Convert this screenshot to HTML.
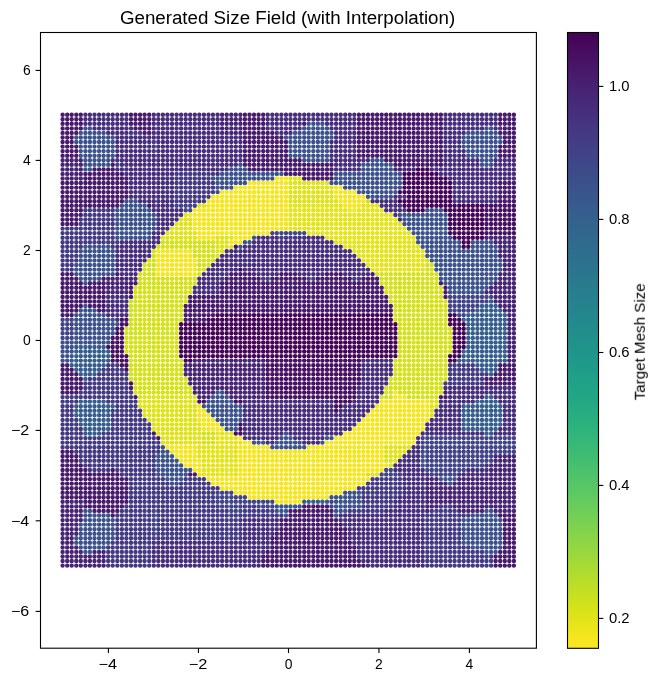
<!DOCTYPE html>
<html><head><meta charset="utf-8"><style>
html,body{margin:0;padding:0;background:#fff;width:659px;height:682px;overflow:hidden}
svg{display:block;font-family:"Liberation Sans",sans-serif}
text{will-change:transform}
</style></head><body>
<svg width="659" height="682" viewBox="0 0 659 682">
<defs><linearGradient id="cb" x1="0" y1="0" x2="0" y2="1"><stop offset="0.000" stop-color="#440154"/><stop offset="0.031" stop-color="#470d60"/><stop offset="0.062" stop-color="#48186a"/><stop offset="0.094" stop-color="#482374"/><stop offset="0.125" stop-color="#472d7b"/><stop offset="0.156" stop-color="#453781"/><stop offset="0.188" stop-color="#424086"/><stop offset="0.219" stop-color="#3e4989"/><stop offset="0.250" stop-color="#3b528b"/><stop offset="0.281" stop-color="#375b8d"/><stop offset="0.312" stop-color="#33638d"/><stop offset="0.344" stop-color="#2f6b8e"/><stop offset="0.375" stop-color="#2c728e"/><stop offset="0.406" stop-color="#297a8e"/><stop offset="0.438" stop-color="#26828e"/><stop offset="0.469" stop-color="#23898e"/><stop offset="0.500" stop-color="#21918c"/><stop offset="0.531" stop-color="#1f988b"/><stop offset="0.562" stop-color="#1fa088"/><stop offset="0.594" stop-color="#22a785"/><stop offset="0.625" stop-color="#28ae80"/><stop offset="0.656" stop-color="#32b67a"/><stop offset="0.688" stop-color="#3fbc73"/><stop offset="0.719" stop-color="#4ec36b"/><stop offset="0.750" stop-color="#5ec962"/><stop offset="0.781" stop-color="#70cf57"/><stop offset="0.812" stop-color="#84d44b"/><stop offset="0.844" stop-color="#98d83e"/><stop offset="0.875" stop-color="#addc30"/><stop offset="0.906" stop-color="#c2df23"/><stop offset="0.938" stop-color="#d8e219"/><stop offset="0.969" stop-color="#ece51b"/><stop offset="1.000" stop-color="#fde725"/></linearGradient></defs>
<rect width="659" height="682" fill="#fff"/>
<text x="119.9" y="23.6" font-size="18" textLength="335.3" lengthAdjust="spacingAndGlyphs" fill="#000">Generated Size Field (with Interpolation)</text>
<g fill="none" stroke-linecap="round" stroke-width="4.42"><path stroke="#481a6c" d="M62.6 114.7h0M67.2 114.7h0M71.7 114.7h0M76.3 114.7h0M80.8 114.7h0M131.0 114.7h0M135.5 114.7h0M140.1 114.7h0M144.6 114.7h0M149.2 114.7h0M244.9 114.7h0M249.5 114.7h0M254.0 114.7h0M258.6 114.7h0M263.2 114.7h0M358.9 114.7h0M363.4 114.7h0M368.0 114.7h0M372.6 114.7h0M377.1 114.7h0M381.7 114.7h0M386.2 114.7h0M390.8 114.7h0M395.4 114.7h0M399.9 114.7h0M404.5 114.7h0M409.0 114.7h0M413.6 114.7h0M418.1 114.7h0M422.7 114.7h0M427.3 114.7h0M431.8 114.7h0M436.4 114.7h0M440.9 114.7h0M500.2 114.7h0M504.8 114.7h0M509.3 114.7h0M513.9 114.7h0M62.6 119.3h0M67.2 119.3h0M71.7 119.3h0M76.3 119.3h0M80.8 119.3h0M131.0 119.3h0M135.5 119.3h0M140.1 119.3h0M144.6 119.3h0M149.2 119.3h0M244.9 119.3h0M249.5 119.3h0M254.0 119.3h0M258.6 119.3h0M263.2 119.3h0M358.9 119.3h0M363.4 119.3h0M368.0 119.3h0M372.6 119.3h0M377.1 119.3h0M381.7 119.3h0M386.2 119.3h0M390.8 119.3h0M395.4 119.3h0M399.9 119.3h0M404.5 119.3h0M409.0 119.3h0M413.6 119.3h0M418.1 119.3h0M422.7 119.3h0M427.3 119.3h0M431.8 119.3h0M436.4 119.3h0M440.9 119.3h0M500.2 119.3h0M504.8 119.3h0M509.3 119.3h0M513.9 119.3h0M62.6 123.8h0M67.2 123.8h0M71.7 123.8h0M76.3 123.8h0M80.8 123.8h0M131.0 123.8h0M135.5 123.8h0M140.1 123.8h0M144.6 123.8h0M149.2 123.8h0M244.9 123.8h0M249.5 123.8h0M254.0 123.8h0M258.6 123.8h0M263.2 123.8h0M304.2 123.8h0M358.9 123.8h0M363.4 123.8h0M368.0 123.8h0M372.6 123.8h0M377.1 123.8h0M381.7 123.8h0M386.2 123.8h0M390.8 123.8h0M395.4 123.8h0M399.9 123.8h0M404.5 123.8h0M409.0 123.8h0M413.6 123.8h0M418.1 123.8h0M422.7 123.8h0M427.3 123.8h0M431.8 123.8h0M436.4 123.8h0M440.9 123.8h0M500.2 123.8h0M504.8 123.8h0M509.3 123.8h0M513.9 123.8h0M62.6 128.4h0M67.2 128.4h0M71.7 128.4h0M76.3 128.4h0M80.8 128.4h0M135.5 128.4h0M140.1 128.4h0M144.6 128.4h0M149.2 128.4h0M244.9 128.4h0M249.5 128.4h0M254.0 128.4h0M258.6 128.4h0M263.2 128.4h0M358.9 128.4h0M363.4 128.4h0M368.0 128.4h0M372.6 128.4h0M377.1 128.4h0M381.7 128.4h0M386.2 128.4h0M390.8 128.4h0M395.4 128.4h0M399.9 128.4h0M404.5 128.4h0M409.0 128.4h0M413.6 128.4h0M418.1 128.4h0M422.7 128.4h0M427.3 128.4h0M431.8 128.4h0M436.4 128.4h0M440.9 128.4h0M504.8 128.4h0M509.3 128.4h0M513.9 128.4h0M62.6 132.9h0M67.2 132.9h0M71.7 132.9h0M76.3 132.9h0M144.6 132.9h0M149.2 132.9h0M244.9 132.9h0M249.5 132.9h0M254.0 132.9h0M258.6 132.9h0M263.2 132.9h0M267.7 132.9h0M272.3 132.9h0M358.9 132.9h0M363.4 132.9h0M368.0 132.9h0M372.6 132.9h0M377.1 132.9h0M381.7 132.9h0M386.2 132.9h0M390.8 132.9h0M395.4 132.9h0M399.9 132.9h0M404.5 132.9h0M409.0 132.9h0M413.6 132.9h0M418.1 132.9h0M422.7 132.9h0M427.3 132.9h0M431.8 132.9h0M436.4 132.9h0M440.9 132.9h0M500.2 132.9h0M504.8 132.9h0M509.3 132.9h0M513.9 132.9h0M62.6 137.5h0M67.2 137.5h0M71.7 137.5h0M244.9 137.5h0M249.5 137.5h0M254.0 137.5h0M258.6 137.5h0M263.2 137.5h0M267.7 137.5h0M272.3 137.5h0M276.8 137.5h0M281.4 137.5h0M358.9 137.5h0M363.4 137.5h0M368.0 137.5h0M372.6 137.5h0M377.1 137.5h0M381.7 137.5h0M386.2 137.5h0M390.8 137.5h0M395.4 137.5h0M399.9 137.5h0M404.5 137.5h0M409.0 137.5h0M413.6 137.5h0M418.1 137.5h0M422.7 137.5h0M427.3 137.5h0M431.8 137.5h0M436.4 137.5h0M440.9 137.5h0M504.8 137.5h0M509.3 137.5h0M513.9 137.5h0M62.6 142.0h0M67.2 142.0h0M71.7 142.0h0M244.9 142.0h0M249.5 142.0h0M254.0 142.0h0M258.6 142.0h0M263.2 142.0h0M267.7 142.0h0M272.3 142.0h0M276.8 142.0h0M281.4 142.0h0M286.0 142.0h0M358.9 142.0h0M363.4 142.0h0M368.0 142.0h0M372.6 142.0h0M377.1 142.0h0M381.7 142.0h0M386.2 142.0h0M390.8 142.0h0M395.4 142.0h0M399.9 142.0h0M404.5 142.0h0M409.0 142.0h0M413.6 142.0h0M418.1 142.0h0M422.7 142.0h0M427.3 142.0h0M431.8 142.0h0M436.4 142.0h0M440.9 142.0h0M504.8 142.0h0M509.3 142.0h0M513.9 142.0h0M62.6 146.6h0M67.2 146.6h0M71.7 146.6h0M76.3 146.6h0M244.9 146.6h0M249.5 146.6h0M254.0 146.6h0M258.6 146.6h0M263.2 146.6h0M267.7 146.6h0M272.3 146.6h0M276.8 146.6h0M281.4 146.6h0M286.0 146.6h0M358.9 146.6h0M363.4 146.6h0M368.0 146.6h0M372.6 146.6h0M377.1 146.6h0M381.7 146.6h0M386.2 146.6h0M390.8 146.6h0M395.4 146.6h0M399.9 146.6h0M404.5 146.6h0M409.0 146.6h0M413.6 146.6h0M418.1 146.6h0M422.7 146.6h0M427.3 146.6h0M431.8 146.6h0M436.4 146.6h0M440.9 146.6h0M500.2 146.6h0M504.8 146.6h0M509.3 146.6h0M513.9 146.6h0M62.6 151.1h0M67.2 151.1h0M71.7 151.1h0M76.3 151.1h0M244.9 151.1h0M249.5 151.1h0M254.0 151.1h0M258.6 151.1h0M263.2 151.1h0M267.7 151.1h0M272.3 151.1h0M276.8 151.1h0M281.4 151.1h0M286.0 151.1h0M358.9 151.1h0M363.4 151.1h0M368.0 151.1h0M372.6 151.1h0M377.1 151.1h0M381.7 151.1h0M386.2 151.1h0M390.8 151.1h0M395.4 151.1h0M399.9 151.1h0M404.5 151.1h0M409.0 151.1h0M413.6 151.1h0M418.1 151.1h0M422.7 151.1h0M427.3 151.1h0M431.8 151.1h0M436.4 151.1h0M440.9 151.1h0M500.2 151.1h0M504.8 151.1h0M509.3 151.1h0M513.9 151.1h0M62.6 155.7h0M67.2 155.7h0M71.7 155.7h0M76.3 155.7h0M244.9 155.7h0M249.5 155.7h0M254.0 155.7h0M258.6 155.7h0M263.2 155.7h0M267.7 155.7h0M272.3 155.7h0M276.8 155.7h0M281.4 155.7h0M286.0 155.7h0M358.9 155.7h0M363.4 155.7h0M368.0 155.7h0M372.6 155.7h0M377.1 155.7h0M381.7 155.7h0M386.2 155.7h0M390.8 155.7h0M395.4 155.7h0M399.9 155.7h0M404.5 155.7h0M409.0 155.7h0M413.6 155.7h0M418.1 155.7h0M422.7 155.7h0M427.3 155.7h0M431.8 155.7h0M436.4 155.7h0M440.9 155.7h0M500.2 155.7h0M504.8 155.7h0M509.3 155.7h0M513.9 155.7h0M244.9 160.2h0M249.5 160.2h0M254.0 160.2h0M258.6 160.2h0M263.2 160.2h0M267.7 160.2h0M272.3 160.2h0M276.8 160.2h0M281.4 160.2h0M286.0 160.2h0M290.5 160.2h0M295.1 160.2h0M299.6 160.2h0M386.2 160.2h0M390.8 160.2h0M395.4 160.2h0M399.9 160.2h0M404.5 160.2h0M409.0 160.2h0M413.6 160.2h0M418.1 160.2h0M422.7 160.2h0M427.3 160.2h0M431.8 160.2h0M436.4 160.2h0M440.9 160.2h0M112.7 164.8h0M244.9 164.8h0M249.5 164.8h0M254.0 164.8h0M258.6 164.8h0M263.2 164.8h0M267.7 164.8h0M272.3 164.8h0M276.8 164.8h0M281.4 164.8h0M286.0 164.8h0M290.5 164.8h0M295.1 164.8h0M299.6 164.8h0M304.2 164.8h0M308.7 164.8h0M313.3 164.8h0M317.9 164.8h0M322.4 164.8h0M327.0 164.8h0M331.5 164.8h0M395.4 164.8h0M399.9 164.8h0M404.5 164.8h0M409.0 164.8h0M413.6 164.8h0M418.1 164.8h0M422.7 164.8h0M427.3 164.8h0M431.8 164.8h0M436.4 164.8h0M440.9 164.8h0M94.5 169.4h0M99.1 169.4h0M103.6 169.4h0M108.2 169.4h0M112.7 169.4h0M249.5 169.4h0M254.0 169.4h0M258.6 169.4h0M263.2 169.4h0M267.7 169.4h0M272.3 169.4h0M276.8 169.4h0M281.4 169.4h0M286.0 169.4h0M290.5 169.4h0M295.1 169.4h0M299.6 169.4h0M304.2 169.4h0M308.7 169.4h0M313.3 169.4h0M317.9 169.4h0M322.4 169.4h0M327.0 169.4h0M331.5 169.4h0M85.4 173.9h0M89.9 173.9h0M94.5 173.9h0M99.1 173.9h0M103.6 173.9h0M108.2 173.9h0M112.7 173.9h0M117.3 173.9h0M121.9 173.9h0M286.0 173.9h0M290.5 173.9h0M295.1 173.9h0M299.6 173.9h0M304.2 173.9h0M308.7 173.9h0M313.3 173.9h0M317.9 173.9h0M322.4 173.9h0M327.0 173.9h0M331.5 173.9h0M85.4 178.5h0M89.9 178.5h0M94.5 178.5h0M99.1 178.5h0M103.6 178.5h0M108.2 178.5h0M112.7 178.5h0M117.3 178.5h0M121.9 178.5h0M126.4 178.5h0M304.2 178.5h0M308.7 178.5h0M313.3 178.5h0M317.9 178.5h0M322.4 178.5h0M327.0 178.5h0M331.5 178.5h0M62.6 183.0h0M67.2 183.0h0M71.7 183.0h0M76.3 183.0h0M80.8 183.0h0M85.4 183.0h0M89.9 183.0h0M94.5 183.0h0M99.1 183.0h0M103.6 183.0h0M108.2 183.0h0M112.7 183.0h0M117.3 183.0h0M121.9 183.0h0M126.4 183.0h0M500.2 183.0h0M504.8 183.0h0M509.3 183.0h0M513.9 183.0h0M62.6 187.6h0M67.2 187.6h0M71.7 187.6h0M76.3 187.6h0M80.8 187.6h0M85.4 187.6h0M89.9 187.6h0M94.5 187.6h0M99.1 187.6h0M103.6 187.6h0M108.2 187.6h0M112.7 187.6h0M117.3 187.6h0M121.9 187.6h0M126.4 187.6h0M500.2 187.6h0M504.8 187.6h0M509.3 187.6h0M513.9 187.6h0M62.6 192.1h0M67.2 192.1h0M71.7 192.1h0M76.3 192.1h0M80.8 192.1h0M85.4 192.1h0M89.9 192.1h0M94.5 192.1h0M99.1 192.1h0M103.6 192.1h0M108.2 192.1h0M112.7 192.1h0M117.3 192.1h0M121.9 192.1h0M126.4 192.1h0M500.2 192.1h0M504.8 192.1h0M509.3 192.1h0M513.9 192.1h0M62.6 196.7h0M67.2 196.7h0M71.7 196.7h0M76.3 196.7h0M80.8 196.7h0M85.4 196.7h0M89.9 196.7h0M94.5 196.7h0M99.1 196.7h0M103.6 196.7h0M108.2 196.7h0M112.7 196.7h0M117.3 196.7h0M121.9 196.7h0M126.4 196.7h0M500.2 196.7h0M504.8 196.7h0M509.3 196.7h0M513.9 196.7h0M62.6 201.2h0M67.2 201.2h0M71.7 201.2h0M76.3 201.2h0M80.8 201.2h0M85.4 201.2h0M89.9 201.2h0M94.5 201.2h0M99.1 201.2h0M103.6 201.2h0M108.2 201.2h0M112.7 201.2h0M117.3 201.2h0M121.9 201.2h0M500.2 201.2h0M504.8 201.2h0M509.3 201.2h0M513.9 201.2h0M62.6 205.8h0M67.2 205.8h0M71.7 205.8h0M76.3 205.8h0M80.8 205.8h0M85.4 205.8h0M89.9 205.8h0M94.5 205.8h0M99.1 205.8h0M103.6 205.8h0M108.2 205.8h0M112.7 205.8h0M117.3 205.8h0M149.2 205.8h0M62.6 210.3h0M67.2 210.3h0M71.7 210.3h0M76.3 210.3h0M80.8 210.3h0M62.6 214.9h0M67.2 214.9h0M71.7 214.9h0M76.3 214.9h0M80.8 214.9h0M62.6 219.5h0M67.2 219.5h0M71.7 219.5h0M76.3 219.5h0M62.6 224.0h0M67.2 224.0h0M71.7 224.0h0M76.3 224.0h0M62.6 274.1h0M67.2 274.1h0M71.7 274.1h0M117.3 274.1h0M231.3 274.1h0M235.8 274.1h0M240.4 274.1h0M244.9 274.1h0M249.5 274.1h0M281.4 274.1h0M286.0 274.1h0M290.5 274.1h0M295.1 274.1h0M327.0 274.1h0M331.5 274.1h0M336.1 274.1h0M340.7 274.1h0M372.6 274.1h0M62.6 278.7h0M67.2 278.7h0M71.7 278.7h0M76.3 278.7h0M103.6 278.7h0M226.7 278.7h0M231.3 278.7h0M235.8 278.7h0M240.4 278.7h0M244.9 278.7h0M249.5 278.7h0M254.0 278.7h0M258.6 278.7h0M272.3 278.7h0M276.8 278.7h0M281.4 278.7h0M286.0 278.7h0M290.5 278.7h0M295.1 278.7h0M299.6 278.7h0M304.2 278.7h0M317.9 278.7h0M322.4 278.7h0M327.0 278.7h0M331.5 278.7h0M336.1 278.7h0M340.7 278.7h0M345.2 278.7h0M349.8 278.7h0M363.4 278.7h0M368.0 278.7h0M372.6 278.7h0M377.1 278.7h0M62.6 283.2h0M67.2 283.2h0M71.7 283.2h0M76.3 283.2h0M80.8 283.2h0M89.9 283.2h0M94.5 283.2h0M99.1 283.2h0M103.6 283.2h0M131.0 283.2h0M135.5 283.2h0M222.1 283.2h0M226.7 283.2h0M231.3 283.2h0M235.8 283.2h0M240.4 283.2h0M244.9 283.2h0M249.5 283.2h0M254.0 283.2h0M258.6 283.2h0M263.2 283.2h0M267.7 283.2h0M272.3 283.2h0M276.8 283.2h0M281.4 283.2h0M286.0 283.2h0M290.5 283.2h0M295.1 283.2h0M299.6 283.2h0M304.2 283.2h0M308.7 283.2h0M313.3 283.2h0M317.9 283.2h0M322.4 283.2h0M327.0 283.2h0M331.5 283.2h0M336.1 283.2h0M340.7 283.2h0M345.2 283.2h0M349.8 283.2h0M354.3 283.2h0M358.9 283.2h0M363.4 283.2h0M368.0 283.2h0M372.6 283.2h0M377.1 283.2h0M440.9 283.2h0M62.6 287.8h0M67.2 287.8h0M71.7 287.8h0M76.3 287.8h0M80.8 287.8h0M85.4 287.8h0M89.9 287.8h0M94.5 287.8h0M99.1 287.8h0M103.6 287.8h0M131.0 287.8h0M222.1 287.8h0M226.7 287.8h0M231.3 287.8h0M235.8 287.8h0M240.4 287.8h0M244.9 287.8h0M249.5 287.8h0M254.0 287.8h0M258.6 287.8h0M263.2 287.8h0M267.7 287.8h0M272.3 287.8h0M276.8 287.8h0M281.4 287.8h0M286.0 287.8h0M290.5 287.8h0M295.1 287.8h0M299.6 287.8h0M304.2 287.8h0M308.7 287.8h0M313.3 287.8h0M317.9 287.8h0M322.4 287.8h0M327.0 287.8h0M331.5 287.8h0M336.1 287.8h0M340.7 287.8h0M345.2 287.8h0M349.8 287.8h0M354.3 287.8h0M358.9 287.8h0M363.4 287.8h0M368.0 287.8h0M372.6 287.8h0M377.1 287.8h0M381.7 287.8h0M445.5 287.8h0M62.6 292.3h0M67.2 292.3h0M71.7 292.3h0M76.3 292.3h0M80.8 292.3h0M85.4 292.3h0M89.9 292.3h0M94.5 292.3h0M99.1 292.3h0M103.6 292.3h0M131.0 292.3h0M222.1 292.3h0M226.7 292.3h0M231.3 292.3h0M235.8 292.3h0M240.4 292.3h0M244.9 292.3h0M249.5 292.3h0M254.0 292.3h0M258.6 292.3h0M263.2 292.3h0M267.7 292.3h0M272.3 292.3h0M276.8 292.3h0M281.4 292.3h0M286.0 292.3h0M290.5 292.3h0M295.1 292.3h0M299.6 292.3h0M304.2 292.3h0M308.7 292.3h0M313.3 292.3h0M317.9 292.3h0M322.4 292.3h0M327.0 292.3h0M331.5 292.3h0M336.1 292.3h0M340.7 292.3h0M345.2 292.3h0M349.8 292.3h0M354.3 292.3h0M358.9 292.3h0M363.4 292.3h0M368.0 292.3h0M372.6 292.3h0M377.1 292.3h0M381.7 292.3h0M445.5 292.3h0M62.6 296.9h0M67.2 296.9h0M71.7 296.9h0M76.3 296.9h0M80.8 296.9h0M85.4 296.9h0M89.9 296.9h0M94.5 296.9h0M99.1 296.9h0M103.6 296.9h0M131.0 296.9h0M190.2 296.9h0M194.8 296.9h0M199.3 296.9h0M203.9 296.9h0M208.5 296.9h0M213.0 296.9h0M217.6 296.9h0M222.1 296.9h0M226.7 296.9h0M231.3 296.9h0M235.8 296.9h0M240.4 296.9h0M244.9 296.9h0M249.5 296.9h0M254.0 296.9h0M258.6 296.9h0M263.2 296.9h0M267.7 296.9h0M272.3 296.9h0M276.8 296.9h0M281.4 296.9h0M286.0 296.9h0M290.5 296.9h0M295.1 296.9h0M299.6 296.9h0M304.2 296.9h0M308.7 296.9h0M313.3 296.9h0M317.9 296.9h0M322.4 296.9h0M327.0 296.9h0M331.5 296.9h0M336.1 296.9h0M340.7 296.9h0M345.2 296.9h0M349.8 296.9h0M354.3 296.9h0M358.9 296.9h0M363.4 296.9h0M368.0 296.9h0M372.6 296.9h0M377.1 296.9h0M381.7 296.9h0M386.2 296.9h0M445.5 296.9h0M62.6 301.4h0M67.2 301.4h0M71.7 301.4h0M76.3 301.4h0M80.8 301.4h0M85.4 301.4h0M89.9 301.4h0M94.5 301.4h0M99.1 301.4h0M103.6 301.4h0M190.2 301.4h0M194.8 301.4h0M199.3 301.4h0M203.9 301.4h0M208.5 301.4h0M213.0 301.4h0M217.6 301.4h0M222.1 301.4h0M226.7 301.4h0M231.3 301.4h0M235.8 301.4h0M240.4 301.4h0M244.9 301.4h0M249.5 301.4h0M254.0 301.4h0M258.6 301.4h0M263.2 301.4h0M267.7 301.4h0M272.3 301.4h0M276.8 301.4h0M281.4 301.4h0M286.0 301.4h0M290.5 301.4h0M295.1 301.4h0M299.6 301.4h0M304.2 301.4h0M308.7 301.4h0M313.3 301.4h0M317.9 301.4h0M322.4 301.4h0M327.0 301.4h0M331.5 301.4h0M336.1 301.4h0M340.7 301.4h0M345.2 301.4h0M349.8 301.4h0M354.3 301.4h0M358.9 301.4h0M363.4 301.4h0M368.0 301.4h0M372.6 301.4h0M377.1 301.4h0M381.7 301.4h0M386.2 301.4h0M62.6 306.0h0M67.2 306.0h0M71.7 306.0h0M76.3 306.0h0M80.8 306.0h0M89.9 306.0h0M94.5 306.0h0M99.1 306.0h0M103.6 306.0h0M185.7 306.0h0M190.2 306.0h0M194.8 306.0h0M199.3 306.0h0M203.9 306.0h0M208.5 306.0h0M213.0 306.0h0M217.6 306.0h0M222.1 306.0h0M226.7 306.0h0M231.3 306.0h0M235.8 306.0h0M240.4 306.0h0M244.9 306.0h0M249.5 306.0h0M254.0 306.0h0M258.6 306.0h0M263.2 306.0h0M267.7 306.0h0M272.3 306.0h0M276.8 306.0h0M281.4 306.0h0M286.0 306.0h0M290.5 306.0h0M295.1 306.0h0M299.6 306.0h0M304.2 306.0h0M308.7 306.0h0M313.3 306.0h0M317.9 306.0h0M322.4 306.0h0M327.0 306.0h0M331.5 306.0h0M336.1 306.0h0M340.7 306.0h0M345.2 306.0h0M349.8 306.0h0M354.3 306.0h0M358.9 306.0h0M363.4 306.0h0M368.0 306.0h0M372.6 306.0h0M377.1 306.0h0M381.7 306.0h0M386.2 306.0h0M390.8 306.0h0M62.6 310.5h0M67.2 310.5h0M71.7 310.5h0M76.3 310.5h0M99.1 310.5h0M103.6 310.5h0M185.7 310.5h0M190.2 310.5h0M194.8 310.5h0M199.3 310.5h0M203.9 310.5h0M208.5 310.5h0M213.0 310.5h0M217.6 310.5h0M222.1 310.5h0M226.7 310.5h0M231.3 310.5h0M235.8 310.5h0M240.4 310.5h0M244.9 310.5h0M249.5 310.5h0M254.0 310.5h0M258.6 310.5h0M263.2 310.5h0M267.7 310.5h0M272.3 310.5h0M276.8 310.5h0M281.4 310.5h0M286.0 310.5h0M290.5 310.5h0M295.1 310.5h0M299.6 310.5h0M304.2 310.5h0M308.7 310.5h0M313.3 310.5h0M317.9 310.5h0M322.4 310.5h0M327.0 310.5h0M331.5 310.5h0M336.1 310.5h0M340.7 310.5h0M345.2 310.5h0M349.8 310.5h0M354.3 310.5h0M358.9 310.5h0M363.4 310.5h0M368.0 310.5h0M372.6 310.5h0M377.1 310.5h0M381.7 310.5h0M386.2 310.5h0M390.8 310.5h0M62.6 315.1h0M67.2 315.1h0M71.7 315.1h0M185.7 315.1h0M190.2 315.1h0M194.8 315.1h0M199.3 315.1h0M203.9 315.1h0M208.5 315.1h0M213.0 315.1h0M185.7 319.7h0M190.2 319.7h0M194.8 319.7h0M199.3 319.7h0M203.9 319.7h0M62.6 365.2h0M67.2 365.2h0M500.2 365.2h0M504.8 365.2h0M509.3 365.2h0M513.9 365.2h0M62.6 369.8h0M67.2 369.8h0M71.7 369.8h0M500.2 369.8h0M504.8 369.8h0M509.3 369.8h0M513.9 369.8h0M62.6 374.3h0M67.2 374.3h0M71.7 374.3h0M76.3 374.3h0M495.6 374.3h0M500.2 374.3h0M504.8 374.3h0M509.3 374.3h0M513.9 374.3h0M62.6 378.9h0M67.2 378.9h0M71.7 378.9h0M76.3 378.9h0M80.8 378.9h0M486.5 378.9h0M491.1 378.9h0M495.6 378.9h0M500.2 378.9h0M504.8 378.9h0M509.3 378.9h0M513.9 378.9h0M62.6 383.4h0M67.2 383.4h0M71.7 383.4h0M76.3 383.4h0M80.8 383.4h0M486.5 383.4h0M491.1 383.4h0M495.6 383.4h0M500.2 383.4h0M504.8 383.4h0M509.3 383.4h0M513.9 383.4h0M62.6 388.0h0M67.2 388.0h0M71.7 388.0h0M76.3 388.0h0M80.8 388.0h0M131.0 388.0h0M62.6 392.5h0M67.2 392.5h0M71.7 392.5h0M76.3 392.5h0M445.5 392.5h0M135.5 397.1h0M440.9 397.1h0M445.5 397.1h0M153.8 433.5h0M158.3 438.1h0M62.6 451.7h0M67.2 451.7h0M71.7 451.7h0M62.6 456.3h0M67.2 456.3h0M71.7 456.3h0M76.3 456.3h0M62.6 460.8h0M67.2 460.8h0M71.7 460.8h0M76.3 460.8h0M62.6 465.4h0M67.2 465.4h0M71.7 465.4h0M76.3 465.4h0M80.8 465.4h0M62.6 470.0h0M67.2 470.0h0M71.7 470.0h0M76.3 470.0h0M80.8 470.0h0M85.4 470.0h0M112.7 470.0h0M62.6 474.5h0M67.2 474.5h0M71.7 474.5h0M76.3 474.5h0M80.8 474.5h0M85.4 474.5h0M89.9 474.5h0M94.5 474.5h0M99.1 474.5h0M103.6 474.5h0M108.2 474.5h0M112.7 474.5h0M117.3 474.5h0M190.2 474.5h0M194.8 474.5h0M62.6 479.1h0M67.2 479.1h0M71.7 479.1h0M76.3 479.1h0M80.8 479.1h0M85.4 479.1h0M89.9 479.1h0M94.5 479.1h0M99.1 479.1h0M103.6 479.1h0M108.2 479.1h0M112.7 479.1h0M117.3 479.1h0M121.9 479.1h0M126.4 479.1h0M62.6 483.6h0M67.2 483.6h0M71.7 483.6h0M76.3 483.6h0M80.8 483.6h0M85.4 483.6h0M89.9 483.6h0M94.5 483.6h0M99.1 483.6h0M103.6 483.6h0M108.2 483.6h0M112.7 483.6h0M117.3 483.6h0M121.9 483.6h0M126.4 483.6h0M62.6 488.2h0M67.2 488.2h0M71.7 488.2h0M76.3 488.2h0M80.8 488.2h0M85.4 488.2h0M89.9 488.2h0M94.5 488.2h0M99.1 488.2h0M103.6 488.2h0M108.2 488.2h0M112.7 488.2h0M117.3 488.2h0M121.9 488.2h0M126.4 488.2h0M62.6 492.7h0M67.2 492.7h0M71.7 492.7h0M76.3 492.7h0M80.8 492.7h0M85.4 492.7h0M89.9 492.7h0M94.5 492.7h0M99.1 492.7h0M103.6 492.7h0M108.2 492.7h0M112.7 492.7h0M117.3 492.7h0M121.9 492.7h0M126.4 492.7h0M62.6 497.3h0M67.2 497.3h0M71.7 497.3h0M76.3 497.3h0M80.8 497.3h0M85.4 497.3h0M89.9 497.3h0M94.5 497.3h0M99.1 497.3h0M103.6 497.3h0M108.2 497.3h0M112.7 497.3h0M117.3 497.3h0M121.9 497.3h0M126.4 497.3h0M85.4 501.8h0M89.9 501.8h0M94.5 501.8h0M99.1 501.8h0M103.6 501.8h0M108.2 501.8h0M112.7 501.8h0M117.3 501.8h0M121.9 501.8h0M126.4 501.8h0M85.4 506.4h0M89.9 506.4h0M94.5 506.4h0M99.1 506.4h0M103.6 506.4h0M108.2 506.4h0M112.7 506.4h0M117.3 506.4h0M121.9 506.4h0M304.2 506.4h0M308.7 506.4h0M313.3 506.4h0M317.9 506.4h0M322.4 506.4h0M327.0 506.4h0M94.5 510.9h0M99.1 510.9h0M103.6 510.9h0M108.2 510.9h0M112.7 510.9h0M117.3 510.9h0M290.5 510.9h0M295.1 510.9h0M299.6 510.9h0M304.2 510.9h0M308.7 510.9h0M313.3 510.9h0M317.9 510.9h0M322.4 510.9h0M327.0 510.9h0M331.5 510.9h0M112.7 515.5h0M290.5 515.5h0M295.1 515.5h0M299.6 515.5h0M304.2 515.5h0M308.7 515.5h0M313.3 515.5h0M317.9 515.5h0M322.4 515.5h0M327.0 515.5h0M331.5 515.5h0M500.2 515.5h0M504.8 515.5h0M509.3 515.5h0M513.9 515.5h0M281.4 520.1h0M286.0 520.1h0M290.5 520.1h0M295.1 520.1h0M299.6 520.1h0M304.2 520.1h0M308.7 520.1h0M313.3 520.1h0M317.9 520.1h0M322.4 520.1h0M327.0 520.1h0M331.5 520.1h0M336.1 520.1h0M504.8 520.1h0M509.3 520.1h0M513.9 520.1h0M281.4 524.6h0M286.0 524.6h0M290.5 524.6h0M295.1 524.6h0M299.6 524.6h0M304.2 524.6h0M308.7 524.6h0M313.3 524.6h0M317.9 524.6h0M322.4 524.6h0M327.0 524.6h0M331.5 524.6h0M336.1 524.6h0M340.7 524.6h0M504.8 524.6h0M509.3 524.6h0M513.9 524.6h0M281.4 529.2h0M286.0 529.2h0M290.5 529.2h0M295.1 529.2h0M299.6 529.2h0M304.2 529.2h0M308.7 529.2h0M313.3 529.2h0M317.9 529.2h0M322.4 529.2h0M327.0 529.2h0M331.5 529.2h0M336.1 529.2h0M340.7 529.2h0M345.2 529.2h0M504.8 529.2h0M509.3 529.2h0M513.9 529.2h0M276.8 533.7h0M281.4 533.7h0M286.0 533.7h0M290.5 533.7h0M295.1 533.7h0M299.6 533.7h0M304.2 533.7h0M308.7 533.7h0M313.3 533.7h0M317.9 533.7h0M322.4 533.7h0M327.0 533.7h0M331.5 533.7h0M336.1 533.7h0M340.7 533.7h0M345.2 533.7h0M504.8 533.7h0M509.3 533.7h0M513.9 533.7h0M272.3 538.3h0M276.8 538.3h0M281.4 538.3h0M286.0 538.3h0M290.5 538.3h0M295.1 538.3h0M299.6 538.3h0M304.2 538.3h0M308.7 538.3h0M313.3 538.3h0M317.9 538.3h0M322.4 538.3h0M327.0 538.3h0M331.5 538.3h0M336.1 538.3h0M340.7 538.3h0M345.2 538.3h0M504.8 538.3h0M509.3 538.3h0M513.9 538.3h0M272.3 542.8h0M276.8 542.8h0M281.4 542.8h0M286.0 542.8h0M290.5 542.8h0M295.1 542.8h0M299.6 542.8h0M304.2 542.8h0M308.7 542.8h0M313.3 542.8h0M317.9 542.8h0M322.4 542.8h0M327.0 542.8h0M331.5 542.8h0M336.1 542.8h0M340.7 542.8h0M345.2 542.8h0M349.8 542.8h0M504.8 542.8h0M509.3 542.8h0M513.9 542.8h0M272.3 547.4h0M276.8 547.4h0M281.4 547.4h0M286.0 547.4h0M290.5 547.4h0M295.1 547.4h0M299.6 547.4h0M304.2 547.4h0M308.7 547.4h0M313.3 547.4h0M317.9 547.4h0M322.4 547.4h0M327.0 547.4h0M331.5 547.4h0M336.1 547.4h0M340.7 547.4h0M345.2 547.4h0M349.8 547.4h0M354.3 547.4h0M504.8 547.4h0M509.3 547.4h0M513.9 547.4h0M267.7 551.9h0M272.3 551.9h0M276.8 551.9h0M281.4 551.9h0M286.0 551.9h0M290.5 551.9h0M295.1 551.9h0M299.6 551.9h0M304.2 551.9h0M308.7 551.9h0M313.3 551.9h0M317.9 551.9h0M322.4 551.9h0M327.0 551.9h0M331.5 551.9h0M336.1 551.9h0M340.7 551.9h0M345.2 551.9h0M349.8 551.9h0M354.3 551.9h0M500.2 551.9h0M504.8 551.9h0M509.3 551.9h0M513.9 551.9h0M263.2 556.5h0M267.7 556.5h0M272.3 556.5h0M276.8 556.5h0M281.4 556.5h0M286.0 556.5h0M290.5 556.5h0M295.1 556.5h0M299.6 556.5h0M304.2 556.5h0M308.7 556.5h0M313.3 556.5h0M317.9 556.5h0M322.4 556.5h0M327.0 556.5h0M331.5 556.5h0M336.1 556.5h0M340.7 556.5h0M345.2 556.5h0M349.8 556.5h0M354.3 556.5h0M495.6 556.5h0M500.2 556.5h0M504.8 556.5h0M509.3 556.5h0M513.9 556.5h0M263.2 561.0h0M267.7 561.0h0M272.3 561.0h0M276.8 561.0h0M281.4 561.0h0M286.0 561.0h0M290.5 561.0h0M295.1 561.0h0M299.6 561.0h0M304.2 561.0h0M308.7 561.0h0M313.3 561.0h0M317.9 561.0h0M322.4 561.0h0M327.0 561.0h0M331.5 561.0h0M336.1 561.0h0M340.7 561.0h0M345.2 561.0h0M349.8 561.0h0M354.3 561.0h0M358.9 561.0h0M495.6 561.0h0M500.2 561.0h0M504.8 561.0h0M509.3 561.0h0M513.9 561.0h0M263.2 565.6h0M267.7 565.6h0M272.3 565.6h0M276.8 565.6h0M281.4 565.6h0M286.0 565.6h0M290.5 565.6h0M295.1 565.6h0M299.6 565.6h0M304.2 565.6h0M308.7 565.6h0M313.3 565.6h0M317.9 565.6h0M322.4 565.6h0M327.0 565.6h0M331.5 565.6h0M336.1 565.6h0M340.7 565.6h0M345.2 565.6h0M349.8 565.6h0M354.3 565.6h0M358.9 565.6h0M363.4 565.6h0M495.6 565.6h0M500.2 565.6h0M504.8 565.6h0M509.3 565.6h0M513.9 565.6h0"/><path stroke="#472e7c" d="M85.4 114.7h0M89.9 114.7h0M94.5 114.7h0M99.1 114.7h0M103.6 114.7h0M108.2 114.7h0M112.7 114.7h0M117.3 114.7h0M121.9 114.7h0M126.4 114.7h0M153.8 114.7h0M158.3 114.7h0M162.9 114.7h0M167.4 114.7h0M172.0 114.7h0M176.6 114.7h0M181.1 114.7h0M185.7 114.7h0M190.2 114.7h0M194.8 114.7h0M199.3 114.7h0M203.9 114.7h0M208.5 114.7h0M213.0 114.7h0M217.6 114.7h0M267.7 114.7h0M272.3 114.7h0M276.8 114.7h0M281.4 114.7h0M286.0 114.7h0M290.5 114.7h0M295.1 114.7h0M299.6 114.7h0M304.2 114.7h0M308.7 114.7h0M313.3 114.7h0M317.9 114.7h0M322.4 114.7h0M327.0 114.7h0M331.5 114.7h0M336.1 114.7h0M340.7 114.7h0M345.2 114.7h0M349.8 114.7h0M354.3 114.7h0M445.5 114.7h0M450.1 114.7h0M454.6 114.7h0M459.2 114.7h0M463.7 114.7h0M468.3 114.7h0M472.8 114.7h0M477.4 114.7h0M482.0 114.7h0M486.5 114.7h0M491.1 114.7h0M495.6 114.7h0M85.4 119.3h0M89.9 119.3h0M94.5 119.3h0M99.1 119.3h0M103.6 119.3h0M108.2 119.3h0M112.7 119.3h0M117.3 119.3h0M121.9 119.3h0M126.4 119.3h0M153.8 119.3h0M158.3 119.3h0M162.9 119.3h0M167.4 119.3h0M172.0 119.3h0M176.6 119.3h0M181.1 119.3h0M185.7 119.3h0M190.2 119.3h0M194.8 119.3h0M199.3 119.3h0M203.9 119.3h0M208.5 119.3h0M213.0 119.3h0M217.6 119.3h0M267.7 119.3h0M272.3 119.3h0M276.8 119.3h0M281.4 119.3h0M286.0 119.3h0M290.5 119.3h0M295.1 119.3h0M299.6 119.3h0M304.2 119.3h0M308.7 119.3h0M313.3 119.3h0M317.9 119.3h0M322.4 119.3h0M327.0 119.3h0M331.5 119.3h0M336.1 119.3h0M340.7 119.3h0M345.2 119.3h0M349.8 119.3h0M354.3 119.3h0M445.5 119.3h0M450.1 119.3h0M454.6 119.3h0M459.2 119.3h0M463.7 119.3h0M468.3 119.3h0M472.8 119.3h0M477.4 119.3h0M482.0 119.3h0M486.5 119.3h0M491.1 119.3h0M495.6 119.3h0M85.4 123.8h0M89.9 123.8h0M94.5 123.8h0M99.1 123.8h0M103.6 123.8h0M108.2 123.8h0M112.7 123.8h0M117.3 123.8h0M121.9 123.8h0M126.4 123.8h0M153.8 123.8h0M158.3 123.8h0M162.9 123.8h0M167.4 123.8h0M172.0 123.8h0M176.6 123.8h0M181.1 123.8h0M185.7 123.8h0M190.2 123.8h0M194.8 123.8h0M199.3 123.8h0M203.9 123.8h0M208.5 123.8h0M213.0 123.8h0M217.6 123.8h0M267.7 123.8h0M272.3 123.8h0M276.8 123.8h0M281.4 123.8h0M286.0 123.8h0M290.5 123.8h0M295.1 123.8h0M299.6 123.8h0M327.0 123.8h0M331.5 123.8h0M336.1 123.8h0M340.7 123.8h0M345.2 123.8h0M349.8 123.8h0M354.3 123.8h0M445.5 123.8h0M450.1 123.8h0M454.6 123.8h0M459.2 123.8h0M463.7 123.8h0M468.3 123.8h0M472.8 123.8h0M477.4 123.8h0M482.0 123.8h0M486.5 123.8h0M491.1 123.8h0M495.6 123.8h0M94.5 128.4h0M99.1 128.4h0M103.6 128.4h0M108.2 128.4h0M112.7 128.4h0M117.3 128.4h0M121.9 128.4h0M126.4 128.4h0M131.0 128.4h0M153.8 128.4h0M158.3 128.4h0M162.9 128.4h0M167.4 128.4h0M172.0 128.4h0M176.6 128.4h0M181.1 128.4h0M185.7 128.4h0M190.2 128.4h0M194.8 128.4h0M199.3 128.4h0M203.9 128.4h0M208.5 128.4h0M213.0 128.4h0M217.6 128.4h0M267.7 128.4h0M272.3 128.4h0M276.8 128.4h0M281.4 128.4h0M286.0 128.4h0M290.5 128.4h0M295.1 128.4h0M299.6 128.4h0M331.5 128.4h0M336.1 128.4h0M340.7 128.4h0M345.2 128.4h0M349.8 128.4h0M354.3 128.4h0M445.5 128.4h0M450.1 128.4h0M454.6 128.4h0M459.2 128.4h0M463.7 128.4h0M468.3 128.4h0M472.8 128.4h0M477.4 128.4h0M482.0 128.4h0M495.6 128.4h0M500.2 128.4h0M108.2 132.9h0M112.7 132.9h0M117.3 132.9h0M121.9 132.9h0M126.4 132.9h0M153.8 132.9h0M158.3 132.9h0M162.9 132.9h0M167.4 132.9h0M172.0 132.9h0M176.6 132.9h0M181.1 132.9h0M185.7 132.9h0M190.2 132.9h0M194.8 132.9h0M199.3 132.9h0M203.9 132.9h0M208.5 132.9h0M213.0 132.9h0M217.6 132.9h0M276.8 132.9h0M281.4 132.9h0M286.0 132.9h0M290.5 132.9h0M336.1 132.9h0M340.7 132.9h0M345.2 132.9h0M349.8 132.9h0M354.3 132.9h0M445.5 132.9h0M450.1 132.9h0M454.6 132.9h0M459.2 132.9h0M463.7 132.9h0M117.3 137.5h0M121.9 137.5h0M126.4 137.5h0M131.0 137.5h0M135.5 137.5h0M140.1 137.5h0M144.6 137.5h0M149.2 137.5h0M153.8 137.5h0M158.3 137.5h0M162.9 137.5h0M167.4 137.5h0M172.0 137.5h0M176.6 137.5h0M181.1 137.5h0M185.7 137.5h0M190.2 137.5h0M194.8 137.5h0M199.3 137.5h0M203.9 137.5h0M208.5 137.5h0M213.0 137.5h0M217.6 137.5h0M222.1 137.5h0M226.7 137.5h0M231.3 137.5h0M235.8 137.5h0M240.4 137.5h0M336.1 137.5h0M340.7 137.5h0M345.2 137.5h0M349.8 137.5h0M354.3 137.5h0M445.5 137.5h0M450.1 137.5h0M454.6 137.5h0M459.2 137.5h0M117.3 142.0h0M121.9 142.0h0M126.4 142.0h0M131.0 142.0h0M135.5 142.0h0M140.1 142.0h0M144.6 142.0h0M149.2 142.0h0M158.3 142.0h0M162.9 142.0h0M167.4 142.0h0M172.0 142.0h0M176.6 142.0h0M181.1 142.0h0M185.7 142.0h0M190.2 142.0h0M194.8 142.0h0M199.3 142.0h0M203.9 142.0h0M208.5 142.0h0M213.0 142.0h0M217.6 142.0h0M222.1 142.0h0M226.7 142.0h0M231.3 142.0h0M235.8 142.0h0M240.4 142.0h0M331.5 142.0h0M336.1 142.0h0M340.7 142.0h0M345.2 142.0h0M349.8 142.0h0M354.3 142.0h0M445.5 142.0h0M450.1 142.0h0M454.6 142.0h0M459.2 142.0h0M117.3 146.6h0M121.9 146.6h0M126.4 146.6h0M131.0 146.6h0M135.5 146.6h0M140.1 146.6h0M144.6 146.6h0M149.2 146.6h0M158.3 146.6h0M162.9 146.6h0M167.4 146.6h0M172.0 146.6h0M176.6 146.6h0M181.1 146.6h0M185.7 146.6h0M190.2 146.6h0M194.8 146.6h0M199.3 146.6h0M203.9 146.6h0M208.5 146.6h0M213.0 146.6h0M217.6 146.6h0M222.1 146.6h0M226.7 146.6h0M231.3 146.6h0M235.8 146.6h0M240.4 146.6h0M331.5 146.6h0M336.1 146.6h0M340.7 146.6h0M345.2 146.6h0M349.8 146.6h0M354.3 146.6h0M445.5 146.6h0M450.1 146.6h0M454.6 146.6h0M459.2 146.6h0M117.3 151.1h0M121.9 151.1h0M126.4 151.1h0M131.0 151.1h0M135.5 151.1h0M140.1 151.1h0M144.6 151.1h0M149.2 151.1h0M158.3 151.1h0M162.9 151.1h0M167.4 151.1h0M172.0 151.1h0M176.6 151.1h0M181.1 151.1h0M185.7 151.1h0M190.2 151.1h0M194.8 151.1h0M199.3 151.1h0M203.9 151.1h0M208.5 151.1h0M213.0 151.1h0M217.6 151.1h0M222.1 151.1h0M226.7 151.1h0M231.3 151.1h0M235.8 151.1h0M240.4 151.1h0M331.5 151.1h0M336.1 151.1h0M340.7 151.1h0M345.2 151.1h0M349.8 151.1h0M354.3 151.1h0M445.5 151.1h0M450.1 151.1h0M454.6 151.1h0M459.2 151.1h0M463.7 151.1h0M117.3 155.7h0M121.9 155.7h0M126.4 155.7h0M131.0 155.7h0M135.5 155.7h0M140.1 155.7h0M144.6 155.7h0M149.2 155.7h0M153.8 155.7h0M158.3 155.7h0M162.9 155.7h0M167.4 155.7h0M172.0 155.7h0M176.6 155.7h0M181.1 155.7h0M185.7 155.7h0M190.2 155.7h0M194.8 155.7h0M199.3 155.7h0M203.9 155.7h0M208.5 155.7h0M213.0 155.7h0M217.6 155.7h0M222.1 155.7h0M226.7 155.7h0M231.3 155.7h0M235.8 155.7h0M240.4 155.7h0M331.5 155.7h0M336.1 155.7h0M340.7 155.7h0M345.2 155.7h0M349.8 155.7h0M354.3 155.7h0M445.5 155.7h0M450.1 155.7h0M454.6 155.7h0M459.2 155.7h0M463.7 155.7h0M112.7 160.2h0M117.3 160.2h0M121.9 160.2h0M126.4 160.2h0M131.0 160.2h0M135.5 160.2h0M140.1 160.2h0M144.6 160.2h0M149.2 160.2h0M153.8 160.2h0M158.3 160.2h0M162.9 160.2h0M167.4 160.2h0M172.0 160.2h0M176.6 160.2h0M181.1 160.2h0M185.7 160.2h0M190.2 160.2h0M194.8 160.2h0M199.3 160.2h0M203.9 160.2h0M208.5 160.2h0M213.0 160.2h0M217.6 160.2h0M222.1 160.2h0M226.7 160.2h0M231.3 160.2h0M235.8 160.2h0M240.4 160.2h0M331.5 160.2h0M336.1 160.2h0M340.7 160.2h0M345.2 160.2h0M349.8 160.2h0M354.3 160.2h0M358.9 160.2h0M363.4 160.2h0M368.0 160.2h0M445.5 160.2h0M450.1 160.2h0M454.6 160.2h0M459.2 160.2h0M463.7 160.2h0M468.3 160.2h0M472.8 160.2h0M477.4 160.2h0M495.6 160.2h0M500.2 160.2h0M504.8 160.2h0M509.3 160.2h0M513.9 160.2h0M121.9 164.8h0M126.4 164.8h0M131.0 164.8h0M135.5 164.8h0M140.1 164.8h0M144.6 164.8h0M149.2 164.8h0M153.8 164.8h0M158.3 164.8h0M162.9 164.8h0M167.4 164.8h0M172.0 164.8h0M176.6 164.8h0M181.1 164.8h0M185.7 164.8h0M190.2 164.8h0M194.8 164.8h0M199.3 164.8h0M203.9 164.8h0M208.5 164.8h0M213.0 164.8h0M217.6 164.8h0M222.1 164.8h0M226.7 164.8h0M231.3 164.8h0M235.8 164.8h0M336.1 164.8h0M340.7 164.8h0M345.2 164.8h0M349.8 164.8h0M354.3 164.8h0M358.9 164.8h0M445.5 164.8h0M450.1 164.8h0M454.6 164.8h0M459.2 164.8h0M463.7 164.8h0M468.3 164.8h0M472.8 164.8h0M477.4 164.8h0M495.6 164.8h0M500.2 164.8h0M504.8 164.8h0M509.3 164.8h0M513.9 164.8h0M117.3 169.4h0M121.9 169.4h0M126.4 169.4h0M131.0 169.4h0M135.5 169.4h0M140.1 169.4h0M144.6 169.4h0M149.2 169.4h0M153.8 169.4h0M158.3 169.4h0M162.9 169.4h0M167.4 169.4h0M172.0 169.4h0M176.6 169.4h0M181.1 169.4h0M185.7 169.4h0M190.2 169.4h0M194.8 169.4h0M199.3 169.4h0M203.9 169.4h0M208.5 169.4h0M213.0 169.4h0M217.6 169.4h0M222.1 169.4h0M226.7 169.4h0M336.1 169.4h0M340.7 169.4h0M345.2 169.4h0M349.8 169.4h0M354.3 169.4h0M358.9 169.4h0M431.8 169.4h0M436.4 169.4h0M440.9 169.4h0M445.5 169.4h0M450.1 169.4h0M454.6 169.4h0M459.2 169.4h0M463.7 169.4h0M468.3 169.4h0M472.8 169.4h0M477.4 169.4h0M482.0 169.4h0M486.5 169.4h0M491.1 169.4h0M495.6 169.4h0M500.2 169.4h0M504.8 169.4h0M509.3 169.4h0M513.9 169.4h0M126.4 173.9h0M131.0 173.9h0M135.5 173.9h0M140.1 173.9h0M144.6 173.9h0M149.2 173.9h0M153.8 173.9h0M158.3 173.9h0M162.9 173.9h0M167.4 173.9h0M172.0 173.9h0M217.6 173.9h0M440.9 173.9h0M445.5 173.9h0M450.1 173.9h0M454.6 173.9h0M459.2 173.9h0M463.7 173.9h0M468.3 173.9h0M472.8 173.9h0M477.4 173.9h0M482.0 173.9h0M486.5 173.9h0M491.1 173.9h0M495.6 173.9h0M500.2 173.9h0M504.8 173.9h0M509.3 173.9h0M513.9 173.9h0M131.0 178.5h0M135.5 178.5h0M140.1 178.5h0M144.6 178.5h0M149.2 178.5h0M153.8 178.5h0M158.3 178.5h0M162.9 178.5h0M167.4 178.5h0M172.0 178.5h0M450.1 178.5h0M454.6 178.5h0M459.2 178.5h0M463.7 178.5h0M468.3 178.5h0M472.8 178.5h0M477.4 178.5h0M482.0 178.5h0M486.5 178.5h0M491.1 178.5h0M495.6 178.5h0M500.2 178.5h0M504.8 178.5h0M509.3 178.5h0M513.9 178.5h0M131.0 183.0h0M135.5 183.0h0M140.1 183.0h0M144.6 183.0h0M149.2 183.0h0M153.8 183.0h0M158.3 183.0h0M162.9 183.0h0M167.4 183.0h0M172.0 183.0h0M454.6 183.0h0M459.2 183.0h0M463.7 183.0h0M468.3 183.0h0M472.8 183.0h0M477.4 183.0h0M482.0 183.0h0M486.5 183.0h0M491.1 183.0h0M495.6 183.0h0M131.0 187.6h0M135.5 187.6h0M140.1 187.6h0M144.6 187.6h0M149.2 187.6h0M153.8 187.6h0M158.3 187.6h0M162.9 187.6h0M167.4 187.6h0M172.0 187.6h0M454.6 187.6h0M459.2 187.6h0M463.7 187.6h0M468.3 187.6h0M472.8 187.6h0M477.4 187.6h0M482.0 187.6h0M486.5 187.6h0M491.1 187.6h0M495.6 187.6h0M131.0 192.1h0M135.5 192.1h0M140.1 192.1h0M144.6 192.1h0M149.2 192.1h0M153.8 192.1h0M158.3 192.1h0M162.9 192.1h0M167.4 192.1h0M172.0 192.1h0M454.6 192.1h0M459.2 192.1h0M463.7 192.1h0M468.3 192.1h0M472.8 192.1h0M477.4 192.1h0M482.0 192.1h0M486.5 192.1h0M491.1 192.1h0M495.6 192.1h0M131.0 196.7h0M135.5 196.7h0M140.1 196.7h0M144.6 196.7h0M149.2 196.7h0M153.8 196.7h0M158.3 196.7h0M162.9 196.7h0M167.4 196.7h0M172.0 196.7h0M395.4 196.7h0M399.9 196.7h0M404.5 196.7h0M454.6 196.7h0M459.2 196.7h0M463.7 196.7h0M468.3 196.7h0M472.8 196.7h0M477.4 196.7h0M482.0 196.7h0M486.5 196.7h0M491.1 196.7h0M495.6 196.7h0M140.1 201.2h0M144.6 201.2h0M149.2 201.2h0M153.8 201.2h0M158.3 201.2h0M162.9 201.2h0M167.4 201.2h0M172.0 201.2h0M372.6 201.2h0M377.1 201.2h0M381.7 201.2h0M386.2 201.2h0M390.8 201.2h0M395.4 201.2h0M454.6 201.2h0M459.2 201.2h0M463.7 201.2h0M468.3 201.2h0M472.8 201.2h0M477.4 201.2h0M482.0 201.2h0M486.5 201.2h0M491.1 201.2h0M495.6 201.2h0M153.8 205.8h0M158.3 205.8h0M162.9 205.8h0M167.4 205.8h0M172.0 205.8h0M381.7 205.8h0M386.2 205.8h0M390.8 205.8h0M395.4 205.8h0M399.9 205.8h0M153.8 210.3h0M158.3 210.3h0M162.9 210.3h0M167.4 210.3h0M172.0 210.3h0M176.6 210.3h0M181.1 210.3h0M386.2 210.3h0M390.8 210.3h0M395.4 210.3h0M399.9 210.3h0M404.5 210.3h0M158.3 214.9h0M162.9 214.9h0M167.4 214.9h0M172.0 214.9h0M176.6 214.9h0M181.1 214.9h0M395.4 214.9h0M158.3 219.5h0M162.9 219.5h0M167.4 219.5h0M172.0 219.5h0M176.6 219.5h0M399.9 219.5h0M158.3 224.0h0M162.9 224.0h0M167.4 224.0h0M172.0 224.0h0M158.3 228.6h0M162.9 228.6h0M167.4 228.6h0M153.8 233.1h0M158.3 233.1h0M162.9 233.1h0M153.8 237.7h0M158.3 237.7h0M258.6 237.7h0M263.2 237.7h0M267.7 237.7h0M272.3 237.7h0M276.8 237.7h0M299.6 237.7h0M304.2 237.7h0M308.7 237.7h0M313.3 237.7h0M317.9 237.7h0M322.4 237.7h0M121.9 242.2h0M126.4 242.2h0M131.0 242.2h0M135.5 242.2h0M140.1 242.2h0M144.6 242.2h0M149.2 242.2h0M153.8 242.2h0M158.3 242.2h0M254.0 242.2h0M258.6 242.2h0M263.2 242.2h0M267.7 242.2h0M272.3 242.2h0M276.8 242.2h0M281.4 242.2h0M286.0 242.2h0M290.5 242.2h0M295.1 242.2h0M299.6 242.2h0M304.2 242.2h0M308.7 242.2h0M313.3 242.2h0M317.9 242.2h0M322.4 242.2h0M327.0 242.2h0M331.5 242.2h0M117.3 246.8h0M121.9 246.8h0M126.4 246.8h0M131.0 246.8h0M135.5 246.8h0M140.1 246.8h0M144.6 246.8h0M149.2 246.8h0M153.8 246.8h0M244.9 246.8h0M249.5 246.8h0M254.0 246.8h0M258.6 246.8h0M263.2 246.8h0M267.7 246.8h0M272.3 246.8h0M276.8 246.8h0M281.4 246.8h0M286.0 246.8h0M290.5 246.8h0M295.1 246.8h0M299.6 246.8h0M304.2 246.8h0M308.7 246.8h0M313.3 246.8h0M317.9 246.8h0M322.4 246.8h0M327.0 246.8h0M331.5 246.8h0M336.1 246.8h0M340.7 246.8h0M117.3 251.3h0M121.9 251.3h0M126.4 251.3h0M131.0 251.3h0M135.5 251.3h0M140.1 251.3h0M144.6 251.3h0M149.2 251.3h0M226.7 251.3h0M231.3 251.3h0M235.8 251.3h0M240.4 251.3h0M244.9 251.3h0M249.5 251.3h0M254.0 251.3h0M258.6 251.3h0M263.2 251.3h0M267.7 251.3h0M272.3 251.3h0M276.8 251.3h0M281.4 251.3h0M286.0 251.3h0M290.5 251.3h0M295.1 251.3h0M299.6 251.3h0M304.2 251.3h0M308.7 251.3h0M313.3 251.3h0M317.9 251.3h0M322.4 251.3h0M327.0 251.3h0M331.5 251.3h0M336.1 251.3h0M340.7 251.3h0M345.2 251.3h0M349.8 251.3h0M117.3 255.9h0M121.9 255.9h0M126.4 255.9h0M131.0 255.9h0M135.5 255.9h0M140.1 255.9h0M144.6 255.9h0M149.2 255.9h0M222.1 255.9h0M226.7 255.9h0M231.3 255.9h0M235.8 255.9h0M240.4 255.9h0M244.9 255.9h0M249.5 255.9h0M254.0 255.9h0M258.6 255.9h0M263.2 255.9h0M267.7 255.9h0M272.3 255.9h0M276.8 255.9h0M281.4 255.9h0M286.0 255.9h0M290.5 255.9h0M295.1 255.9h0M299.6 255.9h0M304.2 255.9h0M308.7 255.9h0M313.3 255.9h0M317.9 255.9h0M322.4 255.9h0M327.0 255.9h0M331.5 255.9h0M336.1 255.9h0M340.7 255.9h0M345.2 255.9h0M349.8 255.9h0M354.3 255.9h0M117.3 260.4h0M121.9 260.4h0M126.4 260.4h0M131.0 260.4h0M135.5 260.4h0M140.1 260.4h0M144.6 260.4h0M217.6 260.4h0M222.1 260.4h0M226.7 260.4h0M231.3 260.4h0M235.8 260.4h0M240.4 260.4h0M244.9 260.4h0M249.5 260.4h0M254.0 260.4h0M258.6 260.4h0M263.2 260.4h0M267.7 260.4h0M272.3 260.4h0M276.8 260.4h0M281.4 260.4h0M286.0 260.4h0M290.5 260.4h0M295.1 260.4h0M299.6 260.4h0M304.2 260.4h0M308.7 260.4h0M313.3 260.4h0M317.9 260.4h0M322.4 260.4h0M327.0 260.4h0M331.5 260.4h0M336.1 260.4h0M340.7 260.4h0M345.2 260.4h0M349.8 260.4h0M354.3 260.4h0M358.9 260.4h0M117.3 265.0h0M121.9 265.0h0M126.4 265.0h0M131.0 265.0h0M135.5 265.0h0M140.1 265.0h0M213.0 265.0h0M217.6 265.0h0M222.1 265.0h0M226.7 265.0h0M231.3 265.0h0M235.8 265.0h0M240.4 265.0h0M244.9 265.0h0M249.5 265.0h0M254.0 265.0h0M258.6 265.0h0M263.2 265.0h0M267.7 265.0h0M272.3 265.0h0M276.8 265.0h0M281.4 265.0h0M286.0 265.0h0M290.5 265.0h0M295.1 265.0h0M299.6 265.0h0M304.2 265.0h0M308.7 265.0h0M313.3 265.0h0M317.9 265.0h0M322.4 265.0h0M327.0 265.0h0M331.5 265.0h0M336.1 265.0h0M340.7 265.0h0M345.2 265.0h0M349.8 265.0h0M354.3 265.0h0M358.9 265.0h0M363.4 265.0h0M117.3 269.6h0M121.9 269.6h0M126.4 269.6h0M131.0 269.6h0M135.5 269.6h0M140.1 269.6h0M208.5 269.6h0M213.0 269.6h0M217.6 269.6h0M222.1 269.6h0M226.7 269.6h0M231.3 269.6h0M235.8 269.6h0M244.9 269.6h0M249.5 269.6h0M254.0 269.6h0M258.6 269.6h0M263.2 269.6h0M267.7 269.6h0M272.3 269.6h0M276.8 269.6h0M281.4 269.6h0M286.0 269.6h0M290.5 269.6h0M295.1 269.6h0M299.6 269.6h0M304.2 269.6h0M308.7 269.6h0M313.3 269.6h0M317.9 269.6h0M322.4 269.6h0M327.0 269.6h0M331.5 269.6h0M336.1 269.6h0M340.7 269.6h0M345.2 269.6h0M349.8 269.6h0M354.3 269.6h0M358.9 269.6h0M363.4 269.6h0M368.0 269.6h0M121.9 274.1h0M126.4 274.1h0M131.0 274.1h0M135.5 274.1h0M203.9 274.1h0M208.5 274.1h0M213.0 274.1h0M217.6 274.1h0M222.1 274.1h0M254.0 274.1h0M258.6 274.1h0M263.2 274.1h0M267.7 274.1h0M272.3 274.1h0M276.8 274.1h0M299.6 274.1h0M304.2 274.1h0M308.7 274.1h0M313.3 274.1h0M317.9 274.1h0M322.4 274.1h0M345.2 274.1h0M349.8 274.1h0M354.3 274.1h0M358.9 274.1h0M363.4 274.1h0M368.0 274.1h0M135.5 278.7h0M199.3 278.7h0M203.9 278.7h0M208.5 278.7h0M213.0 278.7h0M217.6 278.7h0M199.3 283.2h0M203.9 283.2h0M208.5 283.2h0M213.0 283.2h0M217.6 283.2h0M194.8 287.8h0M199.3 287.8h0M203.9 287.8h0M208.5 287.8h0M213.0 287.8h0M217.6 287.8h0M194.8 292.3h0M199.3 292.3h0M203.9 292.3h0M208.5 292.3h0M213.0 292.3h0M217.6 292.3h0M108.2 296.9h0M112.7 296.9h0M117.3 296.9h0M121.9 296.9h0M126.4 296.9h0M108.2 301.4h0M112.7 301.4h0M117.3 301.4h0M121.9 301.4h0M126.4 301.4h0M108.2 306.0h0M112.7 306.0h0M117.3 306.0h0M121.9 306.0h0M126.4 306.0h0M108.2 310.5h0M112.7 310.5h0M117.3 310.5h0M121.9 310.5h0M126.4 310.5h0M108.2 315.1h0M112.7 315.1h0M117.3 315.1h0M121.9 315.1h0M126.4 315.1h0M117.3 319.7h0M363.4 360.6h0M368.0 360.6h0M372.6 360.6h0M377.1 360.6h0M381.7 360.6h0M386.2 360.6h0M390.8 360.6h0M363.4 365.2h0M368.0 365.2h0M372.6 365.2h0M377.1 365.2h0M381.7 365.2h0M386.2 365.2h0M390.8 365.2h0M363.4 369.8h0M368.0 369.8h0M372.6 369.8h0M377.1 369.8h0M381.7 369.8h0M386.2 369.8h0M390.8 369.8h0M363.4 374.3h0M368.0 374.3h0M372.6 374.3h0M377.1 374.3h0M381.7 374.3h0M386.2 374.3h0M390.8 374.3h0M363.4 378.9h0M368.0 378.9h0M372.6 378.9h0M377.1 378.9h0M381.7 378.9h0M386.2 378.9h0M363.4 383.4h0M368.0 383.4h0M372.6 383.4h0M377.1 383.4h0M381.7 383.4h0M386.2 383.4h0M358.9 388.0h0M363.4 388.0h0M368.0 388.0h0M372.6 388.0h0M377.1 388.0h0M381.7 388.0h0M445.5 388.0h0M450.1 388.0h0M454.6 388.0h0M459.2 388.0h0M463.7 388.0h0M468.3 388.0h0M472.8 388.0h0M477.4 388.0h0M482.0 388.0h0M486.5 388.0h0M491.1 388.0h0M495.6 388.0h0M500.2 388.0h0M504.8 388.0h0M509.3 388.0h0M513.9 388.0h0M358.9 392.5h0M363.4 392.5h0M368.0 392.5h0M372.6 392.5h0M377.1 392.5h0M381.7 392.5h0M450.1 392.5h0M454.6 392.5h0M459.2 392.5h0M463.7 392.5h0M468.3 392.5h0M472.8 392.5h0M477.4 392.5h0M482.0 392.5h0M486.5 392.5h0M491.1 392.5h0M495.6 392.5h0M500.2 392.5h0M504.8 392.5h0M509.3 392.5h0M513.9 392.5h0M358.9 397.1h0M363.4 397.1h0M368.0 397.1h0M372.6 397.1h0M377.1 397.1h0M450.1 397.1h0M454.6 397.1h0M459.2 397.1h0M463.7 397.1h0M468.3 397.1h0M472.8 397.1h0M477.4 397.1h0M482.0 397.1h0M495.6 397.1h0M500.2 397.1h0M504.8 397.1h0M509.3 397.1h0M513.9 397.1h0M244.9 401.6h0M249.5 401.6h0M254.0 401.6h0M258.6 401.6h0M263.2 401.6h0M267.7 401.6h0M272.3 401.6h0M276.8 401.6h0M281.4 401.6h0M286.0 401.6h0M290.5 401.6h0M295.1 401.6h0M299.6 401.6h0M304.2 401.6h0M308.7 401.6h0M313.3 401.6h0M317.9 401.6h0M322.4 401.6h0M327.0 401.6h0M331.5 401.6h0M354.3 401.6h0M358.9 401.6h0M363.4 401.6h0M368.0 401.6h0M372.6 401.6h0M377.1 401.6h0M440.9 401.6h0M445.5 401.6h0M450.1 401.6h0M454.6 401.6h0M459.2 401.6h0M463.7 401.6h0M468.3 401.6h0M472.8 401.6h0M500.2 401.6h0M504.8 401.6h0M509.3 401.6h0M513.9 401.6h0M244.9 406.2h0M249.5 406.2h0M254.0 406.2h0M258.6 406.2h0M263.2 406.2h0M267.7 406.2h0M272.3 406.2h0M276.8 406.2h0M281.4 406.2h0M286.0 406.2h0M290.5 406.2h0M295.1 406.2h0M299.6 406.2h0M304.2 406.2h0M308.7 406.2h0M313.3 406.2h0M317.9 406.2h0M322.4 406.2h0M327.0 406.2h0M331.5 406.2h0M345.2 406.2h0M349.8 406.2h0M354.3 406.2h0M358.9 406.2h0M363.4 406.2h0M368.0 406.2h0M372.6 406.2h0M440.9 406.2h0M445.5 406.2h0M450.1 406.2h0M454.6 406.2h0M459.2 406.2h0M504.8 406.2h0M509.3 406.2h0M513.9 406.2h0M244.9 410.7h0M249.5 410.7h0M254.0 410.7h0M258.6 410.7h0M263.2 410.7h0M267.7 410.7h0M272.3 410.7h0M276.8 410.7h0M281.4 410.7h0M286.0 410.7h0M290.5 410.7h0M295.1 410.7h0M299.6 410.7h0M304.2 410.7h0M308.7 410.7h0M313.3 410.7h0M317.9 410.7h0M322.4 410.7h0M327.0 410.7h0M331.5 410.7h0M340.7 410.7h0M345.2 410.7h0M349.8 410.7h0M354.3 410.7h0M358.9 410.7h0M363.4 410.7h0M368.0 410.7h0M436.4 410.7h0M440.9 410.7h0M445.5 410.7h0M450.1 410.7h0M454.6 410.7h0M459.2 410.7h0M504.8 410.7h0M509.3 410.7h0M513.9 410.7h0M244.9 415.3h0M249.5 415.3h0M254.0 415.3h0M258.6 415.3h0M263.2 415.3h0M267.7 415.3h0M272.3 415.3h0M276.8 415.3h0M281.4 415.3h0M286.0 415.3h0M290.5 415.3h0M295.1 415.3h0M299.6 415.3h0M304.2 415.3h0M308.7 415.3h0M313.3 415.3h0M317.9 415.3h0M322.4 415.3h0M327.0 415.3h0M331.5 415.3h0M336.1 415.3h0M340.7 415.3h0M345.2 415.3h0M349.8 415.3h0M354.3 415.3h0M358.9 415.3h0M363.4 415.3h0M436.4 415.3h0M440.9 415.3h0M445.5 415.3h0M450.1 415.3h0M454.6 415.3h0M459.2 415.3h0M504.8 415.3h0M509.3 415.3h0M513.9 415.3h0M244.9 419.9h0M249.5 419.9h0M254.0 419.9h0M258.6 419.9h0M263.2 419.9h0M267.7 419.9h0M272.3 419.9h0M276.8 419.9h0M281.4 419.9h0M286.0 419.9h0M290.5 419.9h0M295.1 419.9h0M299.6 419.9h0M304.2 419.9h0M308.7 419.9h0M313.3 419.9h0M317.9 419.9h0M322.4 419.9h0M327.0 419.9h0M331.5 419.9h0M336.1 419.9h0M340.7 419.9h0M345.2 419.9h0M349.8 419.9h0M354.3 419.9h0M358.9 419.9h0M431.8 419.9h0M436.4 419.9h0M440.9 419.9h0M445.5 419.9h0M450.1 419.9h0M454.6 419.9h0M459.2 419.9h0M504.8 419.9h0M509.3 419.9h0M513.9 419.9h0M244.9 424.4h0M249.5 424.4h0M254.0 424.4h0M258.6 424.4h0M263.2 424.4h0M267.7 424.4h0M272.3 424.4h0M276.8 424.4h0M281.4 424.4h0M286.0 424.4h0M290.5 424.4h0M295.1 424.4h0M299.6 424.4h0M304.2 424.4h0M308.7 424.4h0M313.3 424.4h0M317.9 424.4h0M322.4 424.4h0M327.0 424.4h0M331.5 424.4h0M336.1 424.4h0M340.7 424.4h0M345.2 424.4h0M349.8 424.4h0M354.3 424.4h0M427.3 424.4h0M431.8 424.4h0M436.4 424.4h0M440.9 424.4h0M445.5 424.4h0M450.1 424.4h0M454.6 424.4h0M459.2 424.4h0M504.8 424.4h0M509.3 424.4h0M513.9 424.4h0M244.9 429.0h0M249.5 429.0h0M254.0 429.0h0M258.6 429.0h0M263.2 429.0h0M267.7 429.0h0M272.3 429.0h0M276.8 429.0h0M281.4 429.0h0M286.0 429.0h0M290.5 429.0h0M295.1 429.0h0M299.6 429.0h0M304.2 429.0h0M308.7 429.0h0M313.3 429.0h0M317.9 429.0h0M322.4 429.0h0M327.0 429.0h0M331.5 429.0h0M336.1 429.0h0M340.7 429.0h0M345.2 429.0h0M349.8 429.0h0M427.3 429.0h0M431.8 429.0h0M436.4 429.0h0M440.9 429.0h0M445.5 429.0h0M450.1 429.0h0M454.6 429.0h0M459.2 429.0h0M500.2 429.0h0M504.8 429.0h0M509.3 429.0h0M513.9 429.0h0M244.9 433.5h0M249.5 433.5h0M254.0 433.5h0M258.6 433.5h0M263.2 433.5h0M267.7 433.5h0M272.3 433.5h0M276.8 433.5h0M281.4 433.5h0M290.5 433.5h0M295.1 433.5h0M299.6 433.5h0M304.2 433.5h0M308.7 433.5h0M313.3 433.5h0M317.9 433.5h0M322.4 433.5h0M327.0 433.5h0M331.5 433.5h0M336.1 433.5h0M340.7 433.5h0M422.7 433.5h0M427.3 433.5h0M431.8 433.5h0M436.4 433.5h0M440.9 433.5h0M445.5 433.5h0M450.1 433.5h0M454.6 433.5h0M459.2 433.5h0M463.7 433.5h0M468.3 433.5h0M472.8 433.5h0M477.4 433.5h0M482.0 433.5h0M495.6 433.5h0M500.2 433.5h0M504.8 433.5h0M509.3 433.5h0M513.9 433.5h0M244.9 438.1h0M249.5 438.1h0M254.0 438.1h0M258.6 438.1h0M263.2 438.1h0M267.7 438.1h0M272.3 438.1h0M276.8 438.1h0M295.1 438.1h0M299.6 438.1h0M304.2 438.1h0M308.7 438.1h0M313.3 438.1h0M317.9 438.1h0M322.4 438.1h0M418.1 438.1h0M267.7 442.6h0M272.3 442.6h0M304.2 442.6h0M308.7 442.6h0M313.3 442.6h0M317.9 442.6h0M418.1 442.6h0M413.6 447.2h0M418.1 447.2h0M409.0 451.7h0M413.6 451.7h0M418.1 451.7h0M404.5 456.3h0M409.0 456.3h0M413.6 456.3h0M418.1 456.3h0M399.9 460.8h0M404.5 460.8h0M409.0 460.8h0M413.6 460.8h0M418.1 460.8h0M395.4 465.4h0M399.9 465.4h0M404.5 465.4h0M409.0 465.4h0M413.6 465.4h0M418.1 465.4h0M486.5 465.4h0M491.1 465.4h0M395.4 470.0h0M399.9 470.0h0M404.5 470.0h0M409.0 470.0h0M413.6 470.0h0M418.1 470.0h0M422.7 470.0h0M468.3 470.0h0M472.8 470.0h0M477.4 470.0h0M482.0 470.0h0M486.5 470.0h0M404.5 474.5h0M409.0 474.5h0M413.6 474.5h0M418.1 474.5h0M422.7 474.5h0M427.3 474.5h0M459.2 474.5h0M463.7 474.5h0M468.3 474.5h0M472.8 474.5h0M477.4 474.5h0M482.0 474.5h0M486.5 474.5h0M404.5 479.1h0M409.0 479.1h0M413.6 479.1h0M418.1 479.1h0M422.7 479.1h0M404.5 483.6h0M409.0 483.6h0M413.6 483.6h0M418.1 483.6h0M422.7 483.6h0M404.5 488.2h0M409.0 488.2h0M413.6 488.2h0M418.1 488.2h0M422.7 488.2h0M404.5 492.7h0M409.0 492.7h0M413.6 492.7h0M418.1 492.7h0M422.7 492.7h0M399.9 497.3h0M404.5 497.3h0M409.0 497.3h0M413.6 497.3h0M418.1 497.3h0M422.7 497.3h0M395.4 501.8h0M399.9 501.8h0M404.5 501.8h0M409.0 501.8h0M413.6 501.8h0M418.1 501.8h0M422.7 501.8h0M395.4 506.4h0M399.9 506.4h0M404.5 506.4h0M409.0 506.4h0M413.6 506.4h0M418.1 506.4h0M422.7 506.4h0M386.2 510.9h0M390.8 510.9h0M395.4 510.9h0M399.9 510.9h0M404.5 510.9h0M409.0 510.9h0M413.6 510.9h0M418.1 510.9h0M422.7 510.9h0M340.7 515.5h0M345.2 515.5h0M349.8 515.5h0M354.3 515.5h0M358.9 515.5h0M363.4 515.5h0M368.0 515.5h0M372.6 515.5h0M377.1 515.5h0M381.7 515.5h0M386.2 515.5h0M390.8 515.5h0M395.4 515.5h0M399.9 515.5h0M404.5 515.5h0M409.0 515.5h0M413.6 515.5h0M418.1 515.5h0M422.7 515.5h0M244.9 520.1h0M249.5 520.1h0M254.0 520.1h0M258.6 520.1h0M263.2 520.1h0M267.7 520.1h0M272.3 520.1h0M276.8 520.1h0M340.7 520.1h0M345.2 520.1h0M349.8 520.1h0M354.3 520.1h0M358.9 520.1h0M363.4 520.1h0M368.0 520.1h0M372.6 520.1h0M377.1 520.1h0M381.7 520.1h0M386.2 520.1h0M390.8 520.1h0M395.4 520.1h0M399.9 520.1h0M404.5 520.1h0M409.0 520.1h0M413.6 520.1h0M418.1 520.1h0M422.7 520.1h0M244.9 524.6h0M249.5 524.6h0M254.0 524.6h0M258.6 524.6h0M263.2 524.6h0M267.7 524.6h0M272.3 524.6h0M276.8 524.6h0M345.2 524.6h0M349.8 524.6h0M354.3 524.6h0M358.9 524.6h0M363.4 524.6h0M368.0 524.6h0M372.6 524.6h0M377.1 524.6h0M381.7 524.6h0M386.2 524.6h0M390.8 524.6h0M395.4 524.6h0M399.9 524.6h0M404.5 524.6h0M409.0 524.6h0M413.6 524.6h0M418.1 524.6h0M422.7 524.6h0M244.9 529.2h0M249.5 529.2h0M254.0 529.2h0M258.6 529.2h0M263.2 529.2h0M267.7 529.2h0M272.3 529.2h0M276.8 529.2h0M349.8 529.2h0M354.3 529.2h0M358.9 529.2h0M363.4 529.2h0M368.0 529.2h0M372.6 529.2h0M377.1 529.2h0M381.7 529.2h0M386.2 529.2h0M390.8 529.2h0M395.4 529.2h0M399.9 529.2h0M404.5 529.2h0M409.0 529.2h0M413.6 529.2h0M418.1 529.2h0M422.7 529.2h0M244.9 533.7h0M249.5 533.7h0M254.0 533.7h0M258.6 533.7h0M263.2 533.7h0M267.7 533.7h0M272.3 533.7h0M349.8 533.7h0M354.3 533.7h0M358.9 533.7h0M363.4 533.7h0M368.0 533.7h0M372.6 533.7h0M377.1 533.7h0M381.7 533.7h0M386.2 533.7h0M390.8 533.7h0M395.4 533.7h0M399.9 533.7h0M404.5 533.7h0M409.0 533.7h0M413.6 533.7h0M418.1 533.7h0M422.7 533.7h0M244.9 538.3h0M249.5 538.3h0M254.0 538.3h0M258.6 538.3h0M263.2 538.3h0M267.7 538.3h0M349.8 538.3h0M354.3 538.3h0M358.9 538.3h0M363.4 538.3h0M368.0 538.3h0M372.6 538.3h0M377.1 538.3h0M381.7 538.3h0M386.2 538.3h0M390.8 538.3h0M395.4 538.3h0M399.9 538.3h0M404.5 538.3h0M409.0 538.3h0M413.6 538.3h0M418.1 538.3h0M422.7 538.3h0M153.8 542.8h0M158.3 542.8h0M162.9 542.8h0M167.4 542.8h0M172.0 542.8h0M176.6 542.8h0M181.1 542.8h0M185.7 542.8h0M190.2 542.8h0M194.8 542.8h0M199.3 542.8h0M203.9 542.8h0M208.5 542.8h0M213.0 542.8h0M217.6 542.8h0M222.1 542.8h0M226.7 542.8h0M231.3 542.8h0M235.8 542.8h0M240.4 542.8h0M244.9 542.8h0M249.5 542.8h0M254.0 542.8h0M258.6 542.8h0M263.2 542.8h0M267.7 542.8h0M354.3 542.8h0M358.9 542.8h0M363.4 542.8h0M368.0 542.8h0M372.6 542.8h0M377.1 542.8h0M381.7 542.8h0M386.2 542.8h0M390.8 542.8h0M395.4 542.8h0M399.9 542.8h0M404.5 542.8h0M409.0 542.8h0M413.6 542.8h0M418.1 542.8h0M422.7 542.8h0M153.8 547.4h0M158.3 547.4h0M162.9 547.4h0M167.4 547.4h0M172.0 547.4h0M176.6 547.4h0M181.1 547.4h0M185.7 547.4h0M190.2 547.4h0M194.8 547.4h0M199.3 547.4h0M203.9 547.4h0M208.5 547.4h0M213.0 547.4h0M217.6 547.4h0M222.1 547.4h0M226.7 547.4h0M231.3 547.4h0M235.8 547.4h0M240.4 547.4h0M244.9 547.4h0M249.5 547.4h0M254.0 547.4h0M258.6 547.4h0M263.2 547.4h0M267.7 547.4h0M358.9 547.4h0M363.4 547.4h0M368.0 547.4h0M372.6 547.4h0M377.1 547.4h0M381.7 547.4h0M386.2 547.4h0M390.8 547.4h0M395.4 547.4h0M399.9 547.4h0M404.5 547.4h0M409.0 547.4h0M413.6 547.4h0M418.1 547.4h0M422.7 547.4h0M153.8 551.9h0M158.3 551.9h0M162.9 551.9h0M167.4 551.9h0M172.0 551.9h0M176.6 551.9h0M181.1 551.9h0M185.7 551.9h0M190.2 551.9h0M194.8 551.9h0M199.3 551.9h0M203.9 551.9h0M208.5 551.9h0M213.0 551.9h0M217.6 551.9h0M222.1 551.9h0M226.7 551.9h0M231.3 551.9h0M235.8 551.9h0M240.4 551.9h0M244.9 551.9h0M249.5 551.9h0M254.0 551.9h0M258.6 551.9h0M263.2 551.9h0M358.9 551.9h0M363.4 551.9h0M368.0 551.9h0M372.6 551.9h0M377.1 551.9h0M381.7 551.9h0M386.2 551.9h0M390.8 551.9h0M395.4 551.9h0M399.9 551.9h0M404.5 551.9h0M409.0 551.9h0M413.6 551.9h0M418.1 551.9h0M422.7 551.9h0M153.8 556.5h0M158.3 556.5h0M162.9 556.5h0M167.4 556.5h0M172.0 556.5h0M176.6 556.5h0M181.1 556.5h0M185.7 556.5h0M190.2 556.5h0M194.8 556.5h0M199.3 556.5h0M203.9 556.5h0M208.5 556.5h0M213.0 556.5h0M217.6 556.5h0M222.1 556.5h0M226.7 556.5h0M231.3 556.5h0M235.8 556.5h0M240.4 556.5h0M244.9 556.5h0M249.5 556.5h0M254.0 556.5h0M258.6 556.5h0M358.9 556.5h0M363.4 556.5h0M368.0 556.5h0M372.6 556.5h0M377.1 556.5h0M381.7 556.5h0M386.2 556.5h0M390.8 556.5h0M395.4 556.5h0M399.9 556.5h0M404.5 556.5h0M409.0 556.5h0M413.6 556.5h0M418.1 556.5h0M422.7 556.5h0M153.8 561.0h0M158.3 561.0h0M162.9 561.0h0M167.4 561.0h0M172.0 561.0h0M176.6 561.0h0M181.1 561.0h0M185.7 561.0h0M190.2 561.0h0M194.8 561.0h0M199.3 561.0h0M203.9 561.0h0M208.5 561.0h0M213.0 561.0h0M217.6 561.0h0M222.1 561.0h0M226.7 561.0h0M231.3 561.0h0M235.8 561.0h0M240.4 561.0h0M244.9 561.0h0M249.5 561.0h0M254.0 561.0h0M258.6 561.0h0M363.4 561.0h0M368.0 561.0h0M372.6 561.0h0M377.1 561.0h0M381.7 561.0h0M386.2 561.0h0M390.8 561.0h0M395.4 561.0h0M399.9 561.0h0M404.5 561.0h0M409.0 561.0h0M413.6 561.0h0M418.1 561.0h0M422.7 561.0h0M153.8 565.6h0M158.3 565.6h0M162.9 565.6h0M167.4 565.6h0M172.0 565.6h0M176.6 565.6h0M181.1 565.6h0M185.7 565.6h0M190.2 565.6h0M194.8 565.6h0M199.3 565.6h0M203.9 565.6h0M208.5 565.6h0M213.0 565.6h0M217.6 565.6h0M222.1 565.6h0M226.7 565.6h0M231.3 565.6h0M235.8 565.6h0M240.4 565.6h0M244.9 565.6h0M249.5 565.6h0M254.0 565.6h0M258.6 565.6h0M368.0 565.6h0M372.6 565.6h0M377.1 565.6h0M381.7 565.6h0M386.2 565.6h0M390.8 565.6h0M395.4 565.6h0M399.9 565.6h0M404.5 565.6h0M409.0 565.6h0M413.6 565.6h0M418.1 565.6h0M422.7 565.6h0"/><path stroke="#482475" d="M222.1 114.7h0M226.7 114.7h0M231.3 114.7h0M235.8 114.7h0M240.4 114.7h0M222.1 119.3h0M226.7 119.3h0M231.3 119.3h0M235.8 119.3h0M240.4 119.3h0M222.1 123.8h0M226.7 123.8h0M231.3 123.8h0M235.8 123.8h0M240.4 123.8h0M222.1 128.4h0M226.7 128.4h0M231.3 128.4h0M235.8 128.4h0M240.4 128.4h0M222.1 132.9h0M226.7 132.9h0M231.3 132.9h0M235.8 132.9h0M240.4 132.9h0M62.6 160.2h0M67.2 160.2h0M71.7 160.2h0M76.3 160.2h0M80.8 160.2h0M62.6 164.8h0M67.2 164.8h0M71.7 164.8h0M76.3 164.8h0M80.8 164.8h0M62.6 169.4h0M67.2 169.4h0M71.7 169.4h0M76.3 169.4h0M80.8 169.4h0M395.4 169.4h0M399.9 169.4h0M404.5 169.4h0M409.0 169.4h0M413.6 169.4h0M62.6 173.9h0M67.2 173.9h0M71.7 173.9h0M76.3 173.9h0M80.8 173.9h0M62.6 178.5h0M67.2 178.5h0M71.7 178.5h0M76.3 178.5h0M80.8 178.5h0M486.5 237.7h0M491.1 237.7h0M495.6 237.7h0M500.2 237.7h0M504.8 237.7h0M509.3 237.7h0M513.9 237.7h0M495.6 242.2h0M500.2 242.2h0M504.8 242.2h0M509.3 242.2h0M513.9 242.2h0M500.2 246.8h0M504.8 246.8h0M509.3 246.8h0M513.9 246.8h0M500.2 251.3h0M504.8 251.3h0M509.3 251.3h0M513.9 251.3h0M500.2 255.9h0M504.8 255.9h0M509.3 255.9h0M513.9 255.9h0M504.8 260.4h0M509.3 260.4h0M513.9 260.4h0M504.8 265.0h0M509.3 265.0h0M513.9 265.0h0M504.8 269.6h0M509.3 269.6h0M513.9 269.6h0M500.2 274.1h0M504.8 274.1h0M509.3 274.1h0M513.9 274.1h0M108.2 278.7h0M112.7 278.7h0M117.3 278.7h0M121.9 278.7h0M126.4 278.7h0M131.0 278.7h0M500.2 278.7h0M504.8 278.7h0M509.3 278.7h0M513.9 278.7h0M108.2 283.2h0M112.7 283.2h0M117.3 283.2h0M121.9 283.2h0M126.4 283.2h0M495.6 283.2h0M500.2 283.2h0M504.8 283.2h0M509.3 283.2h0M513.9 283.2h0M108.2 287.8h0M112.7 287.8h0M117.3 287.8h0M121.9 287.8h0M126.4 287.8h0M491.1 287.8h0M495.6 287.8h0M500.2 287.8h0M504.8 287.8h0M509.3 287.8h0M513.9 287.8h0M108.2 292.3h0M112.7 292.3h0M117.3 292.3h0M121.9 292.3h0M126.4 292.3h0M486.5 292.3h0M491.1 292.3h0M495.6 292.3h0M500.2 292.3h0M504.8 292.3h0M509.3 292.3h0M513.9 292.3h0M495.6 296.9h0M500.2 296.9h0M504.8 296.9h0M509.3 296.9h0M513.9 296.9h0M495.6 301.4h0M500.2 301.4h0M504.8 301.4h0M509.3 301.4h0M513.9 301.4h0M500.2 306.0h0M504.8 306.0h0M509.3 306.0h0M513.9 306.0h0M504.8 310.5h0M509.3 310.5h0M513.9 310.5h0M509.3 315.1h0M513.9 315.1h0M509.3 319.7h0M513.9 319.7h0M509.3 324.2h0M513.9 324.2h0M509.3 328.8h0M513.9 328.8h0M509.3 333.3h0M513.9 333.3h0M509.3 337.9h0M513.9 337.9h0M509.3 342.4h0M513.9 342.4h0M509.3 347.0h0M513.9 347.0h0M509.3 351.5h0M513.9 351.5h0M509.3 356.1h0M513.9 356.1h0M194.8 360.6h0M199.3 360.6h0M203.9 360.6h0M208.5 360.6h0M213.0 360.6h0M217.6 360.6h0M222.1 360.6h0M226.7 360.6h0M231.3 360.6h0M235.8 360.6h0M240.4 360.6h0M244.9 360.6h0M249.5 360.6h0M254.0 360.6h0M258.6 360.6h0M263.2 360.6h0M509.3 360.6h0M513.9 360.6h0M185.7 365.2h0M190.2 365.2h0M194.8 365.2h0M199.3 365.2h0M203.9 365.2h0M208.5 365.2h0M213.0 365.2h0M217.6 365.2h0M222.1 365.2h0M226.7 365.2h0M231.3 365.2h0M235.8 365.2h0M240.4 365.2h0M244.9 365.2h0M249.5 365.2h0M254.0 365.2h0M258.6 365.2h0M263.2 365.2h0M185.7 369.8h0M190.2 369.8h0M194.8 369.8h0M199.3 369.8h0M203.9 369.8h0M208.5 369.8h0M213.0 369.8h0M217.6 369.8h0M222.1 369.8h0M226.7 369.8h0M231.3 369.8h0M235.8 369.8h0M240.4 369.8h0M244.9 369.8h0M249.5 369.8h0M254.0 369.8h0M258.6 369.8h0M263.2 369.8h0M185.7 374.3h0M190.2 374.3h0M194.8 374.3h0M199.3 374.3h0M203.9 374.3h0M208.5 374.3h0M213.0 374.3h0M217.6 374.3h0M222.1 374.3h0M226.7 374.3h0M231.3 374.3h0M235.8 374.3h0M240.4 374.3h0M244.9 374.3h0M249.5 374.3h0M254.0 374.3h0M258.6 374.3h0M263.2 374.3h0M190.2 378.9h0M194.8 378.9h0M199.3 378.9h0M203.9 378.9h0M208.5 378.9h0M213.0 378.9h0M217.6 378.9h0M222.1 378.9h0M226.7 378.9h0M231.3 378.9h0M235.8 378.9h0M240.4 378.9h0M244.9 378.9h0M249.5 378.9h0M254.0 378.9h0M258.6 378.9h0M263.2 378.9h0M190.2 383.4h0M194.8 383.4h0M199.3 383.4h0M203.9 383.4h0M208.5 383.4h0M213.0 383.4h0M217.6 383.4h0M222.1 383.4h0M226.7 383.4h0M231.3 383.4h0M235.8 383.4h0M240.4 383.4h0M244.9 383.4h0M249.5 383.4h0M254.0 383.4h0M258.6 383.4h0M263.2 383.4h0M194.8 388.0h0M199.3 388.0h0M203.9 388.0h0M208.5 388.0h0M213.0 388.0h0M217.6 388.0h0M222.1 388.0h0M226.7 388.0h0M231.3 388.0h0M235.8 388.0h0M240.4 388.0h0M244.9 388.0h0M249.5 388.0h0M254.0 388.0h0M258.6 388.0h0M263.2 388.0h0M194.8 392.5h0M199.3 392.5h0M203.9 392.5h0M208.5 392.5h0M213.0 392.5h0M226.7 392.5h0M231.3 392.5h0M235.8 392.5h0M240.4 392.5h0M244.9 392.5h0M249.5 392.5h0M254.0 392.5h0M258.6 392.5h0M263.2 392.5h0M199.3 397.1h0M203.9 397.1h0M208.5 397.1h0M231.3 397.1h0M235.8 397.1h0M240.4 397.1h0M244.9 397.1h0M249.5 397.1h0M254.0 397.1h0M258.6 397.1h0M263.2 397.1h0M495.6 456.3h0M500.2 456.3h0M504.8 456.3h0M509.3 456.3h0M513.9 456.3h0M495.6 460.8h0M500.2 460.8h0M504.8 460.8h0M509.3 460.8h0M513.9 460.8h0M495.6 465.4h0M500.2 465.4h0M504.8 465.4h0M509.3 465.4h0M513.9 465.4h0M491.1 470.0h0M495.6 470.0h0M500.2 470.0h0M504.8 470.0h0M509.3 470.0h0M513.9 470.0h0M491.1 474.5h0M495.6 474.5h0M500.2 474.5h0M504.8 474.5h0M509.3 474.5h0M513.9 474.5h0M427.3 479.1h0M431.8 479.1h0M436.4 479.1h0M459.2 479.1h0M463.7 479.1h0M468.3 479.1h0M472.8 479.1h0M477.4 479.1h0M482.0 479.1h0M486.5 479.1h0M491.1 479.1h0M495.6 479.1h0M500.2 479.1h0M504.8 479.1h0M509.3 479.1h0M513.9 479.1h0M427.3 483.6h0M431.8 483.6h0M436.4 483.6h0M440.9 483.6h0M445.5 483.6h0M454.6 483.6h0M459.2 483.6h0M463.7 483.6h0M468.3 483.6h0M472.8 483.6h0M477.4 483.6h0M482.0 483.6h0M486.5 483.6h0M491.1 483.6h0M495.6 483.6h0M500.2 483.6h0M504.8 483.6h0M509.3 483.6h0M513.9 483.6h0M427.3 488.2h0M431.8 488.2h0M436.4 488.2h0M440.9 488.2h0M445.5 488.2h0M450.1 488.2h0M454.6 488.2h0M459.2 488.2h0M463.7 488.2h0M468.3 488.2h0M472.8 488.2h0M477.4 488.2h0M482.0 488.2h0M486.5 488.2h0M491.1 488.2h0M495.6 488.2h0M500.2 488.2h0M504.8 488.2h0M509.3 488.2h0M513.9 488.2h0M427.3 492.7h0M431.8 492.7h0M436.4 492.7h0M440.9 492.7h0M445.5 492.7h0M450.1 492.7h0M454.6 492.7h0M459.2 492.7h0M463.7 492.7h0M468.3 492.7h0M472.8 492.7h0M477.4 492.7h0M482.0 492.7h0M486.5 492.7h0M491.1 492.7h0M495.6 492.7h0M500.2 492.7h0M504.8 492.7h0M509.3 492.7h0M513.9 492.7h0M427.3 497.3h0M431.8 497.3h0M436.4 497.3h0M440.9 497.3h0M445.5 497.3h0M450.1 497.3h0M454.6 497.3h0M459.2 497.3h0M463.7 497.3h0M468.3 497.3h0M472.8 497.3h0M477.4 497.3h0M482.0 497.3h0M486.5 497.3h0M491.1 497.3h0M495.6 497.3h0M500.2 497.3h0M504.8 497.3h0M509.3 497.3h0M513.9 497.3h0M62.6 501.8h0M67.2 501.8h0M71.7 501.8h0M76.3 501.8h0M80.8 501.8h0M427.3 501.8h0M431.8 501.8h0M436.4 501.8h0M440.9 501.8h0M445.5 501.8h0M450.1 501.8h0M454.6 501.8h0M459.2 501.8h0M463.7 501.8h0M468.3 501.8h0M472.8 501.8h0M477.4 501.8h0M482.0 501.8h0M486.5 501.8h0M491.1 501.8h0M495.6 501.8h0M500.2 501.8h0M504.8 501.8h0M509.3 501.8h0M513.9 501.8h0M62.6 506.4h0M67.2 506.4h0M71.7 506.4h0M76.3 506.4h0M80.8 506.4h0M427.3 506.4h0M431.8 506.4h0M436.4 506.4h0M454.6 506.4h0M459.2 506.4h0M463.7 506.4h0M468.3 506.4h0M472.8 506.4h0M477.4 506.4h0M482.0 506.4h0M486.5 506.4h0M491.1 506.4h0M495.6 506.4h0M500.2 506.4h0M504.8 506.4h0M509.3 506.4h0M513.9 506.4h0M62.6 510.9h0M67.2 510.9h0M71.7 510.9h0M76.3 510.9h0M80.8 510.9h0M427.3 510.9h0M459.2 510.9h0M463.7 510.9h0M468.3 510.9h0M472.8 510.9h0M477.4 510.9h0M482.0 510.9h0M495.6 510.9h0M500.2 510.9h0M504.8 510.9h0M509.3 510.9h0M513.9 510.9h0M62.6 515.5h0M67.2 515.5h0M71.7 515.5h0M76.3 515.5h0M80.8 515.5h0M62.6 520.1h0M67.2 520.1h0M71.7 520.1h0M76.3 520.1h0M80.8 520.1h0M62.6 524.6h0M67.2 524.6h0M71.7 524.6h0M76.3 524.6h0M62.6 529.2h0M67.2 529.2h0M71.7 529.2h0M76.3 529.2h0M62.6 533.7h0M67.2 533.7h0M71.7 533.7h0M76.3 533.7h0M62.6 538.3h0M67.2 538.3h0M71.7 538.3h0M62.6 542.8h0M67.2 542.8h0M71.7 542.8h0M62.6 547.4h0M67.2 547.4h0M71.7 547.4h0M76.3 547.4h0M62.6 551.9h0M67.2 551.9h0M71.7 551.9h0M76.3 551.9h0M80.8 551.9h0M94.5 551.9h0M99.1 551.9h0M103.6 551.9h0M62.6 556.5h0M67.2 556.5h0M71.7 556.5h0M76.3 556.5h0M80.8 556.5h0M85.4 556.5h0M89.9 556.5h0M94.5 556.5h0M99.1 556.5h0M103.6 556.5h0M62.6 561.0h0M67.2 561.0h0M71.7 561.0h0M76.3 561.0h0M80.8 561.0h0M85.4 561.0h0M89.9 561.0h0M94.5 561.0h0M99.1 561.0h0M103.6 561.0h0M62.6 565.6h0M67.2 565.6h0M71.7 565.6h0M76.3 565.6h0M80.8 565.6h0M85.4 565.6h0M89.9 565.6h0M94.5 565.6h0M99.1 565.6h0M103.6 565.6h0"/><path stroke="#3b528b" d="M308.7 123.8h0M313.3 123.8h0M317.9 123.8h0M322.4 123.8h0M85.4 128.4h0M89.9 128.4h0M304.2 128.4h0M308.7 128.4h0M313.3 128.4h0M317.9 128.4h0M322.4 128.4h0M327.0 128.4h0M486.5 128.4h0M491.1 128.4h0M80.8 132.9h0M85.4 132.9h0M89.9 132.9h0M94.5 132.9h0M99.1 132.9h0M103.6 132.9h0M295.1 132.9h0M299.6 132.9h0M304.2 132.9h0M308.7 132.9h0M313.3 132.9h0M317.9 132.9h0M322.4 132.9h0M327.0 132.9h0M331.5 132.9h0M468.3 132.9h0M472.8 132.9h0M477.4 132.9h0M482.0 132.9h0M486.5 132.9h0M491.1 132.9h0M495.6 132.9h0M76.3 137.5h0M80.8 137.5h0M85.4 137.5h0M89.9 137.5h0M94.5 137.5h0M99.1 137.5h0M103.6 137.5h0M108.2 137.5h0M112.7 137.5h0M286.0 137.5h0M290.5 137.5h0M295.1 137.5h0M299.6 137.5h0M304.2 137.5h0M308.7 137.5h0M313.3 137.5h0M317.9 137.5h0M322.4 137.5h0M327.0 137.5h0M331.5 137.5h0M463.7 137.5h0M468.3 137.5h0M472.8 137.5h0M477.4 137.5h0M482.0 137.5h0M486.5 137.5h0M491.1 137.5h0M495.6 137.5h0M500.2 137.5h0M76.3 142.0h0M80.8 142.0h0M85.4 142.0h0M89.9 142.0h0M94.5 142.0h0M99.1 142.0h0M103.6 142.0h0M108.2 142.0h0M112.7 142.0h0M290.5 142.0h0M295.1 142.0h0M299.6 142.0h0M304.2 142.0h0M308.7 142.0h0M313.3 142.0h0M317.9 142.0h0M322.4 142.0h0M327.0 142.0h0M463.7 142.0h0M468.3 142.0h0M472.8 142.0h0M477.4 142.0h0M482.0 142.0h0M486.5 142.0h0M491.1 142.0h0M495.6 142.0h0M500.2 142.0h0M80.8 146.6h0M85.4 146.6h0M89.9 146.6h0M94.5 146.6h0M99.1 146.6h0M103.6 146.6h0M108.2 146.6h0M112.7 146.6h0M290.5 146.6h0M295.1 146.6h0M299.6 146.6h0M304.2 146.6h0M308.7 146.6h0M313.3 146.6h0M317.9 146.6h0M322.4 146.6h0M327.0 146.6h0M463.7 146.6h0M468.3 146.6h0M472.8 146.6h0M477.4 146.6h0M482.0 146.6h0M486.5 146.6h0M491.1 146.6h0M495.6 146.6h0M80.8 151.1h0M85.4 151.1h0M89.9 151.1h0M94.5 151.1h0M99.1 151.1h0M103.6 151.1h0M108.2 151.1h0M112.7 151.1h0M290.5 151.1h0M295.1 151.1h0M299.6 151.1h0M304.2 151.1h0M308.7 151.1h0M313.3 151.1h0M317.9 151.1h0M322.4 151.1h0M327.0 151.1h0M468.3 151.1h0M472.8 151.1h0M477.4 151.1h0M482.0 151.1h0M486.5 151.1h0M491.1 151.1h0M495.6 151.1h0M80.8 155.7h0M85.4 155.7h0M89.9 155.7h0M94.5 155.7h0M99.1 155.7h0M103.6 155.7h0M108.2 155.7h0M112.7 155.7h0M290.5 155.7h0M295.1 155.7h0M299.6 155.7h0M304.2 155.7h0M308.7 155.7h0M313.3 155.7h0M317.9 155.7h0M322.4 155.7h0M327.0 155.7h0M468.3 155.7h0M472.8 155.7h0M477.4 155.7h0M482.0 155.7h0M486.5 155.7h0M491.1 155.7h0M495.6 155.7h0M85.4 160.2h0M89.9 160.2h0M94.5 160.2h0M99.1 160.2h0M103.6 160.2h0M108.2 160.2h0M304.2 160.2h0M308.7 160.2h0M313.3 160.2h0M317.9 160.2h0M322.4 160.2h0M327.0 160.2h0M372.6 160.2h0M377.1 160.2h0M381.7 160.2h0M482.0 160.2h0M486.5 160.2h0M491.1 160.2h0M85.4 164.8h0M89.9 164.8h0M94.5 164.8h0M99.1 164.8h0M103.6 164.8h0M108.2 164.8h0M240.4 164.8h0M363.4 164.8h0M368.0 164.8h0M372.6 164.8h0M377.1 164.8h0M381.7 164.8h0M386.2 164.8h0M390.8 164.8h0M482.0 164.8h0M486.5 164.8h0M491.1 164.8h0M85.4 169.4h0M89.9 169.4h0M231.3 169.4h0M235.8 169.4h0M240.4 169.4h0M244.9 169.4h0M363.4 169.4h0M368.0 169.4h0M372.6 169.4h0M377.1 169.4h0M381.7 169.4h0M386.2 169.4h0M390.8 169.4h0M222.1 173.9h0M226.7 173.9h0M231.3 173.9h0M235.8 173.9h0M240.4 173.9h0M244.9 173.9h0M249.5 173.9h0M254.0 173.9h0M258.6 173.9h0M263.2 173.9h0M267.7 173.9h0M272.3 173.9h0M276.8 173.9h0M281.4 173.9h0M336.1 173.9h0M340.7 173.9h0M345.2 173.9h0M349.8 173.9h0M354.3 173.9h0M358.9 173.9h0M363.4 173.9h0M368.0 173.9h0M372.6 173.9h0M377.1 173.9h0M381.7 173.9h0M386.2 173.9h0M390.8 173.9h0M395.4 173.9h0M399.9 173.9h0M213.0 178.5h0M217.6 178.5h0M222.1 178.5h0M226.7 178.5h0M231.3 178.5h0M235.8 178.5h0M240.4 178.5h0M244.9 178.5h0M249.5 178.5h0M254.0 178.5h0M258.6 178.5h0M263.2 178.5h0M267.7 178.5h0M272.3 178.5h0M336.1 178.5h0M340.7 178.5h0M345.2 178.5h0M349.8 178.5h0M354.3 178.5h0M358.9 178.5h0M363.4 178.5h0M368.0 178.5h0M372.6 178.5h0M377.1 178.5h0M381.7 178.5h0M386.2 178.5h0M390.8 178.5h0M395.4 178.5h0M399.9 178.5h0M217.6 183.0h0M222.1 183.0h0M226.7 183.0h0M231.3 183.0h0M235.8 183.0h0M240.4 183.0h0M244.9 183.0h0M331.5 183.0h0M336.1 183.0h0M340.7 183.0h0M345.2 183.0h0M349.8 183.0h0M354.3 183.0h0M358.9 183.0h0M363.4 183.0h0M368.0 183.0h0M372.6 183.0h0M377.1 183.0h0M381.7 183.0h0M386.2 183.0h0M390.8 183.0h0M395.4 183.0h0M399.9 183.0h0M217.6 187.6h0M222.1 187.6h0M226.7 187.6h0M231.3 187.6h0M345.2 187.6h0M349.8 187.6h0M354.3 187.6h0M358.9 187.6h0M363.4 187.6h0M368.0 187.6h0M372.6 187.6h0M377.1 187.6h0M381.7 187.6h0M386.2 187.6h0M390.8 187.6h0M395.4 187.6h0M399.9 187.6h0M217.6 192.1h0M358.9 192.1h0M363.4 192.1h0M368.0 192.1h0M372.6 192.1h0M377.1 192.1h0M381.7 192.1h0M386.2 192.1h0M390.8 192.1h0M395.4 192.1h0M368.0 196.7h0M372.6 196.7h0M377.1 196.7h0M381.7 196.7h0M386.2 196.7h0M390.8 196.7h0M126.4 201.2h0M131.0 201.2h0M135.5 201.2h0M121.9 205.8h0M126.4 205.8h0M131.0 205.8h0M135.5 205.8h0M140.1 205.8h0M144.6 205.8h0M117.3 210.3h0M121.9 210.3h0M126.4 210.3h0M131.0 210.3h0M135.5 210.3h0M140.1 210.3h0M144.6 210.3h0M149.2 210.3h0M427.3 210.3h0M431.8 210.3h0M436.4 210.3h0M440.9 210.3h0M117.3 214.9h0M121.9 214.9h0M126.4 214.9h0M131.0 214.9h0M135.5 214.9h0M140.1 214.9h0M144.6 214.9h0M149.2 214.9h0M153.8 214.9h0M399.9 214.9h0M404.5 214.9h0M409.0 214.9h0M413.6 214.9h0M418.1 214.9h0M422.7 214.9h0M427.3 214.9h0M431.8 214.9h0M436.4 214.9h0M440.9 214.9h0M445.5 214.9h0M117.3 219.5h0M121.9 219.5h0M126.4 219.5h0M131.0 219.5h0M135.5 219.5h0M140.1 219.5h0M144.6 219.5h0M149.2 219.5h0M153.8 219.5h0M404.5 219.5h0M409.0 219.5h0M413.6 219.5h0M418.1 219.5h0M422.7 219.5h0M427.3 219.5h0M431.8 219.5h0M436.4 219.5h0M440.9 219.5h0M445.5 219.5h0M117.3 224.0h0M121.9 224.0h0M126.4 224.0h0M131.0 224.0h0M135.5 224.0h0M140.1 224.0h0M144.6 224.0h0M149.2 224.0h0M153.8 224.0h0M404.5 224.0h0M409.0 224.0h0M413.6 224.0h0M418.1 224.0h0M422.7 224.0h0M427.3 224.0h0M431.8 224.0h0M436.4 224.0h0M440.9 224.0h0M445.5 224.0h0M117.3 228.6h0M121.9 228.6h0M126.4 228.6h0M131.0 228.6h0M135.5 228.6h0M140.1 228.6h0M144.6 228.6h0M149.2 228.6h0M153.8 228.6h0M409.0 228.6h0M413.6 228.6h0M418.1 228.6h0M422.7 228.6h0M427.3 228.6h0M431.8 228.6h0M436.4 228.6h0M440.9 228.6h0M445.5 228.6h0M117.3 233.1h0M121.9 233.1h0M126.4 233.1h0M131.0 233.1h0M135.5 233.1h0M140.1 233.1h0M144.6 233.1h0M149.2 233.1h0M413.6 233.1h0M418.1 233.1h0M422.7 233.1h0M427.3 233.1h0M431.8 233.1h0M436.4 233.1h0M440.9 233.1h0M445.5 233.1h0M117.3 237.7h0M121.9 237.7h0M126.4 237.7h0M131.0 237.7h0M135.5 237.7h0M140.1 237.7h0M144.6 237.7h0M149.2 237.7h0M254.0 237.7h0M418.1 237.7h0M422.7 237.7h0M427.3 237.7h0M431.8 237.7h0M436.4 237.7h0M440.9 237.7h0M445.5 237.7h0M450.1 237.7h0M244.9 242.2h0M249.5 242.2h0M418.1 242.2h0M422.7 242.2h0M427.3 242.2h0M431.8 242.2h0M436.4 242.2h0M440.9 242.2h0M445.5 242.2h0M450.1 242.2h0M454.6 242.2h0M459.2 242.2h0M472.8 242.2h0M477.4 242.2h0M482.0 242.2h0M486.5 242.2h0M491.1 242.2h0M85.4 246.8h0M89.9 246.8h0M94.5 246.8h0M99.1 246.8h0M103.6 246.8h0M108.2 246.8h0M240.4 246.8h0M422.7 246.8h0M427.3 246.8h0M431.8 246.8h0M436.4 246.8h0M440.9 246.8h0M445.5 246.8h0M450.1 246.8h0M454.6 246.8h0M459.2 246.8h0M472.8 246.8h0M477.4 246.8h0M482.0 246.8h0M486.5 246.8h0M491.1 246.8h0M495.6 246.8h0M80.8 251.3h0M85.4 251.3h0M89.9 251.3h0M94.5 251.3h0M99.1 251.3h0M103.6 251.3h0M108.2 251.3h0M112.7 251.3h0M427.3 251.3h0M431.8 251.3h0M436.4 251.3h0M440.9 251.3h0M445.5 251.3h0M450.1 251.3h0M454.6 251.3h0M459.2 251.3h0M463.7 251.3h0M468.3 251.3h0M472.8 251.3h0M477.4 251.3h0M482.0 251.3h0M486.5 251.3h0M491.1 251.3h0M495.6 251.3h0M80.8 255.9h0M85.4 255.9h0M89.9 255.9h0M94.5 255.9h0M99.1 255.9h0M103.6 255.9h0M108.2 255.9h0M112.7 255.9h0M427.3 255.9h0M431.8 255.9h0M436.4 255.9h0M440.9 255.9h0M445.5 255.9h0M450.1 255.9h0M454.6 255.9h0M459.2 255.9h0M463.7 255.9h0M468.3 255.9h0M472.8 255.9h0M477.4 255.9h0M482.0 255.9h0M486.5 255.9h0M491.1 255.9h0M495.6 255.9h0M80.8 260.4h0M85.4 260.4h0M89.9 260.4h0M94.5 260.4h0M99.1 260.4h0M103.6 260.4h0M108.2 260.4h0M112.7 260.4h0M431.8 260.4h0M436.4 260.4h0M440.9 260.4h0M445.5 260.4h0M450.1 260.4h0M454.6 260.4h0M459.2 260.4h0M463.7 260.4h0M468.3 260.4h0M472.8 260.4h0M477.4 260.4h0M482.0 260.4h0M486.5 260.4h0M491.1 260.4h0M495.6 260.4h0M500.2 260.4h0M76.3 265.0h0M80.8 265.0h0M85.4 265.0h0M89.9 265.0h0M94.5 265.0h0M99.1 265.0h0M103.6 265.0h0M108.2 265.0h0M112.7 265.0h0M436.4 265.0h0M440.9 265.0h0M445.5 265.0h0M450.1 265.0h0M454.6 265.0h0M459.2 265.0h0M463.7 265.0h0M468.3 265.0h0M472.8 265.0h0M477.4 265.0h0M482.0 265.0h0M486.5 265.0h0M491.1 265.0h0M495.6 265.0h0M500.2 265.0h0M76.3 269.6h0M80.8 269.6h0M85.4 269.6h0M89.9 269.6h0M94.5 269.6h0M99.1 269.6h0M103.6 269.6h0M108.2 269.6h0M112.7 269.6h0M436.4 269.6h0M440.9 269.6h0M445.5 269.6h0M450.1 269.6h0M454.6 269.6h0M459.2 269.6h0M463.7 269.6h0M468.3 269.6h0M472.8 269.6h0M477.4 269.6h0M482.0 269.6h0M486.5 269.6h0M491.1 269.6h0M495.6 269.6h0M500.2 269.6h0M76.3 274.1h0M80.8 274.1h0M85.4 274.1h0M89.9 274.1h0M94.5 274.1h0M99.1 274.1h0M103.6 274.1h0M108.2 274.1h0M112.7 274.1h0M440.9 274.1h0M445.5 274.1h0M450.1 274.1h0M454.6 274.1h0M459.2 274.1h0M463.7 274.1h0M468.3 274.1h0M472.8 274.1h0M477.4 274.1h0M482.0 274.1h0M486.5 274.1h0M491.1 274.1h0M495.6 274.1h0M80.8 278.7h0M85.4 278.7h0M89.9 278.7h0M94.5 278.7h0M99.1 278.7h0M440.9 278.7h0M445.5 278.7h0M450.1 278.7h0M454.6 278.7h0M459.2 278.7h0M463.7 278.7h0M468.3 278.7h0M472.8 278.7h0M477.4 278.7h0M482.0 278.7h0M486.5 278.7h0M491.1 278.7h0M495.6 278.7h0M85.4 283.2h0M445.5 283.2h0M450.1 283.2h0M454.6 283.2h0M459.2 283.2h0M463.7 283.2h0M468.3 283.2h0M472.8 283.2h0M477.4 283.2h0M482.0 283.2h0M486.5 283.2h0M491.1 283.2h0M450.1 287.8h0M454.6 287.8h0M459.2 287.8h0M463.7 287.8h0M468.3 287.8h0M472.8 287.8h0M477.4 287.8h0M482.0 287.8h0M486.5 287.8h0M450.1 292.3h0M454.6 292.3h0M459.2 292.3h0M463.7 292.3h0M468.3 292.3h0M472.8 292.3h0M477.4 292.3h0M482.0 292.3h0M85.4 306.0h0M80.8 310.5h0M85.4 310.5h0M89.9 310.5h0M94.5 310.5h0M76.3 315.1h0M80.8 315.1h0M85.4 315.1h0M89.9 315.1h0M94.5 315.1h0M99.1 315.1h0M103.6 315.1h0M76.3 319.7h0M80.8 319.7h0M85.4 319.7h0M89.9 319.7h0M94.5 319.7h0M99.1 319.7h0M103.6 319.7h0M108.2 319.7h0M112.7 319.7h0M76.3 324.2h0M80.8 324.2h0M85.4 324.2h0M89.9 324.2h0M94.5 324.2h0M99.1 324.2h0M103.6 324.2h0M108.2 324.2h0M112.7 324.2h0M117.3 324.2h0M76.3 328.8h0M80.8 328.8h0M85.4 328.8h0M89.9 328.8h0M94.5 328.8h0M99.1 328.8h0M103.6 328.8h0M108.2 328.8h0M112.7 328.8h0M76.3 333.3h0M80.8 333.3h0M85.4 333.3h0M89.9 333.3h0M94.5 333.3h0M99.1 333.3h0M103.6 333.3h0M108.2 333.3h0M112.7 333.3h0M76.3 337.9h0M80.8 337.9h0M85.4 337.9h0M89.9 337.9h0M94.5 337.9h0M99.1 337.9h0M103.6 337.9h0M108.2 337.9h0M62.6 342.4h0M67.2 342.4h0M71.7 342.4h0M76.3 342.4h0M80.8 342.4h0M85.4 342.4h0M89.9 342.4h0M94.5 342.4h0M99.1 342.4h0M103.6 342.4h0M108.2 342.4h0M62.6 347.0h0M67.2 347.0h0M71.7 347.0h0M76.3 347.0h0M62.6 351.5h0M67.2 351.5h0M71.7 351.5h0M62.6 356.1h0M67.2 356.1h0M62.6 360.6h0M67.2 360.6h0M217.6 392.5h0M222.1 392.5h0M213.0 397.1h0M217.6 397.1h0M222.1 397.1h0M226.7 397.1h0M208.5 401.6h0M213.0 401.6h0M217.6 401.6h0M222.1 401.6h0M226.7 401.6h0M231.3 401.6h0M203.9 406.2h0M208.5 406.2h0M213.0 406.2h0M217.6 406.2h0M222.1 406.2h0M226.7 406.2h0M231.3 406.2h0M235.8 406.2h0M240.4 406.2h0M208.5 410.7h0M213.0 410.7h0M217.6 410.7h0M222.1 410.7h0M226.7 410.7h0M231.3 410.7h0M235.8 410.7h0M240.4 410.7h0M213.0 415.3h0M217.6 415.3h0M222.1 415.3h0M226.7 415.3h0M231.3 415.3h0M235.8 415.3h0M240.4 415.3h0M217.6 419.9h0M222.1 419.9h0M226.7 419.9h0M231.3 419.9h0M235.8 419.9h0M240.4 419.9h0M222.1 424.4h0M226.7 424.4h0M231.3 424.4h0M235.8 424.4h0M226.7 429.0h0M231.3 429.0h0M235.8 429.0h0M286.0 433.5h0M281.4 438.1h0M286.0 438.1h0M290.5 438.1h0M327.0 438.1h0M331.5 438.1h0M254.0 442.6h0M258.6 442.6h0M263.2 442.6h0M276.8 442.6h0M281.4 442.6h0M286.0 442.6h0M290.5 442.6h0M295.1 442.6h0M299.6 442.6h0M322.4 442.6h0M162.9 447.2h0M272.3 447.2h0M276.8 447.2h0M281.4 447.2h0M286.0 447.2h0M290.5 447.2h0M295.1 447.2h0M299.6 447.2h0M304.2 447.2h0M162.9 451.7h0M167.4 451.7h0M158.3 456.3h0M162.9 456.3h0M167.4 456.3h0M172.0 456.3h0M422.7 456.3h0M158.3 460.8h0M162.9 460.8h0M167.4 460.8h0M172.0 460.8h0M176.6 460.8h0M422.7 460.8h0M158.3 465.4h0M162.9 465.4h0M167.4 465.4h0M172.0 465.4h0M176.6 465.4h0M181.1 465.4h0M422.7 465.4h0M158.3 470.0h0M162.9 470.0h0M167.4 470.0h0M172.0 470.0h0M176.6 470.0h0M181.1 470.0h0M185.7 470.0h0M190.2 470.0h0M158.3 474.5h0M162.9 474.5h0M167.4 474.5h0M172.0 474.5h0M176.6 474.5h0M181.1 474.5h0M185.7 474.5h0M167.4 479.1h0M172.0 479.1h0M176.6 479.1h0M181.1 479.1h0M440.9 479.1h0M445.5 479.1h0M450.1 479.1h0M454.6 479.1h0M172.0 483.6h0M176.6 483.6h0M450.1 483.6h0M345.2 492.7h0M349.8 492.7h0M354.3 492.7h0M358.9 492.7h0M331.5 497.3h0M336.1 497.3h0M340.7 497.3h0M345.2 497.3h0M349.8 497.3h0M354.3 497.3h0M358.9 497.3h0M336.1 501.8h0M340.7 501.8h0M345.2 501.8h0M349.8 501.8h0M354.3 501.8h0M358.9 501.8h0M276.8 506.4h0M281.4 506.4h0M286.0 506.4h0M290.5 506.4h0M295.1 506.4h0M299.6 506.4h0M336.1 506.4h0M340.7 506.4h0M345.2 506.4h0M349.8 506.4h0M354.3 506.4h0M358.9 506.4h0M85.4 510.9h0M89.9 510.9h0M276.8 510.9h0M281.4 510.9h0M286.0 510.9h0M336.1 510.9h0M340.7 510.9h0M345.2 510.9h0M486.5 510.9h0M491.1 510.9h0M85.4 515.5h0M89.9 515.5h0M94.5 515.5h0M99.1 515.5h0M103.6 515.5h0M108.2 515.5h0M286.0 515.5h0M336.1 515.5h0M472.8 515.5h0M477.4 515.5h0M482.0 515.5h0M486.5 515.5h0M491.1 515.5h0M495.6 515.5h0M85.4 520.1h0M89.9 520.1h0M94.5 520.1h0M99.1 520.1h0M103.6 520.1h0M108.2 520.1h0M112.7 520.1h0M463.7 520.1h0M468.3 520.1h0M472.8 520.1h0M477.4 520.1h0M482.0 520.1h0M486.5 520.1h0M491.1 520.1h0M495.6 520.1h0M500.2 520.1h0M80.8 524.6h0M85.4 524.6h0M89.9 524.6h0M94.5 524.6h0M99.1 524.6h0M103.6 524.6h0M108.2 524.6h0M112.7 524.6h0M463.7 524.6h0M468.3 524.6h0M472.8 524.6h0M477.4 524.6h0M482.0 524.6h0M486.5 524.6h0M491.1 524.6h0M495.6 524.6h0M500.2 524.6h0M80.8 529.2h0M85.4 529.2h0M89.9 529.2h0M94.5 529.2h0M99.1 529.2h0M103.6 529.2h0M108.2 529.2h0M112.7 529.2h0M463.7 529.2h0M468.3 529.2h0M472.8 529.2h0M477.4 529.2h0M482.0 529.2h0M486.5 529.2h0M491.1 529.2h0M495.6 529.2h0M500.2 529.2h0M80.8 533.7h0M85.4 533.7h0M89.9 533.7h0M94.5 533.7h0M99.1 533.7h0M103.6 533.7h0M108.2 533.7h0M112.7 533.7h0M463.7 533.7h0M468.3 533.7h0M472.8 533.7h0M477.4 533.7h0M482.0 533.7h0M486.5 533.7h0M491.1 533.7h0M495.6 533.7h0M500.2 533.7h0M76.3 538.3h0M80.8 538.3h0M85.4 538.3h0M89.9 538.3h0M94.5 538.3h0M99.1 538.3h0M103.6 538.3h0M108.2 538.3h0M112.7 538.3h0M463.7 538.3h0M468.3 538.3h0M472.8 538.3h0M477.4 538.3h0M482.0 538.3h0M486.5 538.3h0M491.1 538.3h0M495.6 538.3h0M500.2 538.3h0M76.3 542.8h0M80.8 542.8h0M85.4 542.8h0M89.9 542.8h0M94.5 542.8h0M99.1 542.8h0M103.6 542.8h0M108.2 542.8h0M463.7 542.8h0M468.3 542.8h0M472.8 542.8h0M477.4 542.8h0M482.0 542.8h0M486.5 542.8h0M491.1 542.8h0M495.6 542.8h0M500.2 542.8h0M80.8 547.4h0M85.4 547.4h0M89.9 547.4h0M94.5 547.4h0M99.1 547.4h0M103.6 547.4h0M472.8 547.4h0M477.4 547.4h0M482.0 547.4h0M486.5 547.4h0M491.1 547.4h0M495.6 547.4h0M500.2 547.4h0M85.4 551.9h0M89.9 551.9h0M486.5 551.9h0M491.1 551.9h0M495.6 551.9h0"/><path stroke="#443a83" d="M131.0 132.9h0M135.5 132.9h0M140.1 132.9h0M153.8 142.0h0M153.8 146.6h0M153.8 151.1h0M176.6 173.9h0M181.1 173.9h0M185.7 173.9h0M190.2 173.9h0M194.8 173.9h0M199.3 173.9h0M203.9 173.9h0M208.5 173.9h0M213.0 173.9h0M176.6 178.5h0M181.1 178.5h0M185.7 178.5h0M190.2 178.5h0M194.8 178.5h0M199.3 178.5h0M203.9 178.5h0M208.5 178.5h0M176.6 183.0h0M181.1 183.0h0M185.7 183.0h0M190.2 183.0h0M194.8 183.0h0M199.3 183.0h0M203.9 183.0h0M208.5 183.0h0M213.0 183.0h0M176.6 187.6h0M181.1 187.6h0M185.7 187.6h0M190.2 187.6h0M194.8 187.6h0M199.3 187.6h0M203.9 187.6h0M208.5 187.6h0M213.0 187.6h0M176.6 192.1h0M181.1 192.1h0M185.7 192.1h0M190.2 192.1h0M194.8 192.1h0M199.3 192.1h0M203.9 192.1h0M208.5 192.1h0M213.0 192.1h0M176.6 196.7h0M181.1 196.7h0M185.7 196.7h0M190.2 196.7h0M194.8 196.7h0M199.3 196.7h0M203.9 196.7h0M208.5 196.7h0M176.6 201.2h0M181.1 201.2h0M185.7 201.2h0M190.2 201.2h0M194.8 201.2h0M199.3 201.2h0M203.9 201.2h0M85.4 210.3h0M89.9 210.3h0M94.5 210.3h0M99.1 210.3h0M103.6 210.3h0M108.2 210.3h0M112.7 210.3h0M85.4 214.9h0M89.9 214.9h0M94.5 214.9h0M99.1 214.9h0M103.6 214.9h0M108.2 214.9h0M112.7 214.9h0M80.8 219.5h0M85.4 219.5h0M89.9 219.5h0M94.5 219.5h0M99.1 219.5h0M103.6 219.5h0M108.2 219.5h0M112.7 219.5h0M80.8 224.0h0M85.4 224.0h0M89.9 224.0h0M94.5 224.0h0M99.1 224.0h0M103.6 224.0h0M108.2 224.0h0M112.7 224.0h0M62.6 228.6h0M67.2 228.6h0M71.7 228.6h0M76.3 228.6h0M80.8 228.6h0M85.4 228.6h0M89.9 228.6h0M94.5 228.6h0M99.1 228.6h0M103.6 228.6h0M108.2 228.6h0M112.7 228.6h0M62.6 233.1h0M67.2 233.1h0M71.7 233.1h0M76.3 233.1h0M80.8 233.1h0M85.4 233.1h0M89.9 233.1h0M94.5 233.1h0M99.1 233.1h0M103.6 233.1h0M108.2 233.1h0M112.7 233.1h0M62.6 237.7h0M67.2 237.7h0M71.7 237.7h0M76.3 237.7h0M80.8 237.7h0M85.4 237.7h0M89.9 237.7h0M94.5 237.7h0M99.1 237.7h0M103.6 237.7h0M108.2 237.7h0M112.7 237.7h0M281.4 237.7h0M286.0 237.7h0M290.5 237.7h0M295.1 237.7h0M62.6 242.2h0M67.2 242.2h0M71.7 242.2h0M76.3 242.2h0M80.8 242.2h0M85.4 242.2h0M89.9 242.2h0M94.5 242.2h0M99.1 242.2h0M103.6 242.2h0M108.2 242.2h0M112.7 242.2h0M117.3 242.2h0M62.6 246.8h0M67.2 246.8h0M71.7 246.8h0M76.3 246.8h0M80.8 246.8h0M112.7 246.8h0M62.6 251.3h0M67.2 251.3h0M71.7 251.3h0M76.3 251.3h0M62.6 255.9h0M67.2 255.9h0M71.7 255.9h0M76.3 255.9h0M62.6 260.4h0M67.2 260.4h0M71.7 260.4h0M76.3 260.4h0M62.6 265.0h0M67.2 265.0h0M71.7 265.0h0M62.6 269.6h0M67.2 269.6h0M71.7 269.6h0M226.7 274.1h0M222.1 278.7h0M263.2 278.7h0M267.7 278.7h0M308.7 278.7h0M313.3 278.7h0M354.3 278.7h0M358.9 278.7h0M108.2 365.2h0M112.7 365.2h0M117.3 365.2h0M450.1 365.2h0M454.6 365.2h0M459.2 365.2h0M463.7 365.2h0M468.3 365.2h0M472.8 365.2h0M103.6 369.8h0M108.2 369.8h0M112.7 369.8h0M117.3 369.8h0M121.9 369.8h0M450.1 369.8h0M454.6 369.8h0M459.2 369.8h0M463.7 369.8h0M468.3 369.8h0M472.8 369.8h0M477.4 369.8h0M99.1 374.3h0M103.6 374.3h0M108.2 374.3h0M112.7 374.3h0M117.3 374.3h0M121.9 374.3h0M126.4 374.3h0M450.1 374.3h0M454.6 374.3h0M459.2 374.3h0M463.7 374.3h0M468.3 374.3h0M472.8 374.3h0M477.4 374.3h0M482.0 374.3h0M486.5 374.3h0M89.9 378.9h0M94.5 378.9h0M99.1 378.9h0M103.6 378.9h0M108.2 378.9h0M112.7 378.9h0M117.3 378.9h0M121.9 378.9h0M126.4 378.9h0M450.1 378.9h0M454.6 378.9h0M459.2 378.9h0M463.7 378.9h0M468.3 378.9h0M472.8 378.9h0M477.4 378.9h0M482.0 378.9h0M85.4 383.4h0M89.9 383.4h0M94.5 383.4h0M99.1 383.4h0M103.6 383.4h0M108.2 383.4h0M112.7 383.4h0M117.3 383.4h0M121.9 383.4h0M126.4 383.4h0M445.5 383.4h0M450.1 383.4h0M454.6 383.4h0M459.2 383.4h0M463.7 383.4h0M468.3 383.4h0M472.8 383.4h0M477.4 383.4h0M482.0 383.4h0M85.4 388.0h0M89.9 388.0h0M94.5 388.0h0M99.1 388.0h0M103.6 388.0h0M108.2 388.0h0M112.7 388.0h0M117.3 388.0h0M121.9 388.0h0M126.4 388.0h0M80.8 392.5h0M85.4 392.5h0M89.9 392.5h0M94.5 392.5h0M99.1 392.5h0M103.6 392.5h0M108.2 392.5h0M112.7 392.5h0M117.3 392.5h0M121.9 392.5h0M126.4 392.5h0M131.0 392.5h0M62.6 397.1h0M67.2 397.1h0M71.7 397.1h0M76.3 397.1h0M80.8 397.1h0M85.4 397.1h0M89.9 397.1h0M94.5 397.1h0M99.1 397.1h0M103.6 397.1h0M108.2 397.1h0M112.7 397.1h0M117.3 397.1h0M121.9 397.1h0M126.4 397.1h0M131.0 397.1h0M62.6 401.6h0M67.2 401.6h0M71.7 401.6h0M76.3 401.6h0M108.2 401.6h0M112.7 401.6h0M117.3 401.6h0M121.9 401.6h0M126.4 401.6h0M131.0 401.6h0M135.5 401.6h0M62.6 406.2h0M67.2 406.2h0M71.7 406.2h0M117.3 406.2h0M121.9 406.2h0M126.4 406.2h0M131.0 406.2h0M135.5 406.2h0M62.6 410.7h0M67.2 410.7h0M71.7 410.7h0M112.7 410.7h0M117.3 410.7h0M121.9 410.7h0M126.4 410.7h0M131.0 410.7h0M135.5 410.7h0M140.1 410.7h0M62.6 415.3h0M67.2 415.3h0M71.7 415.3h0M112.7 415.3h0M117.3 415.3h0M121.9 415.3h0M126.4 415.3h0M131.0 415.3h0M135.5 415.3h0M140.1 415.3h0M62.6 419.9h0M67.2 419.9h0M71.7 419.9h0M76.3 419.9h0M112.7 419.9h0M117.3 419.9h0M121.9 419.9h0M126.4 419.9h0M131.0 419.9h0M135.5 419.9h0M140.1 419.9h0M144.6 419.9h0M62.6 424.4h0M67.2 424.4h0M71.7 424.4h0M76.3 424.4h0M112.7 424.4h0M117.3 424.4h0M121.9 424.4h0M126.4 424.4h0M131.0 424.4h0M135.5 424.4h0M140.1 424.4h0M144.6 424.4h0M149.2 424.4h0M62.6 429.0h0M67.2 429.0h0M71.7 429.0h0M76.3 429.0h0M80.8 429.0h0M112.7 429.0h0M117.3 429.0h0M121.9 429.0h0M126.4 429.0h0M131.0 429.0h0M135.5 429.0h0M140.1 429.0h0M144.6 429.0h0M149.2 429.0h0M62.6 433.5h0M67.2 433.5h0M71.7 433.5h0M76.3 433.5h0M80.8 433.5h0M103.6 433.5h0M108.2 433.5h0M112.7 433.5h0M117.3 433.5h0M121.9 433.5h0M126.4 433.5h0M131.0 433.5h0M135.5 433.5h0M140.1 433.5h0M144.6 433.5h0M149.2 433.5h0M62.6 438.1h0M67.2 438.1h0M71.7 438.1h0M76.3 438.1h0M80.8 438.1h0M85.4 438.1h0M89.9 438.1h0M94.5 438.1h0M99.1 438.1h0M103.6 438.1h0M108.2 438.1h0M112.7 438.1h0M117.3 438.1h0M121.9 438.1h0M126.4 438.1h0M131.0 438.1h0M135.5 438.1h0M140.1 438.1h0M144.6 438.1h0M149.2 438.1h0M153.8 438.1h0M62.6 442.6h0M67.2 442.6h0M71.7 442.6h0M76.3 442.6h0M80.8 442.6h0M85.4 442.6h0M89.9 442.6h0M94.5 442.6h0M99.1 442.6h0M103.6 442.6h0M108.2 442.6h0M112.7 442.6h0M117.3 442.6h0M121.9 442.6h0M126.4 442.6h0M131.0 442.6h0M135.5 442.6h0M140.1 442.6h0M144.6 442.6h0M149.2 442.6h0M153.8 442.6h0M158.3 442.6h0M62.6 447.2h0M67.2 447.2h0M71.7 447.2h0M76.3 447.2h0M80.8 447.2h0M85.4 447.2h0M89.9 447.2h0M94.5 447.2h0M99.1 447.2h0M103.6 447.2h0M108.2 447.2h0M112.7 447.2h0M117.3 447.2h0M121.9 447.2h0M126.4 447.2h0M131.0 447.2h0M135.5 447.2h0M140.1 447.2h0M144.6 447.2h0M149.2 447.2h0M153.8 447.2h0M158.3 447.2h0M76.3 451.7h0M80.8 451.7h0M85.4 451.7h0M89.9 451.7h0M94.5 451.7h0M99.1 451.7h0M103.6 451.7h0M108.2 451.7h0M112.7 451.7h0M117.3 451.7h0M121.9 451.7h0M126.4 451.7h0M131.0 451.7h0M135.5 451.7h0M140.1 451.7h0M144.6 451.7h0M149.2 451.7h0M153.8 451.7h0M158.3 451.7h0M80.8 456.3h0M85.4 456.3h0M89.9 456.3h0M94.5 456.3h0M99.1 456.3h0M103.6 456.3h0M108.2 456.3h0M112.7 456.3h0M117.3 456.3h0M121.9 456.3h0M126.4 456.3h0M131.0 456.3h0M135.5 456.3h0M140.1 456.3h0M144.6 456.3h0M149.2 456.3h0M153.8 456.3h0M80.8 460.8h0M85.4 460.8h0M89.9 460.8h0M94.5 460.8h0M99.1 460.8h0M103.6 460.8h0M108.2 460.8h0M112.7 460.8h0M117.3 460.8h0M121.9 460.8h0M126.4 460.8h0M131.0 460.8h0M135.5 460.8h0M140.1 460.8h0M144.6 460.8h0M149.2 460.8h0M153.8 460.8h0M85.4 465.4h0M89.9 465.4h0M94.5 465.4h0M99.1 465.4h0M103.6 465.4h0M108.2 465.4h0M112.7 465.4h0M117.3 465.4h0M121.9 465.4h0M126.4 465.4h0M131.0 465.4h0M135.5 465.4h0M140.1 465.4h0M144.6 465.4h0M149.2 465.4h0M153.8 465.4h0M89.9 470.0h0M94.5 470.0h0M99.1 470.0h0M103.6 470.0h0M108.2 470.0h0M117.3 470.0h0M121.9 470.0h0M126.4 470.0h0M131.0 470.0h0M135.5 470.0h0M140.1 470.0h0M144.6 470.0h0M149.2 470.0h0M153.8 470.0h0M121.9 474.5h0M126.4 474.5h0M131.0 474.5h0M135.5 474.5h0M140.1 474.5h0M144.6 474.5h0M149.2 474.5h0M153.8 474.5h0M131.0 479.1h0M135.5 479.1h0M140.1 479.1h0M144.6 479.1h0M149.2 479.1h0M153.8 479.1h0M158.3 479.1h0M162.9 479.1h0M185.7 479.1h0M190.2 479.1h0M194.8 479.1h0M199.3 479.1h0M203.9 479.1h0M372.6 479.1h0M377.1 479.1h0M381.7 479.1h0M386.2 479.1h0M390.8 479.1h0M395.4 479.1h0M399.9 479.1h0M131.0 483.6h0M135.5 483.6h0M140.1 483.6h0M144.6 483.6h0M149.2 483.6h0M153.8 483.6h0M158.3 483.6h0M162.9 483.6h0M167.4 483.6h0M181.1 483.6h0M185.7 483.6h0M190.2 483.6h0M194.8 483.6h0M199.3 483.6h0M203.9 483.6h0M208.5 483.6h0M368.0 483.6h0M372.6 483.6h0M377.1 483.6h0M381.7 483.6h0M386.2 483.6h0M390.8 483.6h0M395.4 483.6h0M399.9 483.6h0M131.0 488.2h0M135.5 488.2h0M140.1 488.2h0M144.6 488.2h0M149.2 488.2h0M153.8 488.2h0M158.3 488.2h0M162.9 488.2h0M167.4 488.2h0M172.0 488.2h0M176.6 488.2h0M181.1 488.2h0M185.7 488.2h0M190.2 488.2h0M194.8 488.2h0M199.3 488.2h0M203.9 488.2h0M208.5 488.2h0M213.0 488.2h0M217.6 488.2h0M358.9 488.2h0M363.4 488.2h0M368.0 488.2h0M372.6 488.2h0M377.1 488.2h0M381.7 488.2h0M386.2 488.2h0M390.8 488.2h0M395.4 488.2h0M399.9 488.2h0M131.0 492.7h0M135.5 492.7h0M140.1 492.7h0M144.6 492.7h0M149.2 492.7h0M153.8 492.7h0M158.3 492.7h0M162.9 492.7h0M167.4 492.7h0M172.0 492.7h0M176.6 492.7h0M181.1 492.7h0M185.7 492.7h0M190.2 492.7h0M194.8 492.7h0M199.3 492.7h0M203.9 492.7h0M208.5 492.7h0M213.0 492.7h0M363.4 492.7h0M368.0 492.7h0M372.6 492.7h0M377.1 492.7h0M381.7 492.7h0M386.2 492.7h0M390.8 492.7h0M395.4 492.7h0M399.9 492.7h0M131.0 497.3h0M135.5 497.3h0M140.1 497.3h0M144.6 497.3h0M149.2 497.3h0M153.8 497.3h0M158.3 497.3h0M162.9 497.3h0M167.4 497.3h0M172.0 497.3h0M176.6 497.3h0M181.1 497.3h0M185.7 497.3h0M190.2 497.3h0M194.8 497.3h0M199.3 497.3h0M203.9 497.3h0M208.5 497.3h0M213.0 497.3h0M363.4 497.3h0M368.0 497.3h0M372.6 497.3h0M377.1 497.3h0M381.7 497.3h0M386.2 497.3h0M390.8 497.3h0M395.4 497.3h0M131.0 501.8h0M135.5 501.8h0M140.1 501.8h0M144.6 501.8h0M149.2 501.8h0M153.8 501.8h0M158.3 501.8h0M162.9 501.8h0M167.4 501.8h0M172.0 501.8h0M176.6 501.8h0M181.1 501.8h0M185.7 501.8h0M190.2 501.8h0M194.8 501.8h0M199.3 501.8h0M203.9 501.8h0M208.5 501.8h0M213.0 501.8h0M363.4 501.8h0M368.0 501.8h0M372.6 501.8h0M377.1 501.8h0M381.7 501.8h0M386.2 501.8h0M390.8 501.8h0M126.4 506.4h0M131.0 506.4h0M135.5 506.4h0M140.1 506.4h0M144.6 506.4h0M149.2 506.4h0M153.8 506.4h0M158.3 506.4h0M162.9 506.4h0M167.4 506.4h0M172.0 506.4h0M176.6 506.4h0M181.1 506.4h0M185.7 506.4h0M190.2 506.4h0M194.8 506.4h0M199.3 506.4h0M203.9 506.4h0M208.5 506.4h0M213.0 506.4h0M217.6 506.4h0M244.9 506.4h0M249.5 506.4h0M254.0 506.4h0M363.4 506.4h0M368.0 506.4h0M372.6 506.4h0M377.1 506.4h0M381.7 506.4h0M386.2 506.4h0M390.8 506.4h0M440.9 506.4h0M445.5 506.4h0M450.1 506.4h0M121.9 510.9h0M126.4 510.9h0M131.0 510.9h0M135.5 510.9h0M140.1 510.9h0M144.6 510.9h0M149.2 510.9h0M158.3 510.9h0M162.9 510.9h0M167.4 510.9h0M172.0 510.9h0M176.6 510.9h0M181.1 510.9h0M185.7 510.9h0M190.2 510.9h0M194.8 510.9h0M199.3 510.9h0M203.9 510.9h0M208.5 510.9h0M213.0 510.9h0M217.6 510.9h0M222.1 510.9h0M226.7 510.9h0M244.9 510.9h0M249.5 510.9h0M254.0 510.9h0M258.6 510.9h0M263.2 510.9h0M267.7 510.9h0M272.3 510.9h0M349.8 510.9h0M354.3 510.9h0M358.9 510.9h0M363.4 510.9h0M368.0 510.9h0M372.6 510.9h0M377.1 510.9h0M381.7 510.9h0M431.8 510.9h0M436.4 510.9h0M440.9 510.9h0M445.5 510.9h0M450.1 510.9h0M454.6 510.9h0M117.3 515.5h0M121.9 515.5h0M126.4 515.5h0M131.0 515.5h0M135.5 515.5h0M140.1 515.5h0M144.6 515.5h0M149.2 515.5h0M158.3 515.5h0M162.9 515.5h0M167.4 515.5h0M172.0 515.5h0M176.6 515.5h0M181.1 515.5h0M185.7 515.5h0M190.2 515.5h0M194.8 515.5h0M199.3 515.5h0M203.9 515.5h0M208.5 515.5h0M213.0 515.5h0M217.6 515.5h0M222.1 515.5h0M226.7 515.5h0M231.3 515.5h0M235.8 515.5h0M240.4 515.5h0M244.9 515.5h0M249.5 515.5h0M254.0 515.5h0M258.6 515.5h0M263.2 515.5h0M267.7 515.5h0M272.3 515.5h0M276.8 515.5h0M281.4 515.5h0M427.3 515.5h0M431.8 515.5h0M436.4 515.5h0M440.9 515.5h0M445.5 515.5h0M450.1 515.5h0M454.6 515.5h0M459.2 515.5h0M463.7 515.5h0M468.3 515.5h0M117.3 520.1h0M121.9 520.1h0M126.4 520.1h0M131.0 520.1h0M135.5 520.1h0M140.1 520.1h0M144.6 520.1h0M149.2 520.1h0M158.3 520.1h0M162.9 520.1h0M167.4 520.1h0M172.0 520.1h0M176.6 520.1h0M181.1 520.1h0M185.7 520.1h0M190.2 520.1h0M194.8 520.1h0M199.3 520.1h0M203.9 520.1h0M208.5 520.1h0M213.0 520.1h0M217.6 520.1h0M222.1 520.1h0M226.7 520.1h0M231.3 520.1h0M235.8 520.1h0M240.4 520.1h0M427.3 520.1h0M431.8 520.1h0M436.4 520.1h0M440.9 520.1h0M445.5 520.1h0M450.1 520.1h0M454.6 520.1h0M459.2 520.1h0M117.3 524.6h0M121.9 524.6h0M126.4 524.6h0M131.0 524.6h0M135.5 524.6h0M140.1 524.6h0M144.6 524.6h0M149.2 524.6h0M158.3 524.6h0M162.9 524.6h0M167.4 524.6h0M172.0 524.6h0M176.6 524.6h0M181.1 524.6h0M185.7 524.6h0M190.2 524.6h0M194.8 524.6h0M199.3 524.6h0M203.9 524.6h0M208.5 524.6h0M213.0 524.6h0M217.6 524.6h0M222.1 524.6h0M226.7 524.6h0M231.3 524.6h0M235.8 524.6h0M240.4 524.6h0M427.3 524.6h0M431.8 524.6h0M436.4 524.6h0M440.9 524.6h0M445.5 524.6h0M450.1 524.6h0M454.6 524.6h0M459.2 524.6h0M117.3 529.2h0M121.9 529.2h0M126.4 529.2h0M131.0 529.2h0M135.5 529.2h0M140.1 529.2h0M144.6 529.2h0M149.2 529.2h0M158.3 529.2h0M162.9 529.2h0M167.4 529.2h0M172.0 529.2h0M176.6 529.2h0M181.1 529.2h0M185.7 529.2h0M190.2 529.2h0M194.8 529.2h0M199.3 529.2h0M203.9 529.2h0M208.5 529.2h0M213.0 529.2h0M217.6 529.2h0M222.1 529.2h0M226.7 529.2h0M231.3 529.2h0M235.8 529.2h0M240.4 529.2h0M427.3 529.2h0M431.8 529.2h0M436.4 529.2h0M440.9 529.2h0M445.5 529.2h0M450.1 529.2h0M454.6 529.2h0M459.2 529.2h0M117.3 533.7h0M121.9 533.7h0M126.4 533.7h0M131.0 533.7h0M135.5 533.7h0M140.1 533.7h0M144.6 533.7h0M149.2 533.7h0M158.3 533.7h0M162.9 533.7h0M167.4 533.7h0M172.0 533.7h0M176.6 533.7h0M181.1 533.7h0M185.7 533.7h0M190.2 533.7h0M194.8 533.7h0M199.3 533.7h0M203.9 533.7h0M208.5 533.7h0M213.0 533.7h0M217.6 533.7h0M222.1 533.7h0M226.7 533.7h0M231.3 533.7h0M235.8 533.7h0M240.4 533.7h0M427.3 533.7h0M431.8 533.7h0M436.4 533.7h0M440.9 533.7h0M445.5 533.7h0M450.1 533.7h0M454.6 533.7h0M459.2 533.7h0M117.3 538.3h0M121.9 538.3h0M126.4 538.3h0M131.0 538.3h0M135.5 538.3h0M140.1 538.3h0M144.6 538.3h0M149.2 538.3h0M158.3 538.3h0M162.9 538.3h0M167.4 538.3h0M172.0 538.3h0M176.6 538.3h0M181.1 538.3h0M185.7 538.3h0M190.2 538.3h0M194.8 538.3h0M199.3 538.3h0M203.9 538.3h0M208.5 538.3h0M213.0 538.3h0M217.6 538.3h0M222.1 538.3h0M226.7 538.3h0M231.3 538.3h0M235.8 538.3h0M240.4 538.3h0M427.3 538.3h0M431.8 538.3h0M436.4 538.3h0M440.9 538.3h0M445.5 538.3h0M450.1 538.3h0M454.6 538.3h0M459.2 538.3h0M112.7 542.8h0M117.3 542.8h0M121.9 542.8h0M126.4 542.8h0M131.0 542.8h0M135.5 542.8h0M140.1 542.8h0M144.6 542.8h0M149.2 542.8h0M427.3 542.8h0M431.8 542.8h0M436.4 542.8h0M440.9 542.8h0M445.5 542.8h0M450.1 542.8h0M454.6 542.8h0M459.2 542.8h0M108.2 547.4h0M112.7 547.4h0M117.3 547.4h0M121.9 547.4h0M126.4 547.4h0M131.0 547.4h0M135.5 547.4h0M140.1 547.4h0M144.6 547.4h0M149.2 547.4h0M427.3 547.4h0M431.8 547.4h0M436.4 547.4h0M440.9 547.4h0M445.5 547.4h0M450.1 547.4h0M454.6 547.4h0M459.2 547.4h0M463.7 547.4h0M468.3 547.4h0M108.2 551.9h0M112.7 551.9h0M117.3 551.9h0M121.9 551.9h0M126.4 551.9h0M131.0 551.9h0M135.5 551.9h0M140.1 551.9h0M144.6 551.9h0M149.2 551.9h0M427.3 551.9h0M431.8 551.9h0M436.4 551.9h0M440.9 551.9h0M445.5 551.9h0M450.1 551.9h0M454.6 551.9h0M459.2 551.9h0M463.7 551.9h0M468.3 551.9h0M472.8 551.9h0M477.4 551.9h0M482.0 551.9h0M108.2 556.5h0M112.7 556.5h0M117.3 556.5h0M121.9 556.5h0M126.4 556.5h0M131.0 556.5h0M135.5 556.5h0M140.1 556.5h0M144.6 556.5h0M149.2 556.5h0M427.3 556.5h0M431.8 556.5h0M436.4 556.5h0M440.9 556.5h0M445.5 556.5h0M450.1 556.5h0M454.6 556.5h0M459.2 556.5h0M463.7 556.5h0M468.3 556.5h0M472.8 556.5h0M477.4 556.5h0M482.0 556.5h0M486.5 556.5h0M491.1 556.5h0M108.2 561.0h0M112.7 561.0h0M117.3 561.0h0M121.9 561.0h0M126.4 561.0h0M131.0 561.0h0M135.5 561.0h0M140.1 561.0h0M144.6 561.0h0M149.2 561.0h0M427.3 561.0h0M431.8 561.0h0M436.4 561.0h0M440.9 561.0h0M445.5 561.0h0M450.1 561.0h0M454.6 561.0h0M459.2 561.0h0M463.7 561.0h0M468.3 561.0h0M472.8 561.0h0M477.4 561.0h0M482.0 561.0h0M486.5 561.0h0M491.1 561.0h0M108.2 565.6h0M112.7 565.6h0M117.3 565.6h0M121.9 565.6h0M126.4 565.6h0M131.0 565.6h0M135.5 565.6h0M140.1 565.6h0M144.6 565.6h0M149.2 565.6h0M427.3 565.6h0M431.8 565.6h0M436.4 565.6h0M440.9 565.6h0M445.5 565.6h0M450.1 565.6h0M454.6 565.6h0M459.2 565.6h0M463.7 565.6h0M468.3 565.6h0M472.8 565.6h0M477.4 565.6h0M482.0 565.6h0M486.5 565.6h0M491.1 565.6h0"/><path stroke="#414487" d="M117.3 164.8h0M176.6 205.8h0M181.1 205.8h0M185.7 205.8h0M190.2 205.8h0M194.8 205.8h0M185.7 210.3h0M190.2 210.3h0M272.3 233.1h0M276.8 233.1h0M281.4 233.1h0M286.0 233.1h0M290.5 233.1h0M295.1 233.1h0M299.6 233.1h0M304.2 233.1h0M450.1 296.9h0M454.6 296.9h0M459.2 296.9h0M463.7 296.9h0M468.3 296.9h0M472.8 296.9h0M477.4 296.9h0M482.0 296.9h0M486.5 296.9h0M491.1 296.9h0M450.1 301.4h0M454.6 301.4h0M459.2 301.4h0M463.7 301.4h0M468.3 301.4h0M472.8 301.4h0M477.4 301.4h0M482.0 301.4h0M486.5 301.4h0M450.1 306.0h0M454.6 306.0h0M459.2 306.0h0M463.7 306.0h0M468.3 306.0h0M472.8 306.0h0M477.4 306.0h0M450.1 310.5h0M454.6 310.5h0M459.2 310.5h0M463.7 310.5h0M468.3 310.5h0M472.8 310.5h0M459.2 315.1h0M463.7 315.1h0M62.6 319.7h0M67.2 319.7h0M71.7 319.7h0M62.6 324.2h0M67.2 324.2h0M71.7 324.2h0M62.6 328.8h0M67.2 328.8h0M71.7 328.8h0M62.6 333.3h0M67.2 333.3h0M71.7 333.3h0M62.6 337.9h0M67.2 337.9h0M71.7 337.9h0M422.7 438.1h0M427.3 438.1h0M431.8 438.1h0M436.4 438.1h0M440.9 438.1h0M445.5 438.1h0M450.1 438.1h0M454.6 438.1h0M459.2 438.1h0M463.7 438.1h0M468.3 438.1h0M472.8 438.1h0M477.4 438.1h0M482.0 438.1h0M486.5 438.1h0M491.1 438.1h0M495.6 438.1h0M500.2 438.1h0M504.8 438.1h0M509.3 438.1h0M513.9 438.1h0M422.7 442.6h0M427.3 442.6h0M431.8 442.6h0M436.4 442.6h0M440.9 442.6h0M445.5 442.6h0M450.1 442.6h0M454.6 442.6h0M459.2 442.6h0M463.7 442.6h0M468.3 442.6h0M472.8 442.6h0M477.4 442.6h0M482.0 442.6h0M486.5 442.6h0M491.1 442.6h0M495.6 442.6h0M500.2 442.6h0M504.8 442.6h0M509.3 442.6h0M513.9 442.6h0M422.7 447.2h0M427.3 447.2h0M431.8 447.2h0M436.4 447.2h0M440.9 447.2h0M445.5 447.2h0M450.1 447.2h0M454.6 447.2h0M459.2 447.2h0M463.7 447.2h0M468.3 447.2h0M472.8 447.2h0M477.4 447.2h0M482.0 447.2h0M486.5 447.2h0M491.1 447.2h0M495.6 447.2h0M500.2 447.2h0M504.8 447.2h0M509.3 447.2h0M513.9 447.2h0M422.7 451.7h0M427.3 451.7h0M431.8 451.7h0M436.4 451.7h0M440.9 451.7h0M445.5 451.7h0M450.1 451.7h0M454.6 451.7h0M459.2 451.7h0M463.7 451.7h0M468.3 451.7h0M472.8 451.7h0M477.4 451.7h0M482.0 451.7h0M486.5 451.7h0M491.1 451.7h0M495.6 451.7h0M500.2 451.7h0M504.8 451.7h0M509.3 451.7h0M513.9 451.7h0M427.3 456.3h0M431.8 456.3h0M436.4 456.3h0M440.9 456.3h0M445.5 456.3h0M450.1 456.3h0M454.6 456.3h0M459.2 456.3h0M463.7 456.3h0M468.3 456.3h0M472.8 456.3h0M477.4 456.3h0M482.0 456.3h0M486.5 456.3h0M491.1 456.3h0M427.3 460.8h0M431.8 460.8h0M436.4 460.8h0M440.9 460.8h0M445.5 460.8h0M450.1 460.8h0M454.6 460.8h0M459.2 460.8h0M463.7 460.8h0M468.3 460.8h0M472.8 460.8h0M477.4 460.8h0M482.0 460.8h0M486.5 460.8h0M491.1 460.8h0M427.3 465.4h0M431.8 465.4h0M436.4 465.4h0M440.9 465.4h0M445.5 465.4h0M450.1 465.4h0M454.6 465.4h0M459.2 465.4h0M463.7 465.4h0M468.3 465.4h0M472.8 465.4h0M477.4 465.4h0M482.0 465.4h0M386.2 470.0h0M390.8 470.0h0M427.3 470.0h0M431.8 470.0h0M436.4 470.0h0M440.9 470.0h0M445.5 470.0h0M450.1 470.0h0M454.6 470.0h0M459.2 470.0h0M463.7 470.0h0M381.7 474.5h0M386.2 474.5h0M390.8 474.5h0M395.4 474.5h0M399.9 474.5h0M431.8 474.5h0M436.4 474.5h0M440.9 474.5h0M445.5 474.5h0M450.1 474.5h0M454.6 474.5h0M217.6 492.7h0M222.1 492.7h0M226.7 492.7h0M231.3 492.7h0M217.6 497.3h0M222.1 497.3h0M226.7 497.3h0M231.3 497.3h0M235.8 497.3h0M240.4 497.3h0M244.9 497.3h0M217.6 501.8h0M222.1 501.8h0M226.7 501.8h0M231.3 501.8h0M235.8 501.8h0M240.4 501.8h0M244.9 501.8h0M249.5 501.8h0M254.0 501.8h0M258.6 501.8h0M263.2 501.8h0M267.7 501.8h0M272.3 501.8h0M331.5 501.8h0M222.1 506.4h0M226.7 506.4h0M231.3 506.4h0M235.8 506.4h0M240.4 506.4h0M258.6 506.4h0M263.2 506.4h0M267.7 506.4h0M272.3 506.4h0M331.5 506.4h0M153.8 510.9h0M231.3 510.9h0M235.8 510.9h0M240.4 510.9h0M153.8 515.5h0M153.8 520.1h0M153.8 524.6h0M153.8 529.2h0M153.8 533.7h0M153.8 538.3h0"/><path stroke="#450457" d="M418.1 169.4h0M422.7 169.4h0M427.3 169.4h0M404.5 173.9h0M409.0 173.9h0M413.6 173.9h0M418.1 173.9h0M422.7 173.9h0M427.3 173.9h0M431.8 173.9h0M436.4 173.9h0M404.5 178.5h0M409.0 178.5h0M413.6 178.5h0M418.1 178.5h0M422.7 178.5h0M427.3 178.5h0M431.8 178.5h0M436.4 178.5h0M440.9 178.5h0M445.5 178.5h0M404.5 183.0h0M409.0 183.0h0M413.6 183.0h0M418.1 183.0h0M422.7 183.0h0M427.3 183.0h0M431.8 183.0h0M436.4 183.0h0M440.9 183.0h0M445.5 183.0h0M450.1 183.0h0M404.5 187.6h0M409.0 187.6h0M413.6 187.6h0M418.1 187.6h0M422.7 187.6h0M427.3 187.6h0M431.8 187.6h0M436.4 187.6h0M440.9 187.6h0M445.5 187.6h0M450.1 187.6h0M399.9 192.1h0M404.5 192.1h0M409.0 192.1h0M413.6 192.1h0M418.1 192.1h0M422.7 192.1h0M427.3 192.1h0M431.8 192.1h0M436.4 192.1h0M440.9 192.1h0M445.5 192.1h0M450.1 192.1h0M409.0 196.7h0M413.6 196.7h0M418.1 196.7h0M422.7 196.7h0M427.3 196.7h0M431.8 196.7h0M436.4 196.7h0M440.9 196.7h0M445.5 196.7h0M450.1 196.7h0M399.9 201.2h0M404.5 201.2h0M409.0 201.2h0M413.6 201.2h0M418.1 201.2h0M422.7 201.2h0M427.3 201.2h0M431.8 201.2h0M436.4 201.2h0M440.9 201.2h0M445.5 201.2h0M450.1 201.2h0M404.5 205.8h0M409.0 205.8h0M413.6 205.8h0M418.1 205.8h0M422.7 205.8h0M427.3 205.8h0M431.8 205.8h0M436.4 205.8h0M440.9 205.8h0M445.5 205.8h0M450.1 205.8h0M454.6 205.8h0M459.2 205.8h0M463.7 205.8h0M468.3 205.8h0M472.8 205.8h0M477.4 205.8h0M482.0 205.8h0M409.0 210.3h0M413.6 210.3h0M418.1 210.3h0M422.7 210.3h0M445.5 210.3h0M450.1 210.3h0M454.6 210.3h0M459.2 210.3h0M463.7 210.3h0M468.3 210.3h0M472.8 210.3h0M477.4 210.3h0M482.0 210.3h0M450.1 214.9h0M454.6 214.9h0M459.2 214.9h0M463.7 214.9h0M468.3 214.9h0M472.8 214.9h0M477.4 214.9h0M482.0 214.9h0M450.1 219.5h0M454.6 219.5h0M459.2 219.5h0M463.7 219.5h0M468.3 219.5h0M472.8 219.5h0M477.4 219.5h0M482.0 219.5h0M450.1 224.0h0M454.6 224.0h0M459.2 224.0h0M463.7 224.0h0M468.3 224.0h0M472.8 224.0h0M477.4 224.0h0M482.0 224.0h0M450.1 228.6h0M454.6 228.6h0M459.2 228.6h0M463.7 228.6h0M468.3 228.6h0M472.8 228.6h0M477.4 228.6h0M482.0 228.6h0M450.1 233.1h0M454.6 233.1h0M459.2 233.1h0M463.7 233.1h0M468.3 233.1h0M472.8 233.1h0M477.4 233.1h0M482.0 233.1h0M454.6 237.7h0M459.2 237.7h0M463.7 237.7h0M468.3 237.7h0M472.8 237.7h0M477.4 237.7h0M482.0 237.7h0M463.7 242.2h0M468.3 242.2h0M463.7 246.8h0M468.3 246.8h0M217.6 315.1h0M222.1 315.1h0M226.7 315.1h0M231.3 315.1h0M235.8 315.1h0M240.4 315.1h0M244.9 315.1h0M249.5 315.1h0M254.0 315.1h0M258.6 315.1h0M263.2 315.1h0M267.7 315.1h0M272.3 315.1h0M276.8 315.1h0M281.4 315.1h0M286.0 315.1h0M290.5 315.1h0M295.1 315.1h0M299.6 315.1h0M304.2 315.1h0M308.7 315.1h0M313.3 315.1h0M317.9 315.1h0M322.4 315.1h0M327.0 315.1h0M331.5 315.1h0M336.1 315.1h0M340.7 315.1h0M345.2 315.1h0M349.8 315.1h0M354.3 315.1h0M358.9 315.1h0M363.4 315.1h0M368.0 315.1h0M372.6 315.1h0M377.1 315.1h0M381.7 315.1h0M386.2 315.1h0M390.8 315.1h0M450.1 315.1h0M454.6 315.1h0M208.5 319.7h0M213.0 319.7h0M217.6 319.7h0M222.1 319.7h0M226.7 319.7h0M231.3 319.7h0M235.8 319.7h0M240.4 319.7h0M244.9 319.7h0M249.5 319.7h0M254.0 319.7h0M258.6 319.7h0M263.2 319.7h0M267.7 319.7h0M272.3 319.7h0M276.8 319.7h0M281.4 319.7h0M286.0 319.7h0M290.5 319.7h0M295.1 319.7h0M299.6 319.7h0M304.2 319.7h0M308.7 319.7h0M313.3 319.7h0M317.9 319.7h0M322.4 319.7h0M327.0 319.7h0M331.5 319.7h0M336.1 319.7h0M340.7 319.7h0M345.2 319.7h0M349.8 319.7h0M354.3 319.7h0M358.9 319.7h0M363.4 319.7h0M368.0 319.7h0M372.6 319.7h0M377.1 319.7h0M381.7 319.7h0M386.2 319.7h0M390.8 319.7h0M450.1 319.7h0M454.6 319.7h0M459.2 319.7h0M181.1 324.2h0M185.7 324.2h0M190.2 324.2h0M194.8 324.2h0M199.3 324.2h0M203.9 324.2h0M208.5 324.2h0M213.0 324.2h0M217.6 324.2h0M222.1 324.2h0M226.7 324.2h0M231.3 324.2h0M235.8 324.2h0M240.4 324.2h0M244.9 324.2h0M249.5 324.2h0M254.0 324.2h0M258.6 324.2h0M263.2 324.2h0M267.7 324.2h0M272.3 324.2h0M276.8 324.2h0M281.4 324.2h0M286.0 324.2h0M290.5 324.2h0M295.1 324.2h0M299.6 324.2h0M304.2 324.2h0M308.7 324.2h0M313.3 324.2h0M317.9 324.2h0M322.4 324.2h0M327.0 324.2h0M331.5 324.2h0M336.1 324.2h0M340.7 324.2h0M345.2 324.2h0M349.8 324.2h0M354.3 324.2h0M358.9 324.2h0M363.4 324.2h0M368.0 324.2h0M372.6 324.2h0M377.1 324.2h0M381.7 324.2h0M386.2 324.2h0M390.8 324.2h0M395.4 324.2h0M450.1 324.2h0M454.6 324.2h0M459.2 324.2h0M463.7 324.2h0M181.1 328.8h0M185.7 328.8h0M190.2 328.8h0M194.8 328.8h0M199.3 328.8h0M203.9 328.8h0M208.5 328.8h0M213.0 328.8h0M217.6 328.8h0M222.1 328.8h0M226.7 328.8h0M231.3 328.8h0M235.8 328.8h0M240.4 328.8h0M244.9 328.8h0M249.5 328.8h0M254.0 328.8h0M258.6 328.8h0M263.2 328.8h0M267.7 328.8h0M272.3 328.8h0M276.8 328.8h0M281.4 328.8h0M286.0 328.8h0M290.5 328.8h0M295.1 328.8h0M299.6 328.8h0M304.2 328.8h0M308.7 328.8h0M313.3 328.8h0M317.9 328.8h0M322.4 328.8h0M327.0 328.8h0M331.5 328.8h0M336.1 328.8h0M340.7 328.8h0M345.2 328.8h0M349.8 328.8h0M354.3 328.8h0M358.9 328.8h0M363.4 328.8h0M368.0 328.8h0M372.6 328.8h0M377.1 328.8h0M381.7 328.8h0M386.2 328.8h0M390.8 328.8h0M395.4 328.8h0M454.6 328.8h0M459.2 328.8h0M463.7 328.8h0M181.1 333.3h0M185.7 333.3h0M190.2 333.3h0M194.8 333.3h0M199.3 333.3h0M203.9 333.3h0M208.5 333.3h0M213.0 333.3h0M217.6 333.3h0M222.1 333.3h0M226.7 333.3h0M231.3 333.3h0M235.8 333.3h0M240.4 333.3h0M244.9 333.3h0M249.5 333.3h0M254.0 333.3h0M258.6 333.3h0M263.2 333.3h0M267.7 333.3h0M272.3 333.3h0M276.8 333.3h0M281.4 333.3h0M286.0 333.3h0M290.5 333.3h0M295.1 333.3h0M299.6 333.3h0M304.2 333.3h0M308.7 333.3h0M313.3 333.3h0M317.9 333.3h0M322.4 333.3h0M327.0 333.3h0M331.5 333.3h0M336.1 333.3h0M340.7 333.3h0M345.2 333.3h0M349.8 333.3h0M354.3 333.3h0M358.9 333.3h0M363.4 333.3h0M368.0 333.3h0M372.6 333.3h0M377.1 333.3h0M381.7 333.3h0M386.2 333.3h0M390.8 333.3h0M395.4 333.3h0M454.6 333.3h0M459.2 333.3h0M463.7 333.3h0M181.1 337.9h0M185.7 337.9h0M190.2 337.9h0M194.8 337.9h0M199.3 337.9h0M203.9 337.9h0M208.5 337.9h0M213.0 337.9h0M217.6 337.9h0M222.1 337.9h0M226.7 337.9h0M231.3 337.9h0M235.8 337.9h0M240.4 337.9h0M244.9 337.9h0M249.5 337.9h0M254.0 337.9h0M258.6 337.9h0M263.2 337.9h0M267.7 337.9h0M272.3 337.9h0M276.8 337.9h0M281.4 337.9h0M286.0 337.9h0M290.5 337.9h0M295.1 337.9h0M299.6 337.9h0M304.2 337.9h0M308.7 337.9h0M313.3 337.9h0M317.9 337.9h0M322.4 337.9h0M327.0 337.9h0M331.5 337.9h0M336.1 337.9h0M340.7 337.9h0M345.2 337.9h0M349.8 337.9h0M354.3 337.9h0M358.9 337.9h0M363.4 337.9h0M368.0 337.9h0M372.6 337.9h0M377.1 337.9h0M381.7 337.9h0M386.2 337.9h0M390.8 337.9h0M395.4 337.9h0M454.6 337.9h0M459.2 337.9h0M463.7 337.9h0M181.1 342.4h0M185.7 342.4h0M190.2 342.4h0M194.8 342.4h0M199.3 342.4h0M203.9 342.4h0M208.5 342.4h0M213.0 342.4h0M217.6 342.4h0M222.1 342.4h0M226.7 342.4h0M231.3 342.4h0M235.8 342.4h0M240.4 342.4h0M244.9 342.4h0M249.5 342.4h0M254.0 342.4h0M258.6 342.4h0M263.2 342.4h0M267.7 342.4h0M272.3 342.4h0M276.8 342.4h0M281.4 342.4h0M286.0 342.4h0M290.5 342.4h0M295.1 342.4h0M299.6 342.4h0M304.2 342.4h0M308.7 342.4h0M313.3 342.4h0M317.9 342.4h0M322.4 342.4h0M327.0 342.4h0M331.5 342.4h0M336.1 342.4h0M340.7 342.4h0M345.2 342.4h0M349.8 342.4h0M354.3 342.4h0M358.9 342.4h0M363.4 342.4h0M368.0 342.4h0M372.6 342.4h0M377.1 342.4h0M381.7 342.4h0M386.2 342.4h0M390.8 342.4h0M395.4 342.4h0M454.6 342.4h0M459.2 342.4h0M463.7 342.4h0M181.1 347.0h0M185.7 347.0h0M190.2 347.0h0M194.8 347.0h0M199.3 347.0h0M203.9 347.0h0M208.5 347.0h0M213.0 347.0h0M217.6 347.0h0M222.1 347.0h0M226.7 347.0h0M231.3 347.0h0M235.8 347.0h0M240.4 347.0h0M244.9 347.0h0M249.5 347.0h0M254.0 347.0h0M258.6 347.0h0M263.2 347.0h0M267.7 347.0h0M272.3 347.0h0M276.8 347.0h0M281.4 347.0h0M286.0 347.0h0M290.5 347.0h0M295.1 347.0h0M299.6 347.0h0M304.2 347.0h0M308.7 347.0h0M313.3 347.0h0M317.9 347.0h0M322.4 347.0h0M327.0 347.0h0M331.5 347.0h0M336.1 347.0h0M340.7 347.0h0M345.2 347.0h0M349.8 347.0h0M354.3 347.0h0M358.9 347.0h0M363.4 347.0h0M368.0 347.0h0M372.6 347.0h0M377.1 347.0h0M381.7 347.0h0M386.2 347.0h0M390.8 347.0h0M395.4 347.0h0M454.6 347.0h0M459.2 347.0h0M463.7 347.0h0M181.1 351.5h0M185.7 351.5h0M190.2 351.5h0M194.8 351.5h0M199.3 351.5h0M203.9 351.5h0M208.5 351.5h0M213.0 351.5h0M217.6 351.5h0M222.1 351.5h0M226.7 351.5h0M231.3 351.5h0M235.8 351.5h0M240.4 351.5h0M244.9 351.5h0M249.5 351.5h0M254.0 351.5h0M258.6 351.5h0M263.2 351.5h0M267.7 351.5h0M272.3 351.5h0M276.8 351.5h0M281.4 351.5h0M286.0 351.5h0M290.5 351.5h0M295.1 351.5h0M299.6 351.5h0M304.2 351.5h0M308.7 351.5h0M313.3 351.5h0M317.9 351.5h0M322.4 351.5h0M327.0 351.5h0M331.5 351.5h0M336.1 351.5h0M340.7 351.5h0M345.2 351.5h0M349.8 351.5h0M354.3 351.5h0M358.9 351.5h0M363.4 351.5h0M368.0 351.5h0M372.6 351.5h0M377.1 351.5h0M381.7 351.5h0M386.2 351.5h0M390.8 351.5h0M395.4 351.5h0M454.6 351.5h0M459.2 351.5h0M181.1 356.1h0M185.7 356.1h0M190.2 356.1h0M194.8 356.1h0M199.3 356.1h0M203.9 356.1h0M208.5 356.1h0M213.0 356.1h0M217.6 356.1h0M222.1 356.1h0M226.7 356.1h0M231.3 356.1h0M235.8 356.1h0M240.4 356.1h0M244.9 356.1h0M249.5 356.1h0M254.0 356.1h0M258.6 356.1h0M263.2 356.1h0M267.7 356.1h0M272.3 356.1h0M276.8 356.1h0M281.4 356.1h0M286.0 356.1h0M290.5 356.1h0M295.1 356.1h0M299.6 356.1h0M304.2 356.1h0M308.7 356.1h0M313.3 356.1h0M317.9 356.1h0M322.4 356.1h0M327.0 356.1h0M331.5 356.1h0M336.1 356.1h0M340.7 356.1h0M345.2 356.1h0M349.8 356.1h0M354.3 356.1h0M358.9 356.1h0M363.4 356.1h0M368.0 356.1h0M372.6 356.1h0M377.1 356.1h0M381.7 356.1h0M386.2 356.1h0M390.8 356.1h0M395.4 356.1h0M450.1 356.1h0M454.6 356.1h0M459.2 356.1h0M185.7 360.6h0M190.2 360.6h0M450.1 360.6h0M454.6 360.6h0"/><path stroke="#f6e620" d="M276.8 178.5h0M281.4 178.5h0M286.0 178.5h0M249.5 183.0h0M254.0 183.0h0M258.6 183.0h0M263.2 183.0h0M267.7 183.0h0M272.3 183.0h0M276.8 183.0h0M281.4 183.0h0M286.0 183.0h0M235.8 187.6h0M240.4 187.6h0M244.9 187.6h0M249.5 187.6h0M254.0 187.6h0M258.6 187.6h0M263.2 187.6h0M267.7 187.6h0M272.3 187.6h0M276.8 187.6h0M281.4 187.6h0M286.0 187.6h0M336.1 187.6h0M340.7 187.6h0M222.1 192.1h0M226.7 192.1h0M231.3 192.1h0M235.8 192.1h0M240.4 192.1h0M244.9 192.1h0M249.5 192.1h0M254.0 192.1h0M258.6 192.1h0M263.2 192.1h0M267.7 192.1h0M272.3 192.1h0M276.8 192.1h0M281.4 192.1h0M286.0 192.1h0M336.1 192.1h0M340.7 192.1h0M345.2 192.1h0M349.8 192.1h0M354.3 192.1h0M213.0 196.7h0M217.6 196.7h0M222.1 196.7h0M226.7 196.7h0M231.3 196.7h0M235.8 196.7h0M240.4 196.7h0M244.9 196.7h0M249.5 196.7h0M254.0 196.7h0M258.6 196.7h0M263.2 196.7h0M267.7 196.7h0M272.3 196.7h0M276.8 196.7h0M281.4 196.7h0M286.0 196.7h0M336.1 196.7h0M340.7 196.7h0M345.2 196.7h0M349.8 196.7h0M354.3 196.7h0M358.9 196.7h0M363.4 196.7h0M208.5 201.2h0M213.0 201.2h0M217.6 201.2h0M222.1 201.2h0M226.7 201.2h0M231.3 201.2h0M235.8 201.2h0M240.4 201.2h0M244.9 201.2h0M249.5 201.2h0M254.0 201.2h0M258.6 201.2h0M263.2 201.2h0M267.7 201.2h0M272.3 201.2h0M276.8 201.2h0M281.4 201.2h0M286.0 201.2h0M340.7 201.2h0M345.2 201.2h0M349.8 201.2h0M354.3 201.2h0M358.9 201.2h0M363.4 201.2h0M208.5 205.8h0M213.0 205.8h0M217.6 205.8h0M222.1 205.8h0M226.7 205.8h0M231.3 205.8h0M235.8 205.8h0M240.4 205.8h0M244.9 205.8h0M249.5 205.8h0M254.0 205.8h0M258.6 205.8h0M263.2 205.8h0M267.7 205.8h0M272.3 205.8h0M276.8 205.8h0M281.4 205.8h0M286.0 205.8h0M345.2 205.8h0M349.8 205.8h0M354.3 205.8h0M358.9 205.8h0M194.8 210.3h0M199.3 210.3h0M203.9 210.3h0M208.5 210.3h0M213.0 210.3h0M217.6 210.3h0M222.1 210.3h0M226.7 210.3h0M231.3 210.3h0M235.8 210.3h0M240.4 210.3h0M244.9 210.3h0M249.5 210.3h0M254.0 210.3h0M258.6 210.3h0M263.2 210.3h0M267.7 210.3h0M272.3 210.3h0M276.8 210.3h0M281.4 210.3h0M286.0 210.3h0M349.8 210.3h0M354.3 210.3h0M190.2 214.9h0M194.8 214.9h0M199.3 214.9h0M203.9 214.9h0M208.5 214.9h0M213.0 214.9h0M217.6 214.9h0M222.1 214.9h0M226.7 214.9h0M231.3 214.9h0M235.8 214.9h0M240.4 214.9h0M244.9 214.9h0M249.5 214.9h0M254.0 214.9h0M258.6 214.9h0M263.2 214.9h0M267.7 214.9h0M272.3 214.9h0M276.8 214.9h0M281.4 214.9h0M286.0 214.9h0M194.8 219.5h0M199.3 219.5h0M203.9 219.5h0M208.5 219.5h0M213.0 219.5h0M217.6 219.5h0M222.1 219.5h0M226.7 219.5h0M231.3 219.5h0M235.8 219.5h0M240.4 219.5h0M244.9 219.5h0M249.5 219.5h0M254.0 219.5h0M258.6 219.5h0M263.2 219.5h0M267.7 219.5h0M272.3 219.5h0M276.8 219.5h0M281.4 219.5h0M286.0 219.5h0M194.8 224.0h0M199.3 224.0h0M203.9 224.0h0M208.5 224.0h0M213.0 224.0h0M217.6 224.0h0M222.1 224.0h0M226.7 224.0h0M231.3 224.0h0M235.8 224.0h0M240.4 224.0h0M244.9 224.0h0M249.5 224.0h0M254.0 224.0h0M258.6 224.0h0M263.2 224.0h0M267.7 224.0h0M272.3 224.0h0M276.8 224.0h0M281.4 224.0h0M286.0 224.0h0M194.8 228.6h0M199.3 228.6h0M203.9 228.6h0M208.5 228.6h0M213.0 228.6h0M217.6 228.6h0M222.1 228.6h0M226.7 228.6h0M231.3 228.6h0M235.8 228.6h0M240.4 228.6h0M244.9 228.6h0M249.5 228.6h0M254.0 228.6h0M258.6 228.6h0M263.2 228.6h0M267.7 228.6h0M272.3 228.6h0M276.8 228.6h0M281.4 228.6h0M286.0 228.6h0M199.3 233.1h0M203.9 233.1h0M208.5 233.1h0M213.0 233.1h0M217.6 233.1h0M222.1 233.1h0M226.7 233.1h0M231.3 233.1h0M235.8 233.1h0M240.4 233.1h0M244.9 233.1h0M249.5 233.1h0M254.0 233.1h0M258.6 233.1h0M263.2 233.1h0M267.7 233.1h0M199.3 237.7h0M203.9 237.7h0M208.5 237.7h0M213.0 237.7h0M235.8 237.7h0M240.4 237.7h0M244.9 237.7h0M249.5 237.7h0M231.3 242.2h0M235.8 242.2h0M240.4 242.2h0M158.3 251.3h0M162.9 251.3h0M167.4 251.3h0M172.0 251.3h0M176.6 251.3h0M181.1 251.3h0M185.7 251.3h0M190.2 251.3h0M158.3 255.9h0M162.9 255.9h0M167.4 255.9h0M172.0 255.9h0M176.6 255.9h0M181.1 255.9h0M185.7 255.9h0M190.2 255.9h0M158.3 260.4h0M162.9 260.4h0M167.4 260.4h0M172.0 260.4h0M176.6 260.4h0M181.1 260.4h0M185.7 260.4h0M190.2 260.4h0M194.8 260.4h0M158.3 265.0h0M162.9 265.0h0M167.4 265.0h0M172.0 265.0h0M176.6 265.0h0M181.1 265.0h0M185.7 265.0h0M190.2 265.0h0M194.8 265.0h0M158.3 269.6h0M162.9 269.6h0M167.4 269.6h0M172.0 269.6h0M176.6 269.6h0M181.1 269.6h0M185.7 269.6h0M190.2 269.6h0M194.8 269.6h0M158.3 274.1h0M162.9 274.1h0M167.4 274.1h0M172.0 274.1h0M176.6 274.1h0M181.1 274.1h0M185.7 274.1h0M190.2 274.1h0M194.8 274.1h0M395.4 392.5h0M395.4 397.1h0M399.9 397.1h0M404.5 397.1h0M381.7 401.6h0M386.2 401.6h0M390.8 401.6h0M395.4 401.6h0M399.9 401.6h0M404.5 401.6h0M409.0 401.6h0M413.6 401.6h0M418.1 401.6h0M422.7 401.6h0M427.3 401.6h0M199.3 406.2h0M377.1 406.2h0M381.7 406.2h0M386.2 406.2h0M390.8 406.2h0M395.4 406.2h0M399.9 406.2h0M404.5 406.2h0M409.0 406.2h0M413.6 406.2h0M418.1 406.2h0M422.7 406.2h0M427.3 406.2h0M199.3 410.7h0M203.9 410.7h0M372.6 410.7h0M377.1 410.7h0M381.7 410.7h0M386.2 410.7h0M390.8 410.7h0M395.4 410.7h0M399.9 410.7h0M404.5 410.7h0M409.0 410.7h0M413.6 410.7h0M418.1 410.7h0M422.7 410.7h0M427.3 410.7h0M199.3 415.3h0M203.9 415.3h0M208.5 415.3h0M368.0 415.3h0M372.6 415.3h0M377.1 415.3h0M381.7 415.3h0M386.2 415.3h0M390.8 415.3h0M395.4 415.3h0M399.9 415.3h0M404.5 415.3h0M409.0 415.3h0M413.6 415.3h0M418.1 415.3h0M422.7 415.3h0M427.3 415.3h0M199.3 419.9h0M203.9 419.9h0M208.5 419.9h0M213.0 419.9h0M363.4 419.9h0M368.0 419.9h0M372.6 419.9h0M377.1 419.9h0M381.7 419.9h0M386.2 419.9h0M390.8 419.9h0M395.4 419.9h0M399.9 419.9h0M404.5 419.9h0M409.0 419.9h0M413.6 419.9h0M418.1 419.9h0M422.7 419.9h0M427.3 419.9h0M203.9 424.4h0M208.5 424.4h0M213.0 424.4h0M217.6 424.4h0M358.9 424.4h0M363.4 424.4h0M368.0 424.4h0M372.6 424.4h0M377.1 424.4h0M381.7 424.4h0M386.2 424.4h0M390.8 424.4h0M395.4 424.4h0M399.9 424.4h0M404.5 424.4h0M409.0 424.4h0M413.6 424.4h0M418.1 424.4h0M422.7 424.4h0M203.9 429.0h0M208.5 429.0h0M213.0 429.0h0M217.6 429.0h0M222.1 429.0h0M354.3 429.0h0M358.9 429.0h0M363.4 429.0h0M368.0 429.0h0M372.6 429.0h0M377.1 429.0h0M381.7 429.0h0M386.2 429.0h0M390.8 429.0h0M395.4 429.0h0M399.9 429.0h0M404.5 429.0h0M409.0 429.0h0M413.6 429.0h0M418.1 429.0h0M422.7 429.0h0M345.2 433.5h0M349.8 433.5h0M354.3 433.5h0M358.9 433.5h0M363.4 433.5h0M368.0 433.5h0M372.6 433.5h0M377.1 433.5h0M381.7 433.5h0M386.2 433.5h0M390.8 433.5h0M395.4 433.5h0M399.9 433.5h0M404.5 433.5h0M409.0 433.5h0M413.6 433.5h0M418.1 433.5h0M240.4 438.1h0M336.1 438.1h0M340.7 438.1h0M345.2 438.1h0M349.8 438.1h0M354.3 438.1h0M358.9 438.1h0M363.4 438.1h0M368.0 438.1h0M372.6 438.1h0M377.1 438.1h0M381.7 438.1h0M386.2 438.1h0M390.8 438.1h0M395.4 438.1h0M399.9 438.1h0M404.5 438.1h0M409.0 438.1h0M413.6 438.1h0M244.9 442.6h0M249.5 442.6h0M327.0 442.6h0M331.5 442.6h0M336.1 442.6h0M340.7 442.6h0M345.2 442.6h0M349.8 442.6h0M354.3 442.6h0M358.9 442.6h0M363.4 442.6h0M368.0 442.6h0M372.6 442.6h0M377.1 442.6h0M381.7 442.6h0M386.2 442.6h0M390.8 442.6h0M395.4 442.6h0M399.9 442.6h0M404.5 442.6h0M409.0 442.6h0M413.6 442.6h0M167.4 447.2h0M172.0 447.2h0M176.6 447.2h0M181.1 447.2h0M185.7 447.2h0M190.2 447.2h0M194.8 447.2h0M240.4 447.2h0M244.9 447.2h0M249.5 447.2h0M254.0 447.2h0M258.6 447.2h0M263.2 447.2h0M267.7 447.2h0M308.7 447.2h0M313.3 447.2h0M317.9 447.2h0M322.4 447.2h0M327.0 447.2h0M331.5 447.2h0M336.1 447.2h0M340.7 447.2h0M345.2 447.2h0M349.8 447.2h0M354.3 447.2h0M358.9 447.2h0M363.4 447.2h0M368.0 447.2h0M372.6 447.2h0M377.1 447.2h0M381.7 447.2h0M172.0 451.7h0M176.6 451.7h0M181.1 451.7h0M185.7 451.7h0M190.2 451.7h0M194.8 451.7h0M240.4 451.7h0M244.9 451.7h0M249.5 451.7h0M254.0 451.7h0M258.6 451.7h0M263.2 451.7h0M267.7 451.7h0M272.3 451.7h0M276.8 451.7h0M281.4 451.7h0M286.0 451.7h0M290.5 451.7h0M295.1 451.7h0M299.6 451.7h0M304.2 451.7h0M308.7 451.7h0M313.3 451.7h0M317.9 451.7h0M322.4 451.7h0M327.0 451.7h0M331.5 451.7h0M336.1 451.7h0M340.7 451.7h0M345.2 451.7h0M349.8 451.7h0M354.3 451.7h0M358.9 451.7h0M363.4 451.7h0M368.0 451.7h0M372.6 451.7h0M377.1 451.7h0M381.7 451.7h0M176.6 456.3h0M181.1 456.3h0M185.7 456.3h0M190.2 456.3h0M194.8 456.3h0M240.4 456.3h0M244.9 456.3h0M249.5 456.3h0M254.0 456.3h0M258.6 456.3h0M263.2 456.3h0M267.7 456.3h0M272.3 456.3h0M276.8 456.3h0M281.4 456.3h0M286.0 456.3h0M290.5 456.3h0M295.1 456.3h0M299.6 456.3h0M304.2 456.3h0M308.7 456.3h0M313.3 456.3h0M317.9 456.3h0M322.4 456.3h0M327.0 456.3h0M331.5 456.3h0M336.1 456.3h0M340.7 456.3h0M345.2 456.3h0M349.8 456.3h0M354.3 456.3h0M358.9 456.3h0M363.4 456.3h0M368.0 456.3h0M372.6 456.3h0M377.1 456.3h0M381.7 456.3h0M181.1 460.8h0M185.7 460.8h0M190.2 460.8h0M194.8 460.8h0M199.3 460.8h0M240.4 460.8h0M244.9 460.8h0M249.5 460.8h0M254.0 460.8h0M258.6 460.8h0M263.2 460.8h0M267.7 460.8h0M272.3 460.8h0M276.8 460.8h0M281.4 460.8h0M286.0 460.8h0M290.5 460.8h0M295.1 460.8h0M299.6 460.8h0M304.2 460.8h0M308.7 460.8h0M313.3 460.8h0M317.9 460.8h0M322.4 460.8h0M327.0 460.8h0M331.5 460.8h0M336.1 460.8h0M340.7 460.8h0M345.2 460.8h0M349.8 460.8h0M354.3 460.8h0M358.9 460.8h0M363.4 460.8h0M368.0 460.8h0M372.6 460.8h0M377.1 460.8h0M381.7 460.8h0M185.7 465.4h0M190.2 465.4h0M194.8 465.4h0M199.3 465.4h0M240.4 465.4h0M244.9 465.4h0M249.5 465.4h0M254.0 465.4h0M258.6 465.4h0M263.2 465.4h0M267.7 465.4h0M272.3 465.4h0M276.8 465.4h0M281.4 465.4h0M286.0 465.4h0M290.5 465.4h0M295.1 465.4h0M299.6 465.4h0M304.2 465.4h0M308.7 465.4h0M313.3 465.4h0M317.9 465.4h0M322.4 465.4h0M327.0 465.4h0M331.5 465.4h0M336.1 465.4h0M340.7 465.4h0M345.2 465.4h0M349.8 465.4h0M354.3 465.4h0M358.9 465.4h0M363.4 465.4h0M368.0 465.4h0M372.6 465.4h0M377.1 465.4h0M381.7 465.4h0M386.2 465.4h0M194.8 470.0h0M199.3 470.0h0M240.4 470.0h0M244.9 470.0h0M249.5 470.0h0M254.0 470.0h0M258.6 470.0h0M263.2 470.0h0M267.7 470.0h0M272.3 470.0h0M276.8 470.0h0M281.4 470.0h0M286.0 470.0h0M290.5 470.0h0M295.1 470.0h0M299.6 470.0h0M304.2 470.0h0M308.7 470.0h0M313.3 470.0h0M317.9 470.0h0M322.4 470.0h0M327.0 470.0h0M331.5 470.0h0M336.1 470.0h0M340.7 470.0h0M345.2 470.0h0M349.8 470.0h0M354.3 470.0h0M358.9 470.0h0M363.4 470.0h0M368.0 470.0h0M372.6 470.0h0M377.1 470.0h0M381.7 470.0h0M240.4 474.5h0M244.9 474.5h0M249.5 474.5h0M254.0 474.5h0M258.6 474.5h0M263.2 474.5h0M267.7 474.5h0M272.3 474.5h0M276.8 474.5h0M281.4 474.5h0M286.0 474.5h0M290.5 474.5h0M295.1 474.5h0M299.6 474.5h0M304.2 474.5h0M308.7 474.5h0M313.3 474.5h0M317.9 474.5h0M322.4 474.5h0M327.0 474.5h0M331.5 474.5h0M336.1 474.5h0M340.7 474.5h0M345.2 474.5h0M349.8 474.5h0M354.3 474.5h0M358.9 474.5h0M363.4 474.5h0M208.5 479.1h0M213.0 479.1h0M217.6 479.1h0M222.1 479.1h0M226.7 479.1h0M231.3 479.1h0M235.8 479.1h0M240.4 479.1h0M244.9 479.1h0M249.5 479.1h0M254.0 479.1h0M258.6 479.1h0M263.2 479.1h0M267.7 479.1h0M272.3 479.1h0M276.8 479.1h0M281.4 479.1h0M286.0 479.1h0M290.5 479.1h0M295.1 479.1h0M299.6 479.1h0M304.2 479.1h0M308.7 479.1h0M313.3 479.1h0M317.9 479.1h0M322.4 479.1h0M327.0 479.1h0M331.5 479.1h0M336.1 479.1h0M340.7 479.1h0M345.2 479.1h0M349.8 479.1h0M354.3 479.1h0M358.9 479.1h0M363.4 479.1h0M368.0 479.1h0M213.0 483.6h0M217.6 483.6h0M222.1 483.6h0M226.7 483.6h0M231.3 483.6h0M235.8 483.6h0M240.4 483.6h0M244.9 483.6h0M249.5 483.6h0M254.0 483.6h0M258.6 483.6h0M263.2 483.6h0M267.7 483.6h0M272.3 483.6h0M276.8 483.6h0M281.4 483.6h0M286.0 483.6h0M290.5 483.6h0M295.1 483.6h0M299.6 483.6h0M304.2 483.6h0M308.7 483.6h0M313.3 483.6h0M317.9 483.6h0M322.4 483.6h0M327.0 483.6h0M331.5 483.6h0M336.1 483.6h0M340.7 483.6h0M345.2 483.6h0M349.8 483.6h0M354.3 483.6h0M358.9 483.6h0M363.4 483.6h0M222.1 488.2h0M226.7 488.2h0M231.3 488.2h0M235.8 488.2h0M240.4 488.2h0M244.9 488.2h0M249.5 488.2h0M254.0 488.2h0M258.6 488.2h0M263.2 488.2h0M267.7 488.2h0M272.3 488.2h0M276.8 488.2h0M281.4 488.2h0M286.0 488.2h0M290.5 488.2h0M295.1 488.2h0M299.6 488.2h0M304.2 488.2h0M308.7 488.2h0M313.3 488.2h0M317.9 488.2h0M322.4 488.2h0M327.0 488.2h0M331.5 488.2h0M336.1 488.2h0M340.7 488.2h0M345.2 488.2h0M349.8 488.2h0M354.3 488.2h0M235.8 492.7h0M240.4 492.7h0M244.9 492.7h0M249.5 492.7h0M254.0 492.7h0M258.6 492.7h0M263.2 492.7h0M267.7 492.7h0M272.3 492.7h0M276.8 492.7h0M281.4 492.7h0M286.0 492.7h0M290.5 492.7h0M295.1 492.7h0M299.6 492.7h0M304.2 492.7h0M308.7 492.7h0M313.3 492.7h0M317.9 492.7h0M322.4 492.7h0M327.0 492.7h0M331.5 492.7h0M336.1 492.7h0M340.7 492.7h0M249.5 497.3h0M254.0 497.3h0M258.6 497.3h0M263.2 497.3h0M267.7 497.3h0M272.3 497.3h0M276.8 497.3h0M281.4 497.3h0M286.0 497.3h0M290.5 497.3h0M295.1 497.3h0M299.6 497.3h0M304.2 497.3h0M308.7 497.3h0M313.3 497.3h0M317.9 497.3h0M322.4 497.3h0M327.0 497.3h0M276.8 501.8h0M281.4 501.8h0M286.0 501.8h0M290.5 501.8h0M295.1 501.8h0M299.6 501.8h0"/><path stroke="#dfe318" d="M290.5 178.5h0M295.1 178.5h0M299.6 178.5h0M290.5 183.0h0M295.1 183.0h0M299.6 183.0h0M304.2 183.0h0M308.7 183.0h0M313.3 183.0h0M317.9 183.0h0M322.4 183.0h0M327.0 183.0h0M290.5 187.6h0M295.1 187.6h0M299.6 187.6h0M304.2 187.6h0M308.7 187.6h0M313.3 187.6h0M317.9 187.6h0M322.4 187.6h0M327.0 187.6h0M331.5 187.6h0M290.5 192.1h0M295.1 192.1h0M299.6 192.1h0M304.2 192.1h0M308.7 192.1h0M313.3 192.1h0M317.9 192.1h0M322.4 192.1h0M327.0 192.1h0M331.5 192.1h0M290.5 196.7h0M295.1 196.7h0M299.6 196.7h0M304.2 196.7h0M308.7 196.7h0M313.3 196.7h0M317.9 196.7h0M322.4 196.7h0M327.0 196.7h0M331.5 196.7h0M290.5 201.2h0M295.1 201.2h0M299.6 201.2h0M304.2 201.2h0M308.7 201.2h0M313.3 201.2h0M317.9 201.2h0M322.4 201.2h0M327.0 201.2h0M331.5 201.2h0M336.1 201.2h0M199.3 205.8h0M203.9 205.8h0M185.7 214.9h0M181.1 219.5h0M185.7 219.5h0M190.2 219.5h0M176.6 224.0h0M181.1 224.0h0M185.7 224.0h0M190.2 224.0h0M172.0 228.6h0M176.6 228.6h0M181.1 228.6h0M185.7 228.6h0M190.2 228.6h0M167.4 233.1h0M172.0 233.1h0M176.6 233.1h0M181.1 233.1h0M185.7 233.1h0M190.2 233.1h0M194.8 233.1h0M162.9 237.7h0M167.4 237.7h0M172.0 237.7h0M176.6 237.7h0M181.1 237.7h0M185.7 237.7h0M190.2 237.7h0M194.8 237.7h0M217.6 237.7h0M222.1 237.7h0M226.7 237.7h0M231.3 237.7h0M217.6 242.2h0M222.1 242.2h0M226.7 242.2h0M217.6 246.8h0M222.1 246.8h0M226.7 246.8h0M231.3 246.8h0M217.6 251.3h0M222.1 251.3h0M217.6 255.9h0M140.1 397.1h0M144.6 397.1h0M149.2 397.1h0M153.8 397.1h0M158.3 397.1h0M162.9 397.1h0M167.4 397.1h0M172.0 397.1h0M176.6 397.1h0M181.1 397.1h0M185.7 397.1h0M190.2 397.1h0M194.8 397.1h0M140.1 401.6h0M144.6 401.6h0M149.2 401.6h0M153.8 401.6h0M158.3 401.6h0M162.9 401.6h0M167.4 401.6h0M172.0 401.6h0M176.6 401.6h0M181.1 401.6h0M185.7 401.6h0M190.2 401.6h0M194.8 401.6h0M431.8 401.6h0M436.4 401.6h0M140.1 406.2h0M144.6 406.2h0M149.2 406.2h0M153.8 406.2h0M158.3 406.2h0M162.9 406.2h0M167.4 406.2h0M172.0 406.2h0M176.6 406.2h0M181.1 406.2h0M185.7 406.2h0M190.2 406.2h0M194.8 406.2h0M431.8 406.2h0M436.4 406.2h0M144.6 410.7h0M149.2 410.7h0M153.8 410.7h0M158.3 410.7h0M162.9 410.7h0M167.4 410.7h0M172.0 410.7h0M176.6 410.7h0M181.1 410.7h0M185.7 410.7h0M190.2 410.7h0M194.8 410.7h0M431.8 410.7h0M144.6 415.3h0M149.2 415.3h0M153.8 415.3h0M158.3 415.3h0M162.9 415.3h0M167.4 415.3h0M172.0 415.3h0M176.6 415.3h0M181.1 415.3h0M185.7 415.3h0M190.2 415.3h0M194.8 415.3h0M431.8 415.3h0M149.2 419.9h0M153.8 419.9h0M158.3 419.9h0M162.9 419.9h0M167.4 419.9h0M172.0 419.9h0M176.6 419.9h0M181.1 419.9h0M185.7 419.9h0M190.2 419.9h0M194.8 419.9h0M153.8 424.4h0M158.3 424.4h0M162.9 424.4h0M167.4 424.4h0M172.0 424.4h0M176.6 424.4h0M181.1 424.4h0M185.7 424.4h0M190.2 424.4h0M194.8 424.4h0M199.3 424.4h0M153.8 429.0h0M158.3 429.0h0M162.9 429.0h0M167.4 429.0h0M172.0 429.0h0M176.6 429.0h0M181.1 429.0h0M185.7 429.0h0M190.2 429.0h0M194.8 429.0h0M199.3 429.0h0M158.3 433.5h0M162.9 433.5h0M167.4 433.5h0M172.0 433.5h0M176.6 433.5h0M181.1 433.5h0M185.7 433.5h0M190.2 433.5h0M194.8 433.5h0M199.3 433.5h0M162.9 438.1h0M167.4 438.1h0M172.0 438.1h0M176.6 438.1h0M181.1 438.1h0M185.7 438.1h0M190.2 438.1h0M194.8 438.1h0M199.3 438.1h0M162.9 442.6h0M167.4 442.6h0M172.0 442.6h0M176.6 442.6h0M181.1 442.6h0M185.7 442.6h0M190.2 442.6h0M194.8 442.6h0M199.3 442.6h0M386.2 447.2h0M390.8 447.2h0M395.4 447.2h0M399.9 447.2h0M404.5 447.2h0M409.0 447.2h0M386.2 451.7h0M390.8 451.7h0M395.4 451.7h0M399.9 451.7h0M404.5 451.7h0M386.2 456.3h0M390.8 456.3h0M395.4 456.3h0M399.9 456.3h0M386.2 460.8h0M390.8 460.8h0M395.4 460.8h0M390.8 465.4h0M368.0 474.5h0M372.6 474.5h0M377.1 474.5h0"/><path stroke="#d5e21a" d="M368.0 201.2h0M162.9 242.2h0M167.4 242.2h0M172.0 242.2h0M176.6 242.2h0M181.1 242.2h0M185.7 242.2h0M190.2 242.2h0M194.8 242.2h0M199.3 242.2h0M203.9 242.2h0M208.5 242.2h0M213.0 242.2h0M158.3 246.8h0M162.9 246.8h0M167.4 246.8h0M172.0 246.8h0M176.6 246.8h0M181.1 246.8h0M185.7 246.8h0M190.2 246.8h0M194.8 246.8h0M199.3 246.8h0M203.9 246.8h0M208.5 246.8h0M213.0 246.8h0M153.8 251.3h0M194.8 251.3h0M199.3 251.3h0M203.9 251.3h0M208.5 251.3h0M213.0 251.3h0M153.8 255.9h0M194.8 255.9h0M199.3 255.9h0M203.9 255.9h0M208.5 255.9h0M213.0 255.9h0M149.2 260.4h0M153.8 260.4h0M199.3 260.4h0M203.9 260.4h0M208.5 260.4h0M213.0 260.4h0M427.3 260.4h0M144.6 265.0h0M149.2 265.0h0M153.8 265.0h0M199.3 265.0h0M203.9 265.0h0M208.5 265.0h0M427.3 265.0h0M431.8 265.0h0M144.6 269.6h0M149.2 269.6h0M153.8 269.6h0M199.3 269.6h0M203.9 269.6h0M427.3 269.6h0M431.8 269.6h0M140.1 274.1h0M144.6 274.1h0M149.2 274.1h0M153.8 274.1h0M199.3 274.1h0M377.1 274.1h0M381.7 274.1h0M386.2 274.1h0M390.8 274.1h0M395.4 274.1h0M399.9 274.1h0M404.5 274.1h0M409.0 274.1h0M413.6 274.1h0M418.1 274.1h0M422.7 274.1h0M427.3 274.1h0M431.8 274.1h0M436.4 274.1h0M140.1 278.7h0M144.6 278.7h0M149.2 278.7h0M153.8 278.7h0M158.3 278.7h0M162.9 278.7h0M167.4 278.7h0M172.0 278.7h0M176.6 278.7h0M181.1 278.7h0M185.7 278.7h0M190.2 278.7h0M194.8 278.7h0M381.7 278.7h0M386.2 278.7h0M390.8 278.7h0M395.4 278.7h0M399.9 278.7h0M404.5 278.7h0M409.0 278.7h0M413.6 278.7h0M418.1 278.7h0M422.7 278.7h0M427.3 278.7h0M431.8 278.7h0M436.4 278.7h0M140.1 283.2h0M144.6 283.2h0M149.2 283.2h0M153.8 283.2h0M158.3 283.2h0M162.9 283.2h0M167.4 283.2h0M172.0 283.2h0M176.6 283.2h0M181.1 283.2h0M185.7 283.2h0M190.2 283.2h0M194.8 283.2h0M381.7 283.2h0M386.2 283.2h0M390.8 283.2h0M395.4 283.2h0M399.9 283.2h0M404.5 283.2h0M409.0 283.2h0M413.6 283.2h0M418.1 283.2h0M422.7 283.2h0M427.3 283.2h0M431.8 283.2h0M436.4 283.2h0M135.5 287.8h0M140.1 287.8h0M144.6 287.8h0M149.2 287.8h0M153.8 287.8h0M158.3 287.8h0M162.9 287.8h0M167.4 287.8h0M172.0 287.8h0M176.6 287.8h0M181.1 287.8h0M185.7 287.8h0M190.2 287.8h0M386.2 287.8h0M390.8 287.8h0M395.4 287.8h0M399.9 287.8h0M404.5 287.8h0M409.0 287.8h0M413.6 287.8h0M418.1 287.8h0M422.7 287.8h0M427.3 287.8h0M431.8 287.8h0M436.4 287.8h0M440.9 287.8h0M135.5 292.3h0M140.1 292.3h0M144.6 292.3h0M149.2 292.3h0M153.8 292.3h0M158.3 292.3h0M162.9 292.3h0M167.4 292.3h0M172.0 292.3h0M176.6 292.3h0M181.1 292.3h0M185.7 292.3h0M190.2 292.3h0M386.2 292.3h0M390.8 292.3h0M395.4 292.3h0M399.9 292.3h0M404.5 292.3h0M409.0 292.3h0M413.6 292.3h0M418.1 292.3h0M422.7 292.3h0M427.3 292.3h0M431.8 292.3h0M436.4 292.3h0M440.9 292.3h0M135.5 296.9h0M140.1 296.9h0M144.6 296.9h0M149.2 296.9h0M153.8 296.9h0M158.3 296.9h0M162.9 296.9h0M167.4 296.9h0M172.0 296.9h0M176.6 296.9h0M181.1 296.9h0M185.7 296.9h0M390.8 296.9h0M395.4 296.9h0M399.9 296.9h0M404.5 296.9h0M409.0 296.9h0M413.6 296.9h0M418.1 296.9h0M422.7 296.9h0M427.3 296.9h0M431.8 296.9h0M436.4 296.9h0M440.9 296.9h0M131.0 301.4h0M135.5 301.4h0M140.1 301.4h0M144.6 301.4h0M149.2 301.4h0M153.8 301.4h0M158.3 301.4h0M162.9 301.4h0M167.4 301.4h0M172.0 301.4h0M176.6 301.4h0M181.1 301.4h0M185.7 301.4h0M390.8 301.4h0M395.4 301.4h0M399.9 301.4h0M404.5 301.4h0M409.0 301.4h0M413.6 301.4h0M418.1 301.4h0M422.7 301.4h0M427.3 301.4h0M431.8 301.4h0M436.4 301.4h0M440.9 301.4h0M445.5 301.4h0M131.0 306.0h0M135.5 306.0h0M140.1 306.0h0M144.6 306.0h0M149.2 306.0h0M153.8 306.0h0M158.3 306.0h0M162.9 306.0h0M167.4 306.0h0M172.0 306.0h0M176.6 306.0h0M181.1 306.0h0M395.4 306.0h0M399.9 306.0h0M404.5 306.0h0M409.0 306.0h0M413.6 306.0h0M418.1 306.0h0M422.7 306.0h0M427.3 306.0h0M431.8 306.0h0M436.4 306.0h0M440.9 306.0h0M445.5 306.0h0M131.0 310.5h0M135.5 310.5h0M140.1 310.5h0M144.6 310.5h0M149.2 310.5h0M153.8 310.5h0M158.3 310.5h0M162.9 310.5h0M167.4 310.5h0M172.0 310.5h0M176.6 310.5h0M181.1 310.5h0M395.4 310.5h0M399.9 310.5h0M404.5 310.5h0M409.0 310.5h0M413.6 310.5h0M418.1 310.5h0M422.7 310.5h0M427.3 310.5h0M431.8 310.5h0M436.4 310.5h0M440.9 310.5h0M445.5 310.5h0M131.0 315.1h0M135.5 315.1h0M140.1 315.1h0M144.6 315.1h0M149.2 315.1h0M153.8 315.1h0M158.3 315.1h0M162.9 315.1h0M167.4 315.1h0M172.0 315.1h0M176.6 315.1h0M181.1 315.1h0M395.4 315.1h0M399.9 315.1h0M404.5 315.1h0M409.0 315.1h0M413.6 315.1h0M418.1 315.1h0M422.7 315.1h0M427.3 315.1h0M431.8 315.1h0M436.4 315.1h0M440.9 315.1h0M445.5 315.1h0M131.0 319.7h0M135.5 319.7h0M140.1 319.7h0M144.6 319.7h0M149.2 319.7h0M153.8 319.7h0M158.3 319.7h0M162.9 319.7h0M167.4 319.7h0M172.0 319.7h0M176.6 319.7h0M181.1 319.7h0M395.4 319.7h0M399.9 319.7h0M404.5 319.7h0M409.0 319.7h0M413.6 319.7h0M418.1 319.7h0M422.7 319.7h0M427.3 319.7h0M431.8 319.7h0M436.4 319.7h0M440.9 319.7h0M445.5 319.7h0M131.0 324.2h0M135.5 324.2h0M140.1 324.2h0M144.6 324.2h0M149.2 324.2h0M153.8 324.2h0M158.3 324.2h0M162.9 324.2h0M167.4 324.2h0M172.0 324.2h0M176.6 324.2h0M399.9 324.2h0M404.5 324.2h0M409.0 324.2h0M413.6 324.2h0M418.1 324.2h0M422.7 324.2h0M427.3 324.2h0M431.8 324.2h0M436.4 324.2h0M440.9 324.2h0M445.5 324.2h0M126.4 328.8h0M131.0 328.8h0M135.5 328.8h0M140.1 328.8h0M144.6 328.8h0M149.2 328.8h0M153.8 328.8h0M158.3 328.8h0M162.9 328.8h0M167.4 328.8h0M172.0 328.8h0M176.6 328.8h0M399.9 328.8h0M404.5 328.8h0M409.0 328.8h0M413.6 328.8h0M418.1 328.8h0M422.7 328.8h0M427.3 328.8h0M431.8 328.8h0M436.4 328.8h0M440.9 328.8h0M445.5 328.8h0M450.1 328.8h0M126.4 333.3h0M131.0 333.3h0M135.5 333.3h0M140.1 333.3h0M144.6 333.3h0M149.2 333.3h0M153.8 333.3h0M158.3 333.3h0M162.9 333.3h0M167.4 333.3h0M172.0 333.3h0M176.6 333.3h0M399.9 333.3h0M404.5 333.3h0M409.0 333.3h0M413.6 333.3h0M418.1 333.3h0M422.7 333.3h0M427.3 333.3h0M431.8 333.3h0M436.4 333.3h0M440.9 333.3h0M445.5 333.3h0M450.1 333.3h0M126.4 337.9h0M131.0 337.9h0M135.5 337.9h0M140.1 337.9h0M144.6 337.9h0M149.2 337.9h0M153.8 337.9h0M158.3 337.9h0M162.9 337.9h0M167.4 337.9h0M172.0 337.9h0M176.6 337.9h0M399.9 337.9h0M404.5 337.9h0M409.0 337.9h0M413.6 337.9h0M418.1 337.9h0M422.7 337.9h0M427.3 337.9h0M431.8 337.9h0M436.4 337.9h0M440.9 337.9h0M445.5 337.9h0M450.1 337.9h0M126.4 342.4h0M131.0 342.4h0M135.5 342.4h0M140.1 342.4h0M144.6 342.4h0M149.2 342.4h0M153.8 342.4h0M158.3 342.4h0M162.9 342.4h0M167.4 342.4h0M172.0 342.4h0M176.6 342.4h0M399.9 342.4h0M404.5 342.4h0M409.0 342.4h0M413.6 342.4h0M418.1 342.4h0M422.7 342.4h0M427.3 342.4h0M431.8 342.4h0M436.4 342.4h0M440.9 342.4h0M445.5 342.4h0M450.1 342.4h0M126.4 347.0h0M131.0 347.0h0M135.5 347.0h0M140.1 347.0h0M144.6 347.0h0M149.2 347.0h0M153.8 347.0h0M158.3 347.0h0M162.9 347.0h0M167.4 347.0h0M172.0 347.0h0M176.6 347.0h0M399.9 347.0h0M404.5 347.0h0M409.0 347.0h0M413.6 347.0h0M418.1 347.0h0M422.7 347.0h0M427.3 347.0h0M431.8 347.0h0M436.4 347.0h0M440.9 347.0h0M445.5 347.0h0M450.1 347.0h0M126.4 351.5h0M131.0 351.5h0M135.5 351.5h0M140.1 351.5h0M144.6 351.5h0M149.2 351.5h0M153.8 351.5h0M158.3 351.5h0M162.9 351.5h0M167.4 351.5h0M172.0 351.5h0M176.6 351.5h0M399.9 351.5h0M404.5 351.5h0M409.0 351.5h0M413.6 351.5h0M418.1 351.5h0M422.7 351.5h0M427.3 351.5h0M431.8 351.5h0M436.4 351.5h0M440.9 351.5h0M445.5 351.5h0M450.1 351.5h0M131.0 356.1h0M135.5 356.1h0M140.1 356.1h0M144.6 356.1h0M149.2 356.1h0M153.8 356.1h0M158.3 356.1h0M162.9 356.1h0M167.4 356.1h0M172.0 356.1h0M176.6 356.1h0M399.9 356.1h0M404.5 356.1h0M409.0 356.1h0M413.6 356.1h0M418.1 356.1h0M422.7 356.1h0M427.3 356.1h0M431.8 356.1h0M436.4 356.1h0M440.9 356.1h0M445.5 356.1h0M131.0 360.6h0M135.5 360.6h0M140.1 360.6h0M144.6 360.6h0M149.2 360.6h0M153.8 360.6h0M158.3 360.6h0M162.9 360.6h0M167.4 360.6h0M172.0 360.6h0M176.6 360.6h0M181.1 360.6h0M395.4 360.6h0M399.9 360.6h0M404.5 360.6h0M409.0 360.6h0M413.6 360.6h0M418.1 360.6h0M422.7 360.6h0M427.3 360.6h0M431.8 360.6h0M436.4 360.6h0M440.9 360.6h0M445.5 360.6h0M131.0 365.2h0M135.5 365.2h0M140.1 365.2h0M144.6 365.2h0M149.2 365.2h0M153.8 365.2h0M158.3 365.2h0M162.9 365.2h0M167.4 365.2h0M172.0 365.2h0M176.6 365.2h0M181.1 365.2h0M395.4 365.2h0M399.9 365.2h0M404.5 365.2h0M409.0 365.2h0M413.6 365.2h0M418.1 365.2h0M422.7 365.2h0M427.3 365.2h0M431.8 365.2h0M436.4 365.2h0M440.9 365.2h0M445.5 365.2h0M131.0 369.8h0M135.5 369.8h0M140.1 369.8h0M144.6 369.8h0M149.2 369.8h0M153.8 369.8h0M158.3 369.8h0M162.9 369.8h0M167.4 369.8h0M172.0 369.8h0M176.6 369.8h0M181.1 369.8h0M395.4 369.8h0M399.9 369.8h0M404.5 369.8h0M409.0 369.8h0M413.6 369.8h0M418.1 369.8h0M422.7 369.8h0M427.3 369.8h0M431.8 369.8h0M436.4 369.8h0M440.9 369.8h0M445.5 369.8h0M131.0 374.3h0M135.5 374.3h0M140.1 374.3h0M144.6 374.3h0M149.2 374.3h0M153.8 374.3h0M158.3 374.3h0M162.9 374.3h0M167.4 374.3h0M172.0 374.3h0M176.6 374.3h0M181.1 374.3h0M395.4 374.3h0M399.9 374.3h0M404.5 374.3h0M409.0 374.3h0M413.6 374.3h0M418.1 374.3h0M422.7 374.3h0M427.3 374.3h0M431.8 374.3h0M436.4 374.3h0M440.9 374.3h0M445.5 374.3h0M131.0 378.9h0M135.5 378.9h0M140.1 378.9h0M144.6 378.9h0M149.2 378.9h0M153.8 378.9h0M158.3 378.9h0M162.9 378.9h0M167.4 378.9h0M172.0 378.9h0M176.6 378.9h0M181.1 378.9h0M185.7 378.9h0M390.8 378.9h0M395.4 378.9h0M399.9 378.9h0M404.5 378.9h0M409.0 378.9h0M413.6 378.9h0M418.1 378.9h0M422.7 378.9h0M427.3 378.9h0M431.8 378.9h0M436.4 378.9h0M440.9 378.9h0M445.5 378.9h0M135.5 383.4h0M140.1 383.4h0M144.6 383.4h0M149.2 383.4h0M153.8 383.4h0M158.3 383.4h0M162.9 383.4h0M167.4 383.4h0M172.0 383.4h0M176.6 383.4h0M181.1 383.4h0M185.7 383.4h0M390.8 383.4h0M395.4 383.4h0M399.9 383.4h0M404.5 383.4h0M409.0 383.4h0M413.6 383.4h0M418.1 383.4h0M422.7 383.4h0M427.3 383.4h0M431.8 383.4h0M436.4 383.4h0M440.9 383.4h0M135.5 388.0h0M140.1 388.0h0M144.6 388.0h0M149.2 388.0h0M153.8 388.0h0M158.3 388.0h0M162.9 388.0h0M167.4 388.0h0M172.0 388.0h0M176.6 388.0h0M181.1 388.0h0M185.7 388.0h0M190.2 388.0h0M386.2 388.0h0M390.8 388.0h0M395.4 388.0h0M399.9 388.0h0M404.5 388.0h0M409.0 388.0h0M413.6 388.0h0M418.1 388.0h0M422.7 388.0h0M427.3 388.0h0M431.8 388.0h0M436.4 388.0h0M440.9 388.0h0M135.5 392.5h0M140.1 392.5h0M144.6 392.5h0M149.2 392.5h0M153.8 392.5h0M158.3 392.5h0M162.9 392.5h0M167.4 392.5h0M172.0 392.5h0M176.6 392.5h0M181.1 392.5h0M185.7 392.5h0M190.2 392.5h0M386.2 392.5h0M390.8 392.5h0M399.9 392.5h0M404.5 392.5h0M409.0 392.5h0M413.6 392.5h0M418.1 392.5h0M422.7 392.5h0M427.3 392.5h0M431.8 392.5h0M436.4 392.5h0M440.9 392.5h0M381.7 397.1h0M386.2 397.1h0M390.8 397.1h0M409.0 397.1h0M413.6 397.1h0M418.1 397.1h0M422.7 397.1h0M427.3 397.1h0M431.8 397.1h0M436.4 397.1h0M203.9 433.5h0M208.5 433.5h0M213.0 433.5h0M203.9 438.1h0M208.5 438.1h0M213.0 438.1h0M203.9 442.6h0M208.5 442.6h0M213.0 442.6h0"/><path stroke="#e5e419" d="M290.5 205.8h0M295.1 205.8h0M299.6 205.8h0M304.2 205.8h0M308.7 205.8h0M313.3 205.8h0M317.9 205.8h0M322.4 205.8h0M327.0 205.8h0M331.5 205.8h0M336.1 205.8h0M340.7 205.8h0M363.4 205.8h0M368.0 205.8h0M372.6 205.8h0M377.1 205.8h0M290.5 210.3h0M295.1 210.3h0M299.6 210.3h0M304.2 210.3h0M308.7 210.3h0M313.3 210.3h0M317.9 210.3h0M322.4 210.3h0M327.0 210.3h0M331.5 210.3h0M336.1 210.3h0M340.7 210.3h0M345.2 210.3h0M358.9 210.3h0M363.4 210.3h0M368.0 210.3h0M372.6 210.3h0M377.1 210.3h0M381.7 210.3h0M290.5 214.9h0M295.1 214.9h0M299.6 214.9h0M304.2 214.9h0M308.7 214.9h0M313.3 214.9h0M317.9 214.9h0M322.4 214.9h0M327.0 214.9h0M331.5 214.9h0M336.1 214.9h0M340.7 214.9h0M345.2 214.9h0M349.8 214.9h0M354.3 214.9h0M358.9 214.9h0M363.4 214.9h0M368.0 214.9h0M372.6 214.9h0M377.1 214.9h0M381.7 214.9h0M386.2 214.9h0M390.8 214.9h0M290.5 219.5h0M295.1 219.5h0M299.6 219.5h0M304.2 219.5h0M308.7 219.5h0M313.3 219.5h0M317.9 219.5h0M322.4 219.5h0M327.0 219.5h0M331.5 219.5h0M336.1 219.5h0M340.7 219.5h0M345.2 219.5h0M349.8 219.5h0M354.3 219.5h0M358.9 219.5h0M363.4 219.5h0M368.0 219.5h0M372.6 219.5h0M377.1 219.5h0M381.7 219.5h0M386.2 219.5h0M390.8 219.5h0M395.4 219.5h0M290.5 224.0h0M295.1 224.0h0M299.6 224.0h0M304.2 224.0h0M308.7 224.0h0M313.3 224.0h0M317.9 224.0h0M322.4 224.0h0M327.0 224.0h0M331.5 224.0h0M336.1 224.0h0M340.7 224.0h0M345.2 224.0h0M349.8 224.0h0M354.3 224.0h0M358.9 224.0h0M363.4 224.0h0M368.0 224.0h0M372.6 224.0h0M377.1 224.0h0M381.7 224.0h0M386.2 224.0h0M390.8 224.0h0M395.4 224.0h0M399.9 224.0h0M290.5 228.6h0M295.1 228.6h0M299.6 228.6h0M304.2 228.6h0M308.7 228.6h0M313.3 228.6h0M317.9 228.6h0M322.4 228.6h0M327.0 228.6h0M331.5 228.6h0M336.1 228.6h0M340.7 228.6h0M345.2 228.6h0M349.8 228.6h0M354.3 228.6h0M358.9 228.6h0M363.4 228.6h0M368.0 228.6h0M372.6 228.6h0M377.1 228.6h0M381.7 228.6h0M386.2 228.6h0M390.8 228.6h0M395.4 228.6h0M399.9 228.6h0M404.5 228.6h0M308.7 233.1h0M313.3 233.1h0M317.9 233.1h0M322.4 233.1h0M327.0 233.1h0M331.5 233.1h0M336.1 233.1h0M340.7 233.1h0M345.2 233.1h0M349.8 233.1h0M354.3 233.1h0M358.9 233.1h0M363.4 233.1h0M368.0 233.1h0M372.6 233.1h0M377.1 233.1h0M381.7 233.1h0M386.2 233.1h0M390.8 233.1h0M395.4 233.1h0M399.9 233.1h0M404.5 233.1h0M409.0 233.1h0M327.0 237.7h0M331.5 237.7h0M336.1 237.7h0M340.7 237.7h0M345.2 237.7h0M349.8 237.7h0M354.3 237.7h0M358.9 237.7h0M363.4 237.7h0M368.0 237.7h0M372.6 237.7h0M377.1 237.7h0M381.7 237.7h0M386.2 237.7h0M390.8 237.7h0M395.4 237.7h0M399.9 237.7h0M404.5 237.7h0M409.0 237.7h0M413.6 237.7h0M336.1 242.2h0M340.7 242.2h0M345.2 242.2h0M349.8 242.2h0M354.3 242.2h0M358.9 242.2h0M363.4 242.2h0M368.0 242.2h0M372.6 242.2h0M377.1 242.2h0M381.7 242.2h0M386.2 242.2h0M390.8 242.2h0M395.4 242.2h0M399.9 242.2h0M404.5 242.2h0M409.0 242.2h0M413.6 242.2h0M345.2 246.8h0M349.8 246.8h0M354.3 246.8h0M358.9 246.8h0M363.4 246.8h0M368.0 246.8h0M372.6 246.8h0M377.1 246.8h0M381.7 246.8h0M386.2 246.8h0M390.8 246.8h0M395.4 246.8h0M399.9 246.8h0M404.5 246.8h0M409.0 246.8h0M413.6 246.8h0M418.1 246.8h0M354.3 251.3h0M358.9 251.3h0M363.4 251.3h0M368.0 251.3h0M372.6 251.3h0M377.1 251.3h0M381.7 251.3h0M386.2 251.3h0M390.8 251.3h0M395.4 251.3h0M399.9 251.3h0M404.5 251.3h0M409.0 251.3h0M413.6 251.3h0M418.1 251.3h0M422.7 251.3h0M358.9 255.9h0M363.4 255.9h0M368.0 255.9h0M372.6 255.9h0M377.1 255.9h0M381.7 255.9h0M386.2 255.9h0M390.8 255.9h0M395.4 255.9h0M399.9 255.9h0M404.5 255.9h0M409.0 255.9h0M413.6 255.9h0M418.1 255.9h0M422.7 255.9h0M363.4 260.4h0M368.0 260.4h0M372.6 260.4h0M377.1 260.4h0M381.7 260.4h0M386.2 260.4h0M390.8 260.4h0M395.4 260.4h0M399.9 260.4h0M404.5 260.4h0M409.0 260.4h0M413.6 260.4h0M418.1 260.4h0M422.7 260.4h0M368.0 265.0h0M372.6 265.0h0M377.1 265.0h0M381.7 265.0h0M386.2 265.0h0M390.8 265.0h0M395.4 265.0h0M399.9 265.0h0M404.5 265.0h0M409.0 265.0h0M413.6 265.0h0M418.1 265.0h0M422.7 265.0h0M372.6 269.6h0M377.1 269.6h0M381.7 269.6h0M386.2 269.6h0M390.8 269.6h0M395.4 269.6h0M399.9 269.6h0M404.5 269.6h0M409.0 269.6h0M413.6 269.6h0M418.1 269.6h0M422.7 269.6h0M217.6 433.5h0M222.1 433.5h0M226.7 433.5h0M231.3 433.5h0M217.6 438.1h0M222.1 438.1h0M226.7 438.1h0M231.3 438.1h0M235.8 438.1h0M217.6 442.6h0M222.1 442.6h0M226.7 442.6h0M231.3 442.6h0M235.8 442.6h0M240.4 442.6h0M199.3 447.2h0M203.9 447.2h0M208.5 447.2h0M213.0 447.2h0M217.6 447.2h0M222.1 447.2h0M226.7 447.2h0M231.3 447.2h0M235.8 447.2h0M199.3 451.7h0M203.9 451.7h0M208.5 451.7h0M213.0 451.7h0M217.6 451.7h0M222.1 451.7h0M226.7 451.7h0M231.3 451.7h0M235.8 451.7h0M199.3 456.3h0M203.9 456.3h0M208.5 456.3h0M213.0 456.3h0M217.6 456.3h0M222.1 456.3h0M226.7 456.3h0M231.3 456.3h0M235.8 456.3h0M203.9 460.8h0M208.5 460.8h0M213.0 460.8h0M217.6 460.8h0M222.1 460.8h0M226.7 460.8h0M231.3 460.8h0M235.8 460.8h0M203.9 465.4h0M208.5 465.4h0M213.0 465.4h0M217.6 465.4h0M222.1 465.4h0M226.7 465.4h0M231.3 465.4h0M235.8 465.4h0M203.9 470.0h0M208.5 470.0h0M213.0 470.0h0M217.6 470.0h0M222.1 470.0h0M226.7 470.0h0M231.3 470.0h0M235.8 470.0h0M199.3 474.5h0M203.9 474.5h0M208.5 474.5h0M213.0 474.5h0M217.6 474.5h0M222.1 474.5h0M226.7 474.5h0M231.3 474.5h0M235.8 474.5h0"/><path stroke="#471063" d="M486.5 205.8h0M491.1 205.8h0M495.6 205.8h0M500.2 205.8h0M504.8 205.8h0M509.3 205.8h0M513.9 205.8h0M486.5 210.3h0M491.1 210.3h0M495.6 210.3h0M500.2 210.3h0M504.8 210.3h0M509.3 210.3h0M513.9 210.3h0M486.5 214.9h0M491.1 214.9h0M495.6 214.9h0M500.2 214.9h0M504.8 214.9h0M509.3 214.9h0M513.9 214.9h0M486.5 219.5h0M491.1 219.5h0M495.6 219.5h0M500.2 219.5h0M504.8 219.5h0M509.3 219.5h0M513.9 219.5h0M486.5 224.0h0M491.1 224.0h0M495.6 224.0h0M500.2 224.0h0M504.8 224.0h0M509.3 224.0h0M513.9 224.0h0M486.5 228.6h0M491.1 228.6h0M495.6 228.6h0M500.2 228.6h0M504.8 228.6h0M509.3 228.6h0M513.9 228.6h0M486.5 233.1h0M491.1 233.1h0M495.6 233.1h0M500.2 233.1h0M504.8 233.1h0M509.3 233.1h0M513.9 233.1h0M235.8 246.8h0M240.4 269.6h0M121.9 319.7h0M126.4 319.7h0M121.9 324.2h0M126.4 324.2h0M117.3 328.8h0M121.9 328.8h0M117.3 333.3h0M121.9 333.3h0M112.7 337.9h0M117.3 337.9h0M121.9 337.9h0M112.7 342.4h0M117.3 342.4h0M121.9 342.4h0M108.2 347.0h0M112.7 347.0h0M117.3 347.0h0M121.9 347.0h0M112.7 351.5h0M117.3 351.5h0M121.9 351.5h0M112.7 356.1h0M117.3 356.1h0M121.9 356.1h0M126.4 356.1h0M112.7 360.6h0M117.3 360.6h0M121.9 360.6h0M126.4 360.6h0M267.7 360.6h0M272.3 360.6h0M276.8 360.6h0M281.4 360.6h0M286.0 360.6h0M290.5 360.6h0M295.1 360.6h0M299.6 360.6h0M304.2 360.6h0M308.7 360.6h0M313.3 360.6h0M317.9 360.6h0M322.4 360.6h0M327.0 360.6h0M331.5 360.6h0M336.1 360.6h0M340.7 360.6h0M345.2 360.6h0M349.8 360.6h0M354.3 360.6h0M358.9 360.6h0M121.9 365.2h0M126.4 365.2h0M267.7 365.2h0M272.3 365.2h0M276.8 365.2h0M281.4 365.2h0M286.0 365.2h0M290.5 365.2h0M295.1 365.2h0M299.6 365.2h0M304.2 365.2h0M308.7 365.2h0M313.3 365.2h0M317.9 365.2h0M322.4 365.2h0M327.0 365.2h0M331.5 365.2h0M336.1 365.2h0M340.7 365.2h0M345.2 365.2h0M349.8 365.2h0M354.3 365.2h0M358.9 365.2h0M126.4 369.8h0M267.7 369.8h0M272.3 369.8h0M276.8 369.8h0M281.4 369.8h0M286.0 369.8h0M290.5 369.8h0M295.1 369.8h0M299.6 369.8h0M304.2 369.8h0M308.7 369.8h0M313.3 369.8h0M317.9 369.8h0M322.4 369.8h0M327.0 369.8h0M331.5 369.8h0M336.1 369.8h0M340.7 369.8h0M345.2 369.8h0M349.8 369.8h0M354.3 369.8h0M358.9 369.8h0M267.7 374.3h0M272.3 374.3h0M276.8 374.3h0M281.4 374.3h0M286.0 374.3h0M290.5 374.3h0M295.1 374.3h0M299.6 374.3h0M304.2 374.3h0M308.7 374.3h0M313.3 374.3h0M317.9 374.3h0M322.4 374.3h0M327.0 374.3h0M331.5 374.3h0M336.1 374.3h0M340.7 374.3h0M345.2 374.3h0M349.8 374.3h0M354.3 374.3h0M358.9 374.3h0M267.7 378.9h0M272.3 378.9h0M276.8 378.9h0M281.4 378.9h0M286.0 378.9h0M290.5 378.9h0M295.1 378.9h0M299.6 378.9h0M304.2 378.9h0M308.7 378.9h0M313.3 378.9h0M317.9 378.9h0M322.4 378.9h0M327.0 378.9h0M331.5 378.9h0M336.1 378.9h0M340.7 378.9h0M345.2 378.9h0M349.8 378.9h0M354.3 378.9h0M358.9 378.9h0M131.0 383.4h0M267.7 383.4h0M272.3 383.4h0M276.8 383.4h0M281.4 383.4h0M286.0 383.4h0M290.5 383.4h0M295.1 383.4h0M299.6 383.4h0M304.2 383.4h0M308.7 383.4h0M313.3 383.4h0M317.9 383.4h0M322.4 383.4h0M327.0 383.4h0M331.5 383.4h0M336.1 383.4h0M340.7 383.4h0M345.2 383.4h0M349.8 383.4h0M354.3 383.4h0M358.9 383.4h0M267.7 388.0h0M272.3 388.0h0M276.8 388.0h0M281.4 388.0h0M286.0 388.0h0M290.5 388.0h0M295.1 388.0h0M299.6 388.0h0M304.2 388.0h0M308.7 388.0h0M313.3 388.0h0M317.9 388.0h0M322.4 388.0h0M327.0 388.0h0M331.5 388.0h0M336.1 388.0h0M340.7 388.0h0M345.2 388.0h0M349.8 388.0h0M354.3 388.0h0M267.7 392.5h0M272.3 392.5h0M276.8 392.5h0M281.4 392.5h0M286.0 392.5h0M290.5 392.5h0M295.1 392.5h0M299.6 392.5h0M304.2 392.5h0M308.7 392.5h0M313.3 392.5h0M317.9 392.5h0M322.4 392.5h0M327.0 392.5h0M331.5 392.5h0M336.1 392.5h0M340.7 392.5h0M345.2 392.5h0M349.8 392.5h0M354.3 392.5h0M267.7 397.1h0M272.3 397.1h0M276.8 397.1h0M281.4 397.1h0M286.0 397.1h0M290.5 397.1h0M295.1 397.1h0M299.6 397.1h0M304.2 397.1h0M308.7 397.1h0M313.3 397.1h0M317.9 397.1h0M322.4 397.1h0M327.0 397.1h0M331.5 397.1h0M336.1 397.1h0M340.7 397.1h0M345.2 397.1h0M349.8 397.1h0M354.3 397.1h0M199.3 401.6h0M203.9 401.6h0M235.8 401.6h0M240.4 401.6h0M336.1 401.6h0M340.7 401.6h0M345.2 401.6h0M349.8 401.6h0M336.1 406.2h0M340.7 406.2h0M336.1 410.7h0M240.4 424.4h0M240.4 429.0h0M235.8 433.5h0M240.4 433.5h0"/><path stroke="#355e8d" d="M491.1 301.4h0M482.0 306.0h0M486.5 306.0h0M491.1 306.0h0M495.6 306.0h0M477.4 310.5h0M482.0 310.5h0M486.5 310.5h0M491.1 310.5h0M495.6 310.5h0M500.2 310.5h0M468.3 315.1h0M472.8 315.1h0M477.4 315.1h0M482.0 315.1h0M486.5 315.1h0M491.1 315.1h0M495.6 315.1h0M500.2 315.1h0M504.8 315.1h0M463.7 319.7h0M468.3 319.7h0M472.8 319.7h0M477.4 319.7h0M482.0 319.7h0M486.5 319.7h0M491.1 319.7h0M495.6 319.7h0M500.2 319.7h0M504.8 319.7h0M468.3 324.2h0M472.8 324.2h0M477.4 324.2h0M482.0 324.2h0M486.5 324.2h0M491.1 324.2h0M495.6 324.2h0M500.2 324.2h0M504.8 324.2h0M468.3 328.8h0M472.8 328.8h0M477.4 328.8h0M482.0 328.8h0M486.5 328.8h0M491.1 328.8h0M495.6 328.8h0M500.2 328.8h0M504.8 328.8h0M468.3 333.3h0M472.8 333.3h0M477.4 333.3h0M482.0 333.3h0M486.5 333.3h0M491.1 333.3h0M495.6 333.3h0M500.2 333.3h0M504.8 333.3h0M468.3 337.9h0M472.8 337.9h0M477.4 337.9h0M482.0 337.9h0M486.5 337.9h0M491.1 337.9h0M495.6 337.9h0M500.2 337.9h0M504.8 337.9h0M468.3 342.4h0M472.8 342.4h0M477.4 342.4h0M482.0 342.4h0M486.5 342.4h0M491.1 342.4h0M495.6 342.4h0M500.2 342.4h0M504.8 342.4h0M80.8 347.0h0M85.4 347.0h0M89.9 347.0h0M94.5 347.0h0M99.1 347.0h0M103.6 347.0h0M468.3 347.0h0M472.8 347.0h0M477.4 347.0h0M482.0 347.0h0M486.5 347.0h0M491.1 347.0h0M495.6 347.0h0M500.2 347.0h0M504.8 347.0h0M76.3 351.5h0M80.8 351.5h0M85.4 351.5h0M89.9 351.5h0M94.5 351.5h0M99.1 351.5h0M103.6 351.5h0M108.2 351.5h0M463.7 351.5h0M468.3 351.5h0M472.8 351.5h0M477.4 351.5h0M482.0 351.5h0M486.5 351.5h0M491.1 351.5h0M495.6 351.5h0M500.2 351.5h0M504.8 351.5h0M71.7 356.1h0M76.3 356.1h0M80.8 356.1h0M85.4 356.1h0M89.9 356.1h0M94.5 356.1h0M99.1 356.1h0M103.6 356.1h0M108.2 356.1h0M463.7 356.1h0M468.3 356.1h0M472.8 356.1h0M477.4 356.1h0M482.0 356.1h0M486.5 356.1h0M491.1 356.1h0M495.6 356.1h0M500.2 356.1h0M504.8 356.1h0M71.7 360.6h0M76.3 360.6h0M80.8 360.6h0M85.4 360.6h0M89.9 360.6h0M94.5 360.6h0M99.1 360.6h0M103.6 360.6h0M108.2 360.6h0M459.2 360.6h0M463.7 360.6h0M468.3 360.6h0M472.8 360.6h0M477.4 360.6h0M482.0 360.6h0M486.5 360.6h0M491.1 360.6h0M495.6 360.6h0M500.2 360.6h0M504.8 360.6h0M71.7 365.2h0M76.3 365.2h0M80.8 365.2h0M85.4 365.2h0M89.9 365.2h0M94.5 365.2h0M99.1 365.2h0M103.6 365.2h0M477.4 365.2h0M482.0 365.2h0M486.5 365.2h0M491.1 365.2h0M495.6 365.2h0M76.3 369.8h0M80.8 369.8h0M85.4 369.8h0M89.9 369.8h0M94.5 369.8h0M99.1 369.8h0M482.0 369.8h0M486.5 369.8h0M491.1 369.8h0M495.6 369.8h0M80.8 374.3h0M85.4 374.3h0M89.9 374.3h0M94.5 374.3h0M491.1 374.3h0M85.4 378.9h0M486.5 397.1h0M491.1 397.1h0M80.8 401.6h0M85.4 401.6h0M89.9 401.6h0M94.5 401.6h0M99.1 401.6h0M103.6 401.6h0M477.4 401.6h0M482.0 401.6h0M486.5 401.6h0M491.1 401.6h0M495.6 401.6h0M76.3 406.2h0M80.8 406.2h0M85.4 406.2h0M89.9 406.2h0M94.5 406.2h0M99.1 406.2h0M103.6 406.2h0M108.2 406.2h0M112.7 406.2h0M463.7 406.2h0M468.3 406.2h0M472.8 406.2h0M477.4 406.2h0M482.0 406.2h0M486.5 406.2h0M491.1 406.2h0M495.6 406.2h0M500.2 406.2h0M76.3 410.7h0M80.8 410.7h0M85.4 410.7h0M89.9 410.7h0M94.5 410.7h0M99.1 410.7h0M103.6 410.7h0M108.2 410.7h0M463.7 410.7h0M468.3 410.7h0M472.8 410.7h0M477.4 410.7h0M482.0 410.7h0M486.5 410.7h0M491.1 410.7h0M495.6 410.7h0M500.2 410.7h0M76.3 415.3h0M80.8 415.3h0M85.4 415.3h0M89.9 415.3h0M94.5 415.3h0M99.1 415.3h0M103.6 415.3h0M108.2 415.3h0M463.7 415.3h0M468.3 415.3h0M472.8 415.3h0M477.4 415.3h0M482.0 415.3h0M486.5 415.3h0M491.1 415.3h0M495.6 415.3h0M500.2 415.3h0M80.8 419.9h0M85.4 419.9h0M89.9 419.9h0M94.5 419.9h0M99.1 419.9h0M103.6 419.9h0M108.2 419.9h0M463.7 419.9h0M468.3 419.9h0M472.8 419.9h0M477.4 419.9h0M482.0 419.9h0M486.5 419.9h0M491.1 419.9h0M495.6 419.9h0M500.2 419.9h0M80.8 424.4h0M85.4 424.4h0M89.9 424.4h0M94.5 424.4h0M99.1 424.4h0M103.6 424.4h0M108.2 424.4h0M463.7 424.4h0M468.3 424.4h0M472.8 424.4h0M477.4 424.4h0M482.0 424.4h0M486.5 424.4h0M491.1 424.4h0M495.6 424.4h0M500.2 424.4h0M85.4 429.0h0M89.9 429.0h0M94.5 429.0h0M99.1 429.0h0M103.6 429.0h0M108.2 429.0h0M463.7 429.0h0M468.3 429.0h0M472.8 429.0h0M477.4 429.0h0M482.0 429.0h0M486.5 429.0h0M491.1 429.0h0M495.6 429.0h0M85.4 433.5h0M89.9 433.5h0M94.5 433.5h0M99.1 433.5h0M486.5 433.5h0M491.1 433.5h0M304.2 501.8h0M308.7 501.8h0M313.3 501.8h0M317.9 501.8h0M322.4 501.8h0M327.0 501.8h0"/></g>
<rect x="40.50" y="32.50" width="495.90" height="615.70" fill="none" stroke="#000" stroke-width="1.1"/>
<rect x="567.50" y="32.50" width="31.00" height="615.80" fill="url(#cb)" stroke="#000" stroke-width="1.1"/>
<g stroke="#000" stroke-width="1.1"><line x1="108.40" y1="648.20" x2="108.40" y2="653.06"/><line x1="198.45" y1="648.20" x2="198.45" y2="653.06"/><line x1="288.50" y1="648.20" x2="288.50" y2="653.06"/><line x1="378.95" y1="648.20" x2="378.95" y2="653.06"/><line x1="469.40" y1="648.20" x2="469.40" y2="653.06"/><line x1="35.64" y1="70.45" x2="40.50" y2="70.45"/><line x1="35.64" y1="160.40" x2="40.50" y2="160.40"/><line x1="35.64" y1="250.50" x2="40.50" y2="250.50"/><line x1="35.64" y1="340.45" x2="40.50" y2="340.45"/><line x1="35.64" y1="430.40" x2="40.50" y2="430.40"/><line x1="35.64" y1="520.80" x2="40.50" y2="520.80"/><line x1="35.64" y1="611.40" x2="40.50" y2="611.40"/><line x1="598.50" y1="86.40" x2="603.36" y2="86.40"/><line x1="598.50" y1="219.40" x2="603.36" y2="219.40"/><line x1="598.50" y1="352.50" x2="603.36" y2="352.50"/><line x1="598.50" y1="485.40" x2="603.36" y2="485.40"/><line x1="598.50" y1="618.40" x2="603.36" y2="618.40"/></g>
<g font-size="13.89" fill="#000"><text x="107.90" y="668.6" text-anchor="middle" textLength="18.6" lengthAdjust="spacingAndGlyphs">−4</text><text x="197.95" y="668.6" text-anchor="middle" textLength="18.6" lengthAdjust="spacingAndGlyphs">−2</text><text x="288.50" y="668.6" text-anchor="middle">0</text><text x="378.95" y="668.6" text-anchor="middle">2</text><text x="469.40" y="668.6" text-anchor="middle">4</text><text x="30.6" y="75.35" text-anchor="end">6</text><text x="30.6" y="165.30" text-anchor="end">4</text><text x="30.6" y="255.40" text-anchor="end">2</text><text x="30.6" y="345.35" text-anchor="end">0</text><text x="29.3" y="435.30" text-anchor="end" textLength="18.3" lengthAdjust="spacingAndGlyphs">−2</text><text x="29.3" y="525.70" text-anchor="end" textLength="18.3" lengthAdjust="spacingAndGlyphs">−4</text><text x="29.3" y="616.30" text-anchor="end" textLength="18.3" lengthAdjust="spacingAndGlyphs">−6</text><text x="608.9" y="91.00" textLength="20.6" lengthAdjust="spacingAndGlyphs">1.0</text><text x="608.9" y="224.00" textLength="20.6" lengthAdjust="spacingAndGlyphs">0.8</text><text x="608.9" y="357.10" textLength="20.6" lengthAdjust="spacingAndGlyphs">0.6</text><text x="608.9" y="490.00" textLength="20.6" lengthAdjust="spacingAndGlyphs">0.4</text><text x="608.9" y="623.00" textLength="20.6" lengthAdjust="spacingAndGlyphs">0.2</text></g>
<text transform="translate(644.8 341.75) rotate(-90)" font-size="13.89" text-anchor="middle" textLength="117" lengthAdjust="spacingAndGlyphs" fill="#000">Target Mesh Size</text>
</svg>
</body></html>
